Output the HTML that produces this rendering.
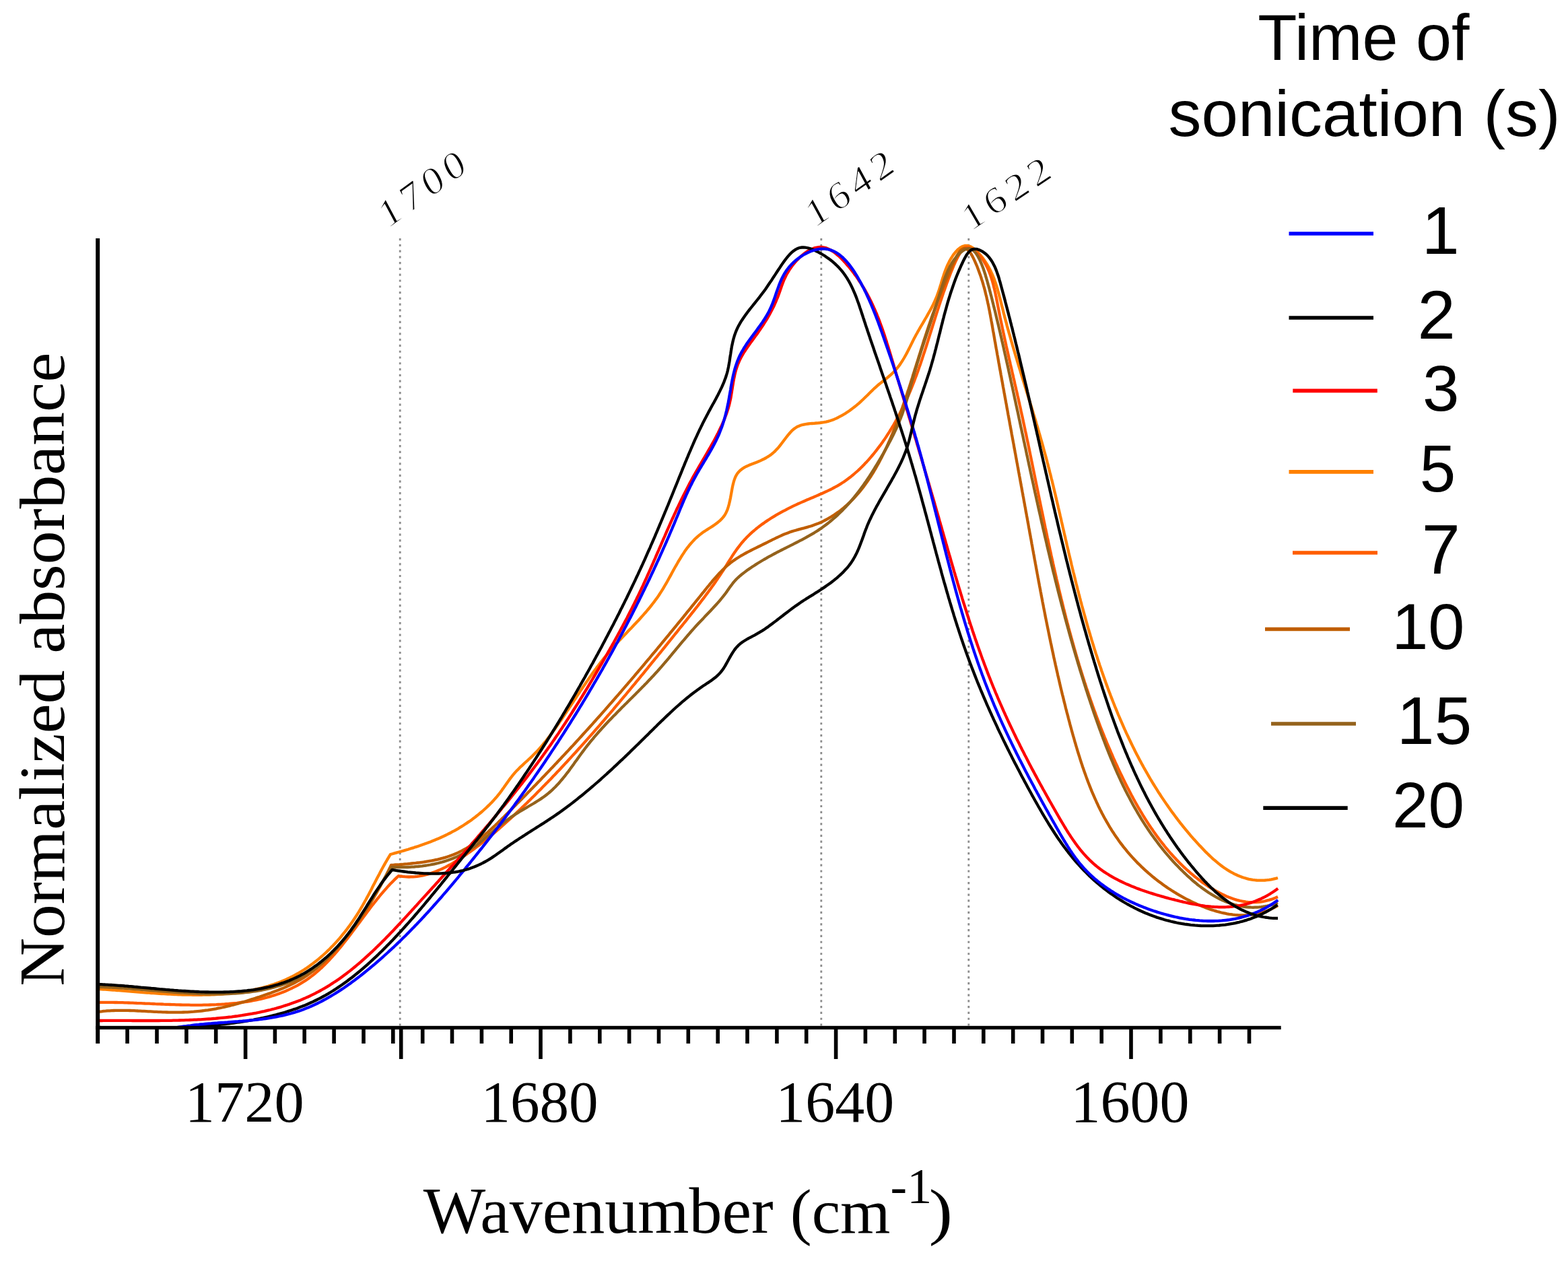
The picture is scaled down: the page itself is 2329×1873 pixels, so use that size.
<!DOCTYPE html>
<html><head><meta charset="utf-8"><title>FTIR spectra - normalized absorbance vs wavenumber</title>
<style>html,body{margin:0;padding:0;background:#fff;overflow:hidden}svg{display:block}</style></head><body>
<svg width="2329" height="1873" viewBox="0 0 2329 1873">
<rect width="2329" height="1873" fill="#fff"/>
<line x1="594.2" y1="354" x2="594.2" y2="1524" stroke="#8c8c8c" stroke-width="2.8" stroke-dasharray="3.2 5.57"/>
<line x1="1219.8" y1="354" x2="1219.8" y2="1524" stroke="#8c8c8c" stroke-width="2.8" stroke-dasharray="3.2 5.57"/>
<line x1="1438.8" y1="354" x2="1438.8" y2="1524" stroke="#8c8c8c" stroke-width="2.8" stroke-dasharray="3.2 5.57"/>
<g fill="none" stroke-width="4.3" stroke-linejoin="round" stroke-linecap="butt">
<path d="M145.0,1469.0 L147.8,1469.2 L150.6,1469.3 L153.4,1469.5 L156.2,1469.7 L159.1,1469.9 L162.0,1470.1 L164.8,1470.3 L167.7,1470.5 L170.6,1470.7 L173.5,1471.0 L176.5,1471.2 L179.4,1471.4 L182.3,1471.7 L185.3,1471.9 L188.3,1472.1 L191.3,1472.4 L194.2,1472.6 L197.2,1472.9 L200.3,1473.1 L203.3,1473.3 L206.3,1473.6 L209.3,1473.8 L212.4,1474.1 L215.4,1474.3 L218.5,1474.5 L221.5,1474.7 L224.6,1475.0 L227.7,1475.2 L230.8,1475.4 L233.8,1475.6 L236.9,1475.8 L240.0,1476.0 L243.1,1476.2 L246.2,1476.4 L249.3,1476.5 L252.5,1476.7 L255.6,1476.9 L258.7,1477.0 L261.8,1477.1 L264.9,1477.3 L268.0,1477.4 L271.1,1477.5 L274.3,1477.6 L277.4,1477.6 L280.5,1477.7 L283.6,1477.7 L286.7,1477.8 L289.9,1477.8 L293.0,1477.8 L296.1,1477.8 L299.2,1477.8 L302.3,1477.7 L305.4,1477.7 L308.5,1477.6 L311.6,1477.5 L314.7,1477.4 L317.8,1477.3 L320.9,1477.1 L324.0,1476.9 L327.0,1476.8 L330.1,1476.5 L333.2,1476.3 L336.2,1476.0 L339.3,1475.8 L342.3,1475.5 L345.4,1475.1 L348.4,1474.8 L351.4,1474.4 L354.4,1474.0 L357.4,1473.6 L360.4,1473.1 L363.4,1472.7 L366.4,1472.2 L369.3,1471.6 L372.3,1471.1 L375.2,1470.5 L378.1,1469.9 L381.0,1469.2 L383.9,1468.5 L386.8,1467.8 L389.7,1467.1 L392.6,1466.3 L395.4,1465.5 L398.2,1464.7 L401.1,1463.8 L403.9,1462.9 L406.7,1462.0 L409.4,1461.0 L412.2,1460.0 L414.9,1459.0 L417.7,1457.9 L420.4,1456.8 L423.1,1455.6 L425.7,1454.5 L428.4,1453.2 L431.0,1452.0 L433.6,1450.7 L436.2,1449.3 L438.8,1447.9 L441.4,1446.5 L443.9,1445.1 L446.4,1443.6 L448.9,1442.0 L451.4,1440.5 L453.9,1438.9 L456.3,1437.2 L458.7,1435.6 L461.1,1433.8 L463.5,1432.1 L465.9,1430.3 L468.2,1428.5 L470.5,1426.7 L472.8,1424.8 L475.1,1422.9 L477.3,1421.0 L479.6,1419.0 L481.8,1417.0 L484.0,1415.0 L486.1,1412.9 L488.3,1410.9 L490.4,1408.8 L492.5,1406.6 L494.6,1404.5 L496.7,1402.3 L498.7,1400.1 L500.7,1397.9 L502.7,1395.6 L504.7,1393.4 L506.6,1391.1 L508.5,1388.7 L510.4,1386.4 L512.3,1384.1 L514.2,1381.7 L516.0,1379.3 L517.8,1376.9 L519.6,1374.4 L521.3,1372.0 L523.1,1369.5 L524.8,1367.0 L526.5,1364.5 L528.1,1362.0 L529.8,1359.5 L531.4,1356.9 L533.0,1354.4 L534.5,1351.8 L536.1,1349.2 L537.6,1346.7 L539.1,1344.0 L540.6,1341.4 L542.0,1338.8 L543.5,1336.2 L544.9,1333.5 L546.3,1330.9 L547.8,1328.2 L549.2,1325.6 L550.6,1322.9 L552.0,1320.2 L553.3,1317.5 L554.7,1314.8 L556.1,1312.2 L557.5,1309.5 L558.9,1306.8 L560.3,1304.1 L561.7,1301.4 L563.2,1298.7 L564.6,1295.9 L566.0,1293.2 L567.5,1290.5 L569.0,1287.8 L570.5,1285.1 L572.0,1282.4 L573.6,1279.7 L575.1,1277.0 L576.7,1274.4 L578.3,1271.7 L580.0,1269.0 L582.9,1268.2 L585.8,1267.4 L588.7,1266.6 L591.6,1265.8 L594.5,1265.0 L597.3,1264.2 L600.2,1263.4 L603.1,1262.5 L605.9,1261.7 L608.8,1260.8 L611.7,1259.9 L614.5,1259.1 L617.3,1258.1 L620.2,1257.2 L623.0,1256.3 L625.8,1255.3 L628.6,1254.3 L631.4,1253.3 L634.2,1252.3 L637.0,1251.2 L639.8,1250.2 L642.6,1249.1 L645.3,1248.0 L648.1,1246.8 L650.8,1245.7 L653.6,1244.5 L656.3,1243.2 L659.0,1242.0 L661.7,1240.7 L664.4,1239.4 L667.1,1238.0 L669.8,1236.7 L672.4,1235.2 L675.1,1233.8 L677.7,1232.3 L680.4,1230.8 L683.0,1229.2 L685.6,1227.6 L688.2,1226.0 L690.8,1224.3 L693.3,1222.6 L695.8,1220.9 L698.4,1219.2 L700.9,1217.4 L703.3,1215.5 L705.8,1213.7 L708.2,1211.8 L710.6,1209.9 L712.9,1208.0 L715.3,1206.0 L717.6,1204.0 L719.8,1202.0 L722.0,1200.0 L724.2,1197.9 L726.3,1195.9 L728.4,1193.8 L730.5,1191.7 L732.5,1189.6 L734.4,1187.4 L736.3,1185.3 L738.2,1183.1 L740.0,1180.9 L741.7,1178.8 L743.4,1176.6 L745.0,1174.4 L746.6,1172.1 L748.2,1169.9 L749.7,1167.7 L751.3,1165.5 L752.9,1163.2 L754.5,1161.0 L756.1,1158.7 L757.8,1156.4 L759.5,1154.2 L761.3,1151.9 L763.2,1149.7 L765.1,1147.4 L767.2,1145.1 L769.4,1142.9 L771.7,1140.6 L774.0,1138.3 L776.5,1136.1 L778.9,1133.8 L781.4,1131.5 L783.9,1129.3 L786.3,1127.0 L788.7,1124.8 L791.0,1122.6 L793.3,1120.3 L795.5,1118.1 L797.6,1115.9 L799.7,1113.6 L801.7,1111.4 L803.7,1109.2 L805.6,1107.0 L807.4,1104.7 L809.3,1102.5 L811.1,1100.3 L812.8,1098.0 L814.6,1095.7 L816.3,1093.5 L818.0,1091.2 L819.7,1088.9 L821.3,1086.6 L823.0,1084.2 L824.7,1081.9 L826.4,1079.5 L828.0,1077.1 L829.7,1074.7 L831.3,1072.3 L833.0,1069.9 L834.7,1067.5 L836.3,1065.1 L838.0,1062.6 L839.6,1060.1 L841.3,1057.7 L842.9,1055.2 L844.6,1052.7 L846.2,1050.2 L847.9,1047.7 L849.5,1045.3 L851.2,1042.8 L852.8,1040.2 L854.5,1037.7 L856.2,1035.2 L857.8,1032.7 L859.5,1030.2 L861.2,1027.7 L862.8,1025.2 L864.5,1022.7 L866.2,1020.2 L867.9,1017.7 L869.6,1015.2 L871.3,1012.7 L873.1,1010.2 L874.8,1007.7 L876.5,1005.2 L878.3,1002.8 L880.0,1000.3 L881.8,997.8 L883.6,995.4 L885.4,993.0 L887.1,990.5 L889.0,988.1 L890.8,985.7 L892.6,983.4 L894.4,981.0 L896.3,978.6 L898.2,976.3 L900.1,974.0 L902.0,971.6 L903.9,969.3 L905.8,967.1 L907.7,964.8 L909.7,962.6 L911.7,960.4 L913.6,958.1 L915.6,956.0 L917.6,953.8 L919.6,951.6 L921.7,949.4 L923.7,947.3 L925.7,945.2 L927.8,943.0 L929.8,940.9 L931.8,938.8 L933.9,936.6 L935.9,934.5 L938.0,932.4 L940.0,930.2 L942.0,928.1 L944.0,926.0 L946.1,923.8 L948.1,921.7 L950.1,919.5 L952.0,917.3 L954.0,915.1 L956.0,912.9 L957.9,910.7 L959.9,908.5 L961.8,906.2 L963.7,904.0 L965.6,901.7 L967.4,899.4 L969.2,897.0 L971.1,894.7 L972.8,892.3 L974.6,889.9 L976.4,887.4 L978.1,885.0 L979.7,882.5 L981.4,879.9 L983.0,877.4 L984.6,874.8 L986.2,872.1 L987.7,869.5 L989.3,866.8 L990.8,864.2 L992.3,861.5 L993.8,858.8 L995.3,856.1 L996.8,853.4 L998.3,850.6 L999.7,847.9 L1001.2,845.2 L1002.7,842.5 L1004.3,839.8 L1005.8,837.2 L1007.3,834.5 L1008.9,831.9 L1010.5,829.3 L1012.1,826.7 L1013.7,824.1 L1015.4,821.6 L1017.0,819.1 L1018.8,816.6 L1020.5,814.2 L1022.4,811.9 L1024.2,809.5 L1026.1,807.3 L1028.1,805.1 L1030.1,802.9 L1032.1,800.8 L1034.2,798.8 L1036.4,796.8 L1038.7,794.9 L1041.0,793.1 L1043.4,791.3 L1045.8,789.6 L1048.3,788.0 L1050.8,786.4 L1053.3,784.8 L1055.8,783.2 L1058.3,781.6 L1060.7,780.0 L1063.1,778.3 L1065.5,776.5 L1067.7,774.7 L1069.9,772.8 L1071.9,770.7 L1073.8,768.6 L1075.6,766.3 L1077.2,763.8 L1078.6,761.2 L1079.9,758.4 L1081.0,755.5 L1081.9,752.5 L1082.8,749.3 L1083.6,746.1 L1084.3,742.8 L1085.0,739.5 L1085.6,736.2 L1086.2,732.8 L1086.8,729.5 L1087.4,726.2 L1088.0,723.0 L1088.7,719.9 L1089.5,716.8 L1090.3,713.9 L1091.3,711.1 L1092.3,708.5 L1093.6,706.0 L1094.9,703.8 L1096.5,701.7 L1098.2,699.9 L1100.1,698.2 L1102.1,696.6 L1104.2,695.2 L1106.4,693.9 L1108.8,692.7 L1111.2,691.6 L1113.7,690.5 L1116.3,689.5 L1118.9,688.5 L1121.6,687.4 L1124.3,686.4 L1127.1,685.3 L1129.8,684.1 L1132.5,682.8 L1135.2,681.5 L1137.9,680.0 L1140.5,678.4 L1143.1,676.7 L1145.6,674.9 L1148.0,673.0 L1150.4,670.9 L1152.6,668.6 L1154.8,666.3 L1156.9,663.9 L1158.9,661.4 L1160.9,658.8 L1162.8,656.3 L1164.7,653.7 L1166.6,651.2 L1168.5,648.7 L1170.4,646.3 L1172.4,644.0 L1174.3,641.8 L1176.3,639.7 L1178.4,637.8 L1180.5,636.2 L1182.8,634.7 L1185.1,633.4 L1187.5,632.4 L1189.9,631.5 L1192.5,630.9 L1195.1,630.3 L1197.8,629.9 L1200.5,629.5 L1203.3,629.2 L1206.2,629.0 L1209.0,628.8 L1212.0,628.5 L1214.9,628.3 L1217.9,628.0 L1220.9,627.6 L1223.8,627.2 L1226.9,626.6 L1229.9,625.9 L1232.9,625.0 L1235.9,624.0 L1238.8,622.9 L1241.8,621.6 L1244.7,620.2 L1247.6,618.7 L1250.5,617.2 L1253.3,615.5 L1256.1,613.8 L1258.8,612.0 L1261.5,610.2 L1264.1,608.3 L1266.6,606.4 L1269.1,604.5 L1271.5,602.6 L1273.8,600.7 L1276.0,598.8 L1278.1,596.9 L1280.1,595.0 L1282.0,593.2 L1284.0,591.3 L1285.8,589.5 L1287.7,587.7 L1289.5,585.9 L1291.4,584.0 L1293.2,582.2 L1295.1,580.4 L1297.0,578.5 L1299.0,576.7 L1301.1,574.8 L1303.2,572.9 L1305.4,571.0 L1307.8,569.1 L1310.2,567.2 L1312.8,565.2 L1315.3,563.2 L1317.9,561.1 L1320.4,559.0 L1322.9,556.9 L1325.2,554.7 L1327.5,552.5 L1329.6,550.3 L1331.6,548.0 L1333.5,545.6 L1335.3,543.3 L1337.1,540.9 L1338.7,538.4 L1340.3,536.0 L1341.8,533.5 L1343.3,531.0 L1344.7,528.5 L1346.1,525.9 L1347.5,523.4 L1348.8,520.8 L1350.1,518.2 L1351.4,515.6 L1352.7,513.0 L1354.0,510.4 L1355.3,507.7 L1356.6,505.1 L1357.9,502.5 L1359.3,499.9 L1360.7,497.3 L1362.2,494.7 L1363.6,492.1 L1365.1,489.5 L1366.6,486.9 L1368.1,484.3 L1369.7,481.7 L1371.2,479.1 L1372.8,476.4 L1374.3,473.8 L1375.8,471.2 L1377.3,468.6 L1378.8,465.9 L1380.3,463.3 L1381.8,460.6 L1383.2,457.9 L1384.6,455.2 L1386.0,452.5 L1387.3,449.8 L1388.5,447.1 L1389.7,444.3 L1390.9,441.5 L1392.0,438.7 L1393.0,435.9 L1394.0,433.1 L1395.0,430.2 L1395.9,427.3 L1396.8,424.5 L1397.7,421.6 L1398.5,418.7 L1399.4,415.8 L1400.3,412.9 L1401.3,410.0 L1402.2,407.1 L1403.2,404.2 L1404.3,401.4 L1405.4,398.5 L1406.6,395.7 L1407.8,392.9 L1409.2,390.1 L1410.6,387.3 L1412.2,384.5 L1413.9,381.8 L1415.6,379.1 L1417.5,376.6 L1419.5,374.2 L1421.6,371.9 L1423.7,369.9 L1425.9,368.2 L1428.2,366.8 L1430.5,365.7 L1432.9,365.0 L1435.3,364.8 L1437.7,365.0 L1440.1,365.7 L1442.6,366.8 L1445.0,368.3 L1447.4,370.0 L1449.7,372.1 L1452.0,374.3 L1454.1,376.6 L1456.2,379.0 L1458.2,381.4 L1460.2,383.9 L1462.0,386.4 L1463.7,388.9 L1465.3,391.4 L1466.9,394.0 L1468.4,396.6 L1469.8,399.2 L1471.1,401.8 L1472.4,404.5 L1473.6,407.2 L1474.8,409.9 L1475.9,412.6 L1476.9,415.3 L1477.9,418.1 L1478.9,420.8 L1479.8,423.6 L1480.7,426.4 L1481.5,429.2 L1482.3,432.0 L1483.1,434.9 L1483.9,437.7 L1484.6,440.5 L1485.4,443.4 L1486.1,446.3 L1486.8,449.1 L1487.5,452.0 L1488.2,454.9 L1489.0,457.8 L1489.7,460.6 L1490.4,463.5 L1491.1,466.4 L1491.9,469.3 L1492.6,472.2 L1493.4,475.0 L1494.2,477.9 L1495.0,480.8 L1495.7,483.7 L1496.5,486.6 L1497.3,489.5 L1498.1,492.4 L1498.9,495.2 L1499.8,498.1 L1500.6,501.0 L1501.4,503.9 L1502.2,506.8 L1503.1,509.7 L1503.9,512.6 L1504.8,515.5 L1505.6,518.4 L1506.5,521.3 L1507.3,524.2 L1508.2,527.1 L1509.1,530.0 L1510.0,532.9 L1510.8,535.8 L1511.7,538.7 L1512.6,541.6 L1513.5,544.5 L1514.4,547.4 L1515.3,550.3 L1516.1,553.2 L1517.0,556.1 L1517.9,559.0 L1518.8,561.9 L1519.7,564.8 L1520.6,567.7 L1521.5,570.6 L1522.4,573.5 L1523.3,576.4 L1524.2,579.4 L1525.1,582.3 L1526.0,585.2 L1526.9,588.1 L1527.8,591.0 L1528.7,593.9 L1529.6,596.8 L1530.5,599.7 L1531.4,602.6 L1532.3,605.5 L1533.2,608.5 L1534.1,611.4 L1534.9,614.3 L1535.8,617.2 L1536.7,620.1 L1537.6,623.0 L1538.5,625.9 L1539.3,628.8 L1540.2,631.8 L1541.1,634.7 L1541.9,637.6 L1542.8,640.5 L1543.6,643.4 L1544.5,646.3 L1545.3,649.3 L1546.1,652.2 L1547.0,655.1 L1547.8,658.0 L1548.6,660.9 L1549.4,663.8 L1550.2,666.7 L1551.0,669.7 L1551.8,672.6 L1552.6,675.5 L1553.4,678.4 L1554.2,681.3 L1555.0,684.2 L1555.7,687.2 L1556.5,690.1 L1557.2,693.0 L1558.0,695.9 L1558.7,698.8 L1559.4,701.7 L1560.2,704.6 L1560.9,707.6 L1561.6,710.5 L1562.4,713.4 L1563.1,716.3 L1563.8,719.2 L1564.5,722.1 L1565.2,725.0 L1565.9,728.0 L1566.6,730.9 L1567.3,733.8 L1568.0,736.7 L1568.6,739.6 L1569.3,742.5 L1570.0,745.4 L1570.7,748.4 L1571.4,751.3 L1572.0,754.2 L1572.7,757.1 L1573.4,760.0 L1574.1,762.9 L1574.7,765.8 L1575.4,768.7 L1576.1,771.6 L1576.7,774.5 L1577.4,777.4 L1578.1,780.4 L1578.7,783.3 L1579.4,786.2 L1580.1,789.1 L1580.7,792.0 L1581.4,794.9 L1582.1,797.8 L1582.7,800.7 L1583.4,803.6 L1584.1,806.5 L1584.7,809.4 L1585.4,812.3 L1586.1,815.2 L1586.8,818.1 L1587.4,821.0 L1588.1,823.9 L1588.8,826.8 L1589.5,829.7 L1590.2,832.6 L1590.9,835.5 L1591.5,838.4 L1592.2,841.3 L1592.9,844.2 L1593.6,847.1 L1594.3,850.0 L1595.1,852.8 L1595.8,855.7 L1596.5,858.6 L1597.2,861.5 L1597.9,864.4 L1598.6,867.3 L1599.4,870.2 L1600.1,873.1 L1600.8,876.0 L1601.6,878.8 L1602.3,881.7 L1603.1,884.6 L1603.8,887.5 L1604.6,890.4 L1605.3,893.2 L1606.1,896.1 L1606.8,899.0 L1607.6,901.9 L1608.4,904.7 L1609.2,907.6 L1610.0,910.5 L1610.8,913.4 L1611.6,916.2 L1612.4,919.1 L1613.2,922.0 L1614.0,924.8 L1614.8,927.7 L1615.6,930.6 L1616.4,933.4 L1617.3,936.3 L1618.1,939.2 L1619.0,942.0 L1619.8,944.9 L1620.7,947.7 L1621.5,950.6 L1622.4,953.4 L1623.3,956.3 L1624.2,959.2 L1625.0,962.0 L1625.9,964.9 L1626.8,967.7 L1627.7,970.6 L1628.7,973.4 L1629.6,976.2 L1630.5,979.1 L1631.4,981.9 L1632.4,984.8 L1633.3,987.6 L1634.3,990.4 L1635.3,993.3 L1636.2,996.1 L1637.2,998.9 L1638.2,1001.8 L1639.2,1004.6 L1640.2,1007.4 L1641.2,1010.3 L1642.2,1013.1 L1643.2,1015.9 L1644.3,1018.7 L1645.3,1021.6 L1646.3,1024.4 L1647.4,1027.2 L1648.5,1030.0 L1649.5,1032.8 L1650.6,1035.6 L1651.7,1038.4 L1652.8,1041.2 L1653.9,1044.0 L1655.0,1046.8 L1656.1,1049.6 L1657.3,1052.4 L1658.4,1055.2 L1659.6,1058.0 L1660.7,1060.8 L1661.9,1063.5 L1663.1,1066.3 L1664.3,1069.1 L1665.5,1071.8 L1666.7,1074.6 L1667.9,1077.4 L1669.1,1080.1 L1670.3,1082.9 L1671.6,1085.6 L1672.8,1088.4 L1674.1,1091.1 L1675.4,1093.8 L1676.7,1096.6 L1678.0,1099.3 L1679.3,1102.0 L1680.6,1104.7 L1681.9,1107.4 L1683.2,1110.1 L1684.6,1112.8 L1685.9,1115.5 L1687.3,1118.2 L1688.7,1120.9 L1690.1,1123.6 L1691.5,1126.2 L1692.9,1128.9 L1694.3,1131.6 L1695.7,1134.2 L1697.2,1136.9 L1698.6,1139.5 L1700.1,1142.1 L1701.6,1144.8 L1703.1,1147.4 L1704.6,1150.0 L1706.1,1152.6 L1707.6,1155.2 L1709.1,1157.8 L1710.7,1160.4 L1712.2,1163.0 L1713.8,1165.5 L1715.4,1168.1 L1717.0,1170.7 L1718.6,1173.2 L1720.2,1175.8 L1721.8,1178.3 L1723.5,1180.8 L1725.1,1183.4 L1726.8,1185.9 L1728.5,1188.4 L1730.2,1190.9 L1731.9,1193.4 L1733.6,1195.8 L1735.3,1198.3 L1737.1,1200.8 L1738.8,1203.2 L1740.6,1205.7 L1742.4,1208.1 L1744.2,1210.5 L1746.0,1213.0 L1747.8,1215.4 L1749.6,1217.8 L1751.5,1220.2 L1753.3,1222.6 L1755.2,1224.9 L1757.1,1227.3 L1759.0,1229.6 L1760.9,1232.0 L1762.9,1234.3 L1764.8,1236.7 L1766.8,1239.0 L1768.7,1241.3 L1770.7,1243.6 L1772.7,1245.9 L1774.8,1248.1 L1776.8,1250.4 L1778.8,1252.6 L1780.9,1254.9 L1783.0,1257.1 L1785.1,1259.3 L1787.2,1261.5 L1789.3,1263.7 L1791.4,1265.9 L1793.6,1268.0 L1795.8,1270.1 L1798.0,1272.2 L1800.2,1274.3 L1802.4,1276.3 L1804.7,1278.2 L1807.0,1280.2 L1809.3,1282.1 L1811.6,1283.9 L1813.9,1285.7 L1816.3,1287.5 L1818.7,1289.2 L1821.1,1290.8 L1823.5,1292.4 L1826.0,1293.9 L1828.5,1295.4 L1831.0,1296.7 L1833.6,1298.1 L1836.2,1299.3 L1838.8,1300.5 L1841.4,1301.6 L1844.1,1302.6 L1846.8,1303.5 L1849.5,1304.3 L1852.3,1305.1 L1855.1,1305.8 L1857.9,1306.3 L1860.8,1306.8 L1863.7,1307.2 L1866.6,1307.5 L1869.6,1307.6 L1872.6,1307.7 L1875.6,1307.6 L1878.7,1307.5 L1881.8,1307.2 L1885.0,1306.8 L1888.2,1306.3 L1891.4,1305.7 L1894.7,1304.9 L1898.0,1304.0" stroke="#ff8000"/>
<path d="M145.0,1489.0 L147.8,1488.9 L150.6,1488.9 L153.4,1488.9 L156.2,1488.9 L159.0,1488.9 L161.9,1488.9 L164.7,1488.9 L167.6,1488.9 L170.5,1489.0 L173.4,1489.0 L176.4,1489.1 L179.3,1489.2 L182.2,1489.2 L185.2,1489.3 L188.2,1489.4 L191.1,1489.5 L194.1,1489.6 L197.1,1489.7 L200.1,1489.8 L203.2,1490.0 L206.2,1490.1 L209.2,1490.2 L212.3,1490.3 L215.3,1490.5 L218.4,1490.6 L221.5,1490.7 L224.6,1490.9 L227.6,1491.0 L230.7,1491.2 L233.8,1491.3 L236.9,1491.4 L240.0,1491.5 L243.1,1491.7 L246.3,1491.8 L249.4,1491.9 L252.5,1492.0 L255.6,1492.1 L258.7,1492.2 L261.9,1492.3 L265.0,1492.4 L268.1,1492.5 L271.3,1492.6 L274.4,1492.6 L277.5,1492.7 L280.7,1492.7 L283.8,1492.8 L286.9,1492.8 L290.1,1492.8 L293.2,1492.8 L296.3,1492.8 L299.5,1492.8 L302.6,1492.7 L305.7,1492.7 L308.8,1492.6 L311.9,1492.5 L315.0,1492.4 L318.1,1492.3 L321.2,1492.2 L324.3,1492.0 L327.4,1491.9 L330.5,1491.7 L333.6,1491.5 L336.6,1491.2 L339.7,1491.0 L342.7,1490.7 L345.8,1490.4 L348.8,1490.1 L351.8,1489.8 L354.9,1489.4 L357.9,1489.0 L360.9,1488.6 L363.8,1488.2 L366.8,1487.8 L369.8,1487.3 L372.7,1486.8 L375.7,1486.2 L378.6,1485.7 L381.5,1485.1 L384.4,1484.5 L387.3,1483.8 L390.1,1483.1 L393.0,1482.4 L395.8,1481.7 L398.7,1480.9 L401.5,1480.1 L404.3,1479.3 L407.1,1478.4 L409.8,1477.5 L412.6,1476.5 L415.3,1475.6 L418.0,1474.6 L420.7,1473.5 L423.4,1472.4 L426.0,1471.3 L428.6,1470.1 L431.2,1468.9 L433.8,1467.7 L436.4,1466.4 L439.0,1465.1 L441.5,1463.8 L444.0,1462.4 L446.5,1460.9 L448.9,1459.4 L451.4,1457.9 L453.8,1456.4 L456.2,1454.7 L458.6,1453.1 L460.9,1451.4 L463.2,1449.6 L465.5,1447.9 L467.8,1446.0 L470.0,1444.2 L472.3,1442.2 L474.5,1440.3 L476.6,1438.3 L478.8,1436.3 L480.9,1434.2 L483.1,1432.1 L485.2,1430.0 L487.3,1427.8 L489.3,1425.7 L491.4,1423.4 L493.4,1421.2 L495.5,1418.9 L497.5,1416.7 L499.5,1414.3 L501.5,1412.0 L503.4,1409.6 L505.4,1407.3 L507.4,1404.9 L509.3,1402.5 L511.2,1400.0 L513.1,1397.6 L515.1,1395.2 L517.0,1392.7 L518.9,1390.2 L520.8,1387.7 L522.6,1385.2 L524.5,1382.7 L526.4,1380.2 L528.3,1377.7 L530.1,1375.2 L532.0,1372.7 L533.9,1370.2 L535.7,1367.7 L537.6,1365.2 L539.4,1362.7 L541.3,1360.2 L543.2,1357.7 L545.0,1355.2 L546.9,1352.7 L548.8,1350.2 L550.6,1347.8 L552.5,1345.3 L554.4,1342.9 L556.3,1340.5 L558.2,1338.1 L560.1,1335.7 L562.0,1333.3 L563.9,1331.0 L565.8,1328.7 L567.8,1326.4 L569.7,1324.1 L571.7,1321.8 L573.7,1319.6 L575.6,1317.4 L577.6,1315.2 L579.6,1313.1 L581.7,1311.0 L583.7,1308.9 L585.7,1306.9 L587.8,1304.9 L589.9,1302.9 L592.0,1301.0 L595.1,1301.5 L598.2,1301.9 L601.3,1302.2 L604.4,1302.4 L607.4,1302.5 L610.5,1302.4 L613.5,1302.3 L616.4,1302.1 L619.4,1301.8 L622.3,1301.4 L625.3,1300.9 L628.2,1300.3 L631.0,1299.7 L633.9,1299.0 L636.7,1298.2 L639.6,1297.3 L642.4,1296.3 L645.2,1295.3 L647.9,1294.3 L650.7,1293.1 L653.4,1291.9 L656.1,1290.7 L658.8,1289.4 L661.5,1288.1 L664.2,1286.7 L666.8,1285.2 L669.5,1283.8 L672.1,1282.3 L674.7,1280.7 L677.3,1279.1 L679.8,1277.5 L682.4,1275.9 L684.9,1274.2 L687.4,1272.6 L690.0,1270.9 L692.5,1269.2 L694.9,1267.4 L697.4,1265.7 L699.9,1263.9 L702.3,1262.2 L704.8,1260.4 L707.2,1258.6 L709.6,1256.8 L712.0,1255.0 L714.4,1253.1 L716.7,1251.3 L719.1,1249.4 L721.4,1247.5 L723.8,1245.7 L726.1,1243.8 L728.4,1241.9 L730.7,1239.9 L733.0,1238.0 L735.3,1236.1 L737.6,1234.1 L739.9,1232.2 L742.1,1230.2 L744.4,1228.2 L746.7,1226.2 L748.9,1224.2 L751.1,1222.2 L753.3,1220.2 L755.6,1218.2 L757.8,1216.2 L760.0,1214.1 L762.2,1212.1 L764.4,1210.1 L766.5,1208.0 L768.7,1205.9 L770.9,1203.9 L773.1,1201.8 L775.2,1199.7 L777.4,1197.7 L779.5,1195.6 L781.7,1193.5 L783.8,1191.4 L786.0,1189.3 L788.1,1187.2 L790.2,1185.1 L792.4,1183.0 L794.5,1180.9 L796.6,1178.8 L798.7,1176.6 L800.8,1174.5 L802.9,1172.4 L805.0,1170.2 L807.1,1168.1 L809.2,1166.0 L811.3,1163.8 L813.4,1161.7 L815.5,1159.5 L817.6,1157.4 L819.7,1155.2 L821.7,1153.0 L823.8,1150.9 L825.9,1148.7 L827.9,1146.5 L830.0,1144.4 L832.1,1142.2 L834.1,1140.0 L836.2,1137.8 L838.2,1135.6 L840.2,1133.4 L842.3,1131.2 L844.3,1129.0 L846.4,1126.8 L848.4,1124.6 L850.4,1122.4 L852.4,1120.2 L854.5,1118.0 L856.5,1115.8 L858.5,1113.5 L860.5,1111.3 L862.5,1109.1 L864.5,1106.8 L866.5,1104.6 L868.5,1102.4 L870.5,1100.1 L872.5,1097.9 L874.5,1095.6 L876.5,1093.4 L878.5,1091.1 L880.5,1088.9 L882.5,1086.6 L884.4,1084.4 L886.4,1082.1 L888.4,1079.8 L890.4,1077.6 L892.3,1075.3 L894.3,1073.0 L896.3,1070.8 L898.2,1068.5 L900.2,1066.2 L902.1,1063.9 L904.1,1061.6 L906.1,1059.4 L908.0,1057.1 L910.0,1054.8 L911.9,1052.5 L913.9,1050.2 L915.8,1047.9 L917.7,1045.6 L919.7,1043.3 L921.6,1041.0 L923.6,1038.7 L925.5,1036.4 L927.4,1034.1 L929.4,1031.8 L931.3,1029.5 L933.2,1027.1 L935.2,1024.8 L937.1,1022.5 L939.0,1020.2 L940.9,1017.9 L942.9,1015.6 L944.8,1013.2 L946.7,1010.9 L948.6,1008.6 L950.5,1006.3 L952.4,1003.9 L954.4,1001.6 L956.3,999.3 L958.2,996.9 L960.1,994.6 L962.0,992.3 L963.9,989.9 L965.8,987.6 L967.7,985.2 L969.6,982.9 L971.5,980.6 L973.4,978.2 L975.4,975.9 L977.3,973.5 L979.2,971.2 L981.1,968.8 L983.0,966.5 L984.9,964.1 L986.8,961.8 L988.7,959.4 L990.6,957.1 L992.5,954.7 L994.4,952.4 L996.3,950.0 L998.2,947.7 L1000.0,945.3 L1001.9,943.0 L1003.8,940.6 L1005.7,938.3 L1007.6,935.9 L1009.5,933.5 L1011.4,931.2 L1013.3,928.8 L1015.2,926.5 L1017.1,924.1 L1019.0,921.8 L1020.9,919.4 L1022.8,917.0 L1024.7,914.7 L1026.5,912.3 L1028.4,909.9 L1030.3,907.6 L1032.2,905.2 L1034.0,902.8 L1035.9,900.5 L1037.7,898.1 L1039.6,895.7 L1041.4,893.3 L1043.2,890.9 L1045.0,888.6 L1046.8,886.2 L1048.6,883.8 L1050.4,881.4 L1052.2,879.0 L1053.9,876.6 L1055.7,874.2 L1057.4,871.8 L1059.1,869.4 L1060.9,866.9 L1062.6,864.5 L1064.2,862.1 L1065.9,859.7 L1067.5,857.2 L1069.2,854.8 L1070.8,852.4 L1072.4,849.9 L1074.0,847.5 L1075.6,845.0 L1077.1,842.5 L1078.7,840.1 L1080.2,837.6 L1081.7,835.2 L1083.3,832.7 L1084.8,830.3 L1086.4,827.8 L1087.9,825.4 L1089.5,823.0 L1091.1,820.6 L1092.8,818.3 L1094.4,815.9 L1096.1,813.6 L1097.9,811.3 L1099.7,809.0 L1101.5,806.7 L1103.4,804.5 L1105.3,802.3 L1107.3,800.2 L1109.3,798.1 L1111.4,796.0 L1113.5,793.9 L1115.7,791.9 L1117.9,789.9 L1120.2,788.0 L1122.5,786.0 L1124.8,784.1 L1127.2,782.3 L1129.6,780.4 L1132.1,778.6 L1134.6,776.9 L1137.1,775.1 L1139.6,773.4 L1142.2,771.7 L1144.8,770.0 L1147.4,768.4 L1150.0,766.8 L1152.7,765.2 L1155.4,763.7 L1158.1,762.2 L1160.8,760.7 L1163.5,759.2 L1166.2,757.8 L1168.9,756.3 L1171.7,754.9 L1174.4,753.6 L1177.2,752.2 L1179.9,750.9 L1182.7,749.6 L1185.5,748.3 L1188.2,747.1 L1190.9,745.9 L1193.7,744.7 L1196.4,743.5 L1199.1,742.3 L1201.8,741.2 L1204.5,740.0 L1207.2,738.9 L1209.9,737.8 L1212.6,736.6 L1215.2,735.5 L1217.8,734.3 L1220.5,733.2 L1223.1,732.0 L1225.7,730.8 L1228.3,729.6 L1230.9,728.4 L1233.4,727.2 L1236.0,725.9 L1238.5,724.5 L1241.0,723.2 L1243.5,721.8 L1246.0,720.3 L1248.5,718.8 L1250.9,717.3 L1253.4,715.7 L1255.8,714.0 L1258.2,712.3 L1260.5,710.6 L1262.9,708.8 L1265.2,706.9 L1267.5,705.0 L1269.8,703.0 L1272.1,701.0 L1274.4,699.0 L1276.6,696.9 L1278.8,694.7 L1281.0,692.6 L1283.1,690.4 L1285.3,688.1 L1287.4,685.9 L1289.5,683.6 L1291.5,681.3 L1293.6,678.9 L1295.6,676.5 L1297.6,674.2 L1299.5,671.7 L1301.4,669.3 L1303.3,666.9 L1305.2,664.4 L1307.1,661.9 L1308.9,659.4 L1310.7,657.0 L1312.4,654.4 L1314.2,651.9 L1315.9,649.4 L1317.5,646.9 L1319.2,644.3 L1320.8,641.8 L1322.4,639.2 L1324.0,636.6 L1325.6,634.0 L1327.1,631.5 L1328.6,628.9 L1330.1,626.2 L1331.5,623.6 L1332.9,621.0 L1334.4,618.4 L1335.7,615.7 L1337.1,613.1 L1338.5,610.4 L1339.8,607.8 L1341.1,605.1 L1342.4,602.4 L1343.6,599.8 L1344.9,597.1 L1346.1,594.4 L1347.3,591.7 L1348.5,589.0 L1349.7,586.3 L1350.8,583.6 L1352.0,580.9 L1353.1,578.2 L1354.2,575.4 L1355.3,572.7 L1356.4,570.0 L1357.5,567.2 L1358.5,564.5 L1359.5,561.7 L1360.6,559.0 L1361.6,556.2 L1362.6,553.5 L1363.6,550.7 L1364.6,547.9 L1365.5,545.1 L1366.5,542.4 L1367.5,539.6 L1368.4,536.8 L1369.4,534.0 L1370.3,531.2 L1371.2,528.4 L1372.1,525.6 L1373.1,522.8 L1374.0,519.9 L1374.9,517.1 L1375.8,514.3 L1376.7,511.5 L1377.6,508.6 L1378.5,505.8 L1379.4,502.9 L1380.3,500.1 L1381.2,497.2 L1382.1,494.4 L1383.0,491.5 L1383.9,488.6 L1384.8,485.8 L1385.7,482.9 L1386.6,480.0 L1387.5,477.1 L1388.4,474.3 L1389.3,471.4 L1390.2,468.5 L1391.1,465.6 L1392.1,462.7 L1393.0,459.8 L1394.0,456.9 L1394.9,453.9 L1395.9,451.0 L1396.8,448.1 L1397.8,445.2 L1398.8,442.3 L1399.8,439.3 L1400.8,436.4 L1401.8,433.4 L1402.9,430.5 L1403.9,427.6 L1405.0,424.6 L1406.0,421.6 L1407.1,418.7 L1408.2,415.7 L1409.3,412.8 L1410.5,409.8 L1411.6,406.8 L1412.8,403.8 L1414.0,400.9 L1415.2,397.9 L1416.4,394.9 L1417.7,392.0 L1419.0,389.1 L1420.4,386.2 L1421.8,383.4 L1423.3,380.6 L1424.8,377.9 L1426.4,375.3 L1428.1,372.9 L1429.9,370.8 L1431.8,369.1 L1433.7,367.9 L1435.8,367.4 L1438.0,367.4 L1440.2,367.9 L1442.4,368.9 L1444.7,370.2 L1446.8,371.8 L1449.0,373.5 L1451.0,375.4 L1453.0,377.3 L1454.8,379.4 L1456.6,381.5 L1458.3,383.6 L1459.9,385.9 L1461.4,388.2 L1462.8,390.6 L1464.2,393.0 L1465.5,395.6 L1466.8,398.1 L1467.9,400.7 L1469.1,403.4 L1470.1,406.1 L1471.1,408.9 L1472.1,411.7 L1473.0,414.5 L1473.9,417.4 L1474.7,420.3 L1475.5,423.3 L1476.2,426.3 L1477.0,429.3 L1477.7,432.3 L1478.4,435.3 L1479.0,438.4 L1479.7,441.4 L1480.3,444.5 L1480.9,447.6 L1481.5,450.7 L1482.1,453.8 L1482.7,456.8 L1483.3,459.9 L1483.9,463.0 L1484.5,466.0 L1485.1,469.1 L1485.7,472.2 L1486.4,475.2 L1487.0,478.2 L1487.6,481.3 L1488.3,484.3 L1488.9,487.3 L1489.5,490.3 L1490.2,493.3 L1490.8,496.3 L1491.5,499.3 L1492.1,502.3 L1492.8,505.3 L1493.4,508.3 L1494.1,511.2 L1494.7,514.2 L1495.4,517.2 L1496.1,520.1 L1496.7,523.1 L1497.4,526.0 L1498.1,529.0 L1498.7,531.9 L1499.4,534.9 L1500.1,537.8 L1500.7,540.7 L1501.4,543.7 L1502.1,546.6 L1502.8,549.5 L1503.4,552.4 L1504.1,555.4 L1504.8,558.3 L1505.4,561.2 L1506.1,564.1 L1506.8,567.0 L1507.4,570.0 L1508.1,572.9 L1508.8,575.8 L1509.4,578.7 L1510.1,581.6 L1510.8,584.5 L1511.4,587.4 L1512.1,590.3 L1512.8,593.2 L1513.4,596.2 L1514.1,599.1 L1514.7,602.0 L1515.4,604.9 L1516.0,607.8 L1516.6,610.7 L1517.3,613.7 L1517.9,616.6 L1518.6,619.5 L1519.2,622.4 L1519.8,625.3 L1520.4,628.3 L1521.1,631.2 L1521.7,634.1 L1522.3,637.0 L1522.9,639.9 L1523.6,642.9 L1524.2,645.8 L1524.8,648.7 L1525.4,651.6 L1526.0,654.6 L1526.7,657.5 L1527.3,660.4 L1527.9,663.4 L1528.5,666.3 L1529.1,669.2 L1529.7,672.1 L1530.3,675.1 L1530.9,678.0 L1531.5,680.9 L1532.1,683.9 L1532.7,686.8 L1533.3,689.7 L1533.9,692.7 L1534.5,695.6 L1535.1,698.5 L1535.7,701.5 L1536.3,704.4 L1536.9,707.3 L1537.5,710.3 L1538.1,713.2 L1538.7,716.2 L1539.3,719.1 L1539.9,722.0 L1540.5,725.0 L1541.1,727.9 L1541.7,730.8 L1542.3,733.8 L1542.9,736.7 L1543.5,739.6 L1544.1,742.6 L1544.7,745.5 L1545.3,748.4 L1545.9,751.4 L1546.5,754.3 L1547.1,757.3 L1547.8,760.2 L1548.4,763.1 L1549.0,766.1 L1549.6,769.0 L1550.2,771.9 L1550.8,774.9 L1551.4,777.8 L1552.0,780.7 L1552.6,783.7 L1553.3,786.6 L1553.9,789.6 L1554.5,792.5 L1555.1,795.4 L1555.7,798.4 L1556.4,801.3 L1557.0,804.2 L1557.6,807.2 L1558.2,810.1 L1558.9,813.0 L1559.5,816.0 L1560.2,818.9 L1560.8,821.8 L1561.4,824.7 L1562.1,827.7 L1562.7,830.6 L1563.4,833.5 L1564.0,836.5 L1564.7,839.4 L1565.3,842.3 L1566.0,845.2 L1566.7,848.2 L1567.3,851.1 L1568.0,854.0 L1568.7,856.9 L1569.3,859.9 L1570.0,862.8 L1570.7,865.7 L1571.4,868.6 L1572.1,871.6 L1572.7,874.5 L1573.4,877.4 L1574.1,880.3 L1574.8,883.2 L1575.5,886.1 L1576.2,889.1 L1577.0,892.0 L1577.7,894.9 L1578.4,897.8 L1579.1,900.7 L1579.8,903.6 L1580.6,906.5 L1581.3,909.4 L1582.0,912.4 L1582.8,915.3 L1583.5,918.2 L1584.3,921.1 L1585.0,924.0 L1585.8,926.9 L1586.6,929.8 L1587.3,932.7 L1588.1,935.6 L1588.9,938.5 L1589.7,941.4 L1590.5,944.3 L1591.3,947.2 L1592.1,950.1 L1592.9,953.0 L1593.7,955.9 L1594.5,958.7 L1595.3,961.6 L1596.1,964.5 L1597.0,967.4 L1597.8,970.3 L1598.6,973.2 L1599.5,976.1 L1600.3,978.9 L1601.2,981.8 L1602.1,984.7 L1602.9,987.6 L1603.8,990.4 L1604.7,993.3 L1605.6,996.2 L1606.5,999.1 L1607.4,1001.9 L1608.3,1004.8 L1609.2,1007.7 L1610.1,1010.5 L1611.0,1013.4 L1612.0,1016.2 L1612.9,1019.1 L1613.8,1022.0 L1614.8,1024.8 L1615.8,1027.7 L1616.7,1030.5 L1617.7,1033.4 L1618.7,1036.2 L1619.7,1039.1 L1620.7,1041.9 L1621.7,1044.7 L1622.7,1047.6 L1623.7,1050.4 L1624.7,1053.3 L1625.7,1056.1 L1626.8,1058.9 L1627.8,1061.8 L1628.9,1064.6 L1629.9,1067.4 L1631.0,1070.2 L1632.1,1073.1 L1633.1,1075.9 L1634.2,1078.7 L1635.3,1081.5 L1636.4,1084.3 L1637.6,1087.2 L1638.7,1090.0 L1639.8,1092.8 L1640.9,1095.6 L1642.1,1098.4 L1643.2,1101.2 L1644.4,1104.0 L1645.6,1106.8 L1646.8,1109.6 L1648.0,1112.4 L1649.2,1115.2 L1650.4,1118.0 L1651.6,1120.7 L1652.8,1123.5 L1654.0,1126.3 L1655.3,1129.1 L1656.5,1131.9 L1657.8,1134.6 L1659.1,1137.4 L1660.3,1140.2 L1661.6,1142.9 L1662.9,1145.7 L1664.2,1148.5 L1665.6,1151.2 L1666.9,1154.0 L1668.2,1156.7 L1669.6,1159.5 L1670.9,1162.2 L1672.3,1165.0 L1673.7,1167.7 L1675.1,1170.4 L1676.5,1173.1 L1677.9,1175.8 L1679.3,1178.5 L1680.7,1181.2 L1682.2,1183.9 L1683.6,1186.6 L1685.1,1189.3 L1686.6,1192.0 L1688.1,1194.6 L1689.6,1197.3 L1691.1,1199.9 L1692.7,1202.5 L1694.2,1205.1 L1695.8,1207.7 L1697.3,1210.3 L1698.9,1212.9 L1700.5,1215.5 L1702.2,1218.1 L1703.8,1220.6 L1705.4,1223.1 L1707.1,1225.7 L1708.8,1228.2 L1710.4,1230.6 L1712.2,1233.1 L1713.9,1235.6 L1715.6,1238.0 L1717.4,1240.5 L1719.1,1242.9 L1720.9,1245.3 L1722.7,1247.7 L1724.5,1250.0 L1726.3,1252.4 L1728.2,1254.7 L1730.0,1257.0 L1731.9,1259.3 L1733.8,1261.6 L1735.7,1263.9 L1737.7,1266.1 L1739.6,1268.3 L1741.6,1270.5 L1743.6,1272.7 L1745.6,1274.8 L1747.6,1277.0 L1749.6,1279.1 L1751.7,1281.2 L1753.7,1283.2 L1755.8,1285.3 L1757.9,1287.3 L1760.1,1289.3 L1762.2,1291.3 L1764.4,1293.2 L1766.6,1295.2 L1768.8,1297.1 L1771.0,1298.9 L1773.3,1300.8 L1775.5,1302.6 L1777.8,1304.4 L1780.1,1306.2 L1782.5,1307.9 L1784.8,1309.7 L1787.2,1311.4 L1789.6,1313.0 L1792.0,1314.6 L1794.4,1316.3 L1796.9,1317.8 L1799.4,1319.4 L1801.9,1320.9 L1804.4,1322.4 L1807.0,1323.8 L1809.5,1325.2 L1812.1,1326.6 L1814.7,1328.0 L1817.4,1329.2 L1820.0,1330.5 L1822.7,1331.7 L1825.4,1332.8 L1828.2,1333.8 L1830.9,1334.8 L1833.7,1335.7 L1836.5,1336.6 L1839.4,1337.3 L1842.2,1338.0 L1845.1,1338.6 L1848.0,1339.1 L1850.9,1339.6 L1853.9,1339.9 L1856.9,1340.1 L1859.9,1340.2 L1862.9,1340.2 L1866.0,1340.1 L1869.0,1339.9 L1872.1,1339.5 L1875.3,1339.1 L1878.5,1338.5 L1881.6,1337.7 L1884.9,1336.9 L1888.1,1335.9 L1891.4,1334.7 L1894.7,1333.4 L1898.0,1332.0" stroke="#ff5d00"/>
<path d="M145.0,1503.0 L148.0,1502.6 L150.9,1502.3 L153.9,1501.9 L156.9,1501.7 L159.8,1501.4 L162.8,1501.3 L165.8,1501.1 L168.8,1501.0 L171.8,1500.9 L174.8,1500.8 L177.8,1500.8 L180.9,1500.8 L183.9,1500.8 L186.9,1500.9 L189.9,1500.9 L193.0,1501.0 L196.0,1501.1 L199.0,1501.2 L202.1,1501.3 L205.1,1501.5 L208.2,1501.6 L211.2,1501.8 L214.2,1501.9 L217.3,1502.1 L220.4,1502.3 L223.4,1502.4 L226.5,1502.6 L229.5,1502.8 L232.6,1502.9 L235.6,1503.1 L238.7,1503.2 L241.8,1503.3 L244.8,1503.4 L247.9,1503.5 L250.9,1503.6 L254.0,1503.7 L257.1,1503.7 L260.1,1503.7 L263.2,1503.7 L266.2,1503.7 L269.3,1503.6 L272.3,1503.5 L275.4,1503.4 L278.4,1503.3 L281.5,1503.1 L284.5,1502.9 L287.6,1502.7 L290.6,1502.4 L293.6,1502.1 L296.7,1501.8 L299.7,1501.5 L302.7,1501.1 L305.8,1500.7 L308.8,1500.3 L311.8,1499.8 L314.8,1499.3 L317.8,1498.8 L320.8,1498.3 L323.8,1497.7 L326.8,1497.2 L329.8,1496.5 L332.8,1495.9 L335.7,1495.2 L338.7,1494.5 L341.7,1493.8 L344.6,1493.0 L347.6,1492.3 L350.5,1491.5 L353.5,1490.7 L356.4,1489.8 L359.3,1488.9 L362.2,1488.1 L365.1,1487.2 L368.0,1486.3 L370.9,1485.4 L373.8,1484.4 L376.7,1483.5 L379.6,1482.6 L382.4,1481.6 L385.3,1480.7 L388.1,1479.7 L390.9,1478.8 L393.7,1477.8 L396.6,1476.8 L399.3,1475.9 L402.1,1474.9 L404.9,1473.8 L407.7,1472.8 L410.4,1471.8 L413.2,1470.7 L415.9,1469.6 L418.6,1468.5 L421.3,1467.4 L424.0,1466.2 L426.6,1465.0 L429.3,1463.8 L431.9,1462.5 L434.5,1461.3 L437.1,1460.0 L439.7,1458.6 L442.3,1457.2 L444.8,1455.8 L447.4,1454.3 L449.9,1452.8 L452.4,1451.3 L454.9,1449.7 L457.3,1448.0 L459.8,1446.3 L462.2,1444.6 L464.6,1442.8 L466.9,1441.0 L469.3,1439.1 L471.6,1437.2 L474.0,1435.2 L476.2,1433.2 L478.5,1431.2 L480.8,1429.1 L483.0,1427.0 L485.2,1424.9 L487.4,1422.7 L489.6,1420.5 L491.8,1418.3 L493.9,1416.1 L496.0,1413.8 L498.1,1411.5 L500.2,1409.2 L502.3,1406.9 L504.3,1404.6 L506.3,1402.2 L508.3,1399.9 L510.3,1397.5 L512.3,1395.1 L514.2,1392.7 L516.1,1390.3 L518.0,1387.9 L519.9,1385.5 L521.8,1383.0 L523.6,1380.6 L525.5,1378.1 L527.3,1375.7 L529.1,1373.2 L530.9,1370.7 L532.6,1368.2 L534.4,1365.7 L536.1,1363.2 L537.8,1360.7 L539.5,1358.2 L541.2,1355.6 L542.9,1353.1 L544.5,1350.6 L546.2,1348.0 L547.8,1345.4 L549.4,1342.9 L551.0,1340.3 L552.5,1337.7 L554.1,1335.1 L555.6,1332.5 L557.1,1329.9 L558.7,1327.3 L560.2,1324.7 L561.6,1322.1 L563.1,1319.5 L564.6,1316.9 L566.0,1314.2 L567.4,1311.6 L568.8,1308.9 L570.2,1306.3 L571.6,1303.6 L573.0,1301.0 L574.4,1298.3 L575.7,1295.7 L577.1,1293.0 L578.4,1290.3 L579.7,1287.7 L581.0,1285.0 L584.0,1284.8 L587.1,1284.5 L590.1,1284.3 L593.2,1284.1 L596.2,1283.8 L599.2,1283.6 L602.3,1283.3 L605.3,1283.1 L608.4,1282.8 L611.4,1282.5 L614.4,1282.2 L617.4,1281.9 L620.5,1281.5 L623.5,1281.2 L626.5,1280.8 L629.5,1280.4 L632.4,1279.9 L635.4,1279.4 L638.4,1278.9 L641.3,1278.4 L644.2,1277.8 L647.1,1277.2 L650.0,1276.6 L652.9,1275.9 L655.8,1275.1 L658.6,1274.4 L661.4,1273.6 L664.2,1272.7 L667.0,1271.8 L669.8,1270.8 L672.5,1269.8 L675.2,1268.7 L677.9,1267.6 L680.5,1266.4 L683.1,1265.1 L685.7,1263.8 L688.3,1262.4 L690.9,1261.0 L693.4,1259.5 L695.9,1258.0 L698.4,1256.4 L700.8,1254.7 L703.2,1253.1 L705.6,1251.3 L708.0,1249.6 L710.4,1247.8 L712.8,1245.9 L715.1,1244.1 L717.4,1242.1 L719.7,1240.2 L722.0,1238.2 L724.3,1236.3 L726.5,1234.2 L728.8,1232.2 L731.0,1230.1 L733.2,1228.1 L735.5,1226.0 L737.7,1223.9 L739.9,1221.7 L742.0,1219.6 L744.2,1217.5 L746.4,1215.3 L748.6,1213.2 L750.7,1211.0 L752.9,1208.9 L755.1,1206.7 L757.2,1204.6 L759.4,1202.4 L761.5,1200.3 L763.7,1198.1 L765.8,1196.0 L767.9,1193.8 L770.1,1191.7 L772.2,1189.5 L774.3,1187.4 L776.4,1185.2 L778.6,1183.1 L780.7,1180.9 L782.8,1178.8 L784.9,1176.6 L787.0,1174.5 L789.1,1172.3 L791.2,1170.2 L793.3,1168.0 L795.4,1165.9 L797.5,1163.7 L799.6,1161.5 L801.7,1159.4 L803.8,1157.2 L805.8,1155.1 L807.9,1152.9 L810.0,1150.8 L812.1,1148.6 L814.1,1146.4 L816.2,1144.3 L818.2,1142.1 L820.3,1140.0 L822.4,1137.8 L824.4,1135.6 L826.5,1133.5 L828.5,1131.3 L830.6,1129.1 L832.6,1127.0 L834.6,1124.8 L836.7,1122.6 L838.7,1120.4 L840.7,1118.3 L842.8,1116.1 L844.8,1113.9 L846.8,1111.7 L848.8,1109.5 L850.9,1107.4 L852.9,1105.2 L854.9,1103.0 L856.9,1100.8 L858.9,1098.6 L860.9,1096.4 L862.9,1094.2 L864.9,1092.0 L866.9,1089.8 L868.9,1087.6 L870.9,1085.4 L872.9,1083.2 L874.9,1081.0 L876.9,1078.8 L878.9,1076.6 L880.9,1074.4 L882.8,1072.2 L884.8,1070.0 L886.8,1067.7 L888.8,1065.5 L890.8,1063.3 L892.7,1061.1 L894.7,1058.8 L896.7,1056.6 L898.7,1054.4 L900.6,1052.2 L902.6,1049.9 L904.5,1047.7 L906.5,1045.4 L908.5,1043.2 L910.4,1041.0 L912.4,1038.7 L914.3,1036.5 L916.3,1034.2 L918.3,1032.0 L920.2,1029.7 L922.2,1027.5 L924.1,1025.2 L926.1,1022.9 L928.0,1020.7 L929.9,1018.4 L931.9,1016.2 L933.8,1013.9 L935.8,1011.6 L937.7,1009.3 L939.6,1007.1 L941.6,1004.8 L943.5,1002.5 L945.5,1000.2 L947.4,998.0 L949.3,995.7 L951.3,993.4 L953.2,991.1 L955.1,988.8 L957.1,986.5 L959.0,984.2 L960.9,981.9 L962.8,979.6 L964.8,977.3 L966.7,975.0 L968.6,972.7 L970.5,970.4 L972.5,968.1 L974.4,965.8 L976.3,963.5 L978.2,961.2 L980.2,958.8 L982.1,956.5 L984.0,954.2 L985.9,951.9 L987.8,949.6 L989.8,947.2 L991.7,944.9 L993.6,942.6 L995.5,940.2 L997.4,937.9 L999.3,935.6 L1001.3,933.2 L1003.2,930.9 L1005.1,928.5 L1007.0,926.2 L1008.9,923.8 L1010.8,921.5 L1012.8,919.1 L1014.7,916.8 L1016.6,914.4 L1018.5,912.1 L1020.4,909.7 L1022.3,907.3 L1024.3,905.0 L1026.2,902.6 L1028.1,900.2 L1030.0,897.9 L1031.9,895.5 L1033.8,893.1 L1035.8,890.7 L1037.7,888.3 L1039.6,886.0 L1041.5,883.6 L1043.4,881.2 L1045.4,878.8 L1047.3,876.4 L1049.2,874.0 L1051.1,871.6 L1053.1,869.3 L1055.0,866.9 L1057.0,864.6 L1058.9,862.2 L1060.9,859.9 L1062.9,857.7 L1064.9,855.4 L1066.9,853.2 L1068.9,851.0 L1071.0,848.9 L1073.1,846.8 L1075.2,844.7 L1077.3,842.7 L1079.5,840.7 L1081.7,838.9 L1083.9,837.0 L1086.1,835.2 L1088.4,833.5 L1090.8,831.9 L1093.1,830.3 L1095.5,828.7 L1097.9,827.2 L1100.3,825.7 L1102.8,824.3 L1105.3,822.9 L1107.8,821.5 L1110.3,820.1 L1112.9,818.8 L1115.5,817.5 L1118.1,816.2 L1120.7,814.9 L1123.3,813.6 L1126.0,812.3 L1128.7,811.0 L1131.4,809.6 L1134.1,808.3 L1136.8,807.0 L1139.6,805.6 L1142.4,804.2 L1145.1,802.8 L1147.9,801.4 L1150.7,800.1 L1153.5,798.7 L1156.4,797.4 L1159.2,796.1 L1162.0,794.8 L1164.8,793.6 L1167.7,792.5 L1170.5,791.4 L1173.4,790.3 L1176.2,789.4 L1179.0,788.5 L1181.9,787.7 L1184.7,786.9 L1187.5,786.1 L1190.3,785.4 L1193.2,784.7 L1196.0,783.9 L1198.8,783.1 L1201.5,782.3 L1204.3,781.5 L1207.1,780.6 L1209.8,779.6 L1212.5,778.6 L1215.3,777.5 L1217.9,776.4 L1220.6,775.2 L1223.3,773.9 L1225.9,772.5 L1228.5,771.1 L1231.1,769.7 L1233.7,768.2 L1236.2,766.6 L1238.7,765.0 L1241.2,763.3 L1243.6,761.6 L1246.0,759.9 L1248.4,758.1 L1250.8,756.2 L1253.1,754.3 L1255.3,752.4 L1257.6,750.5 L1259.8,748.4 L1262.0,746.4 L1264.1,744.3 L1266.2,742.2 L1268.3,740.0 L1270.3,737.8 L1272.3,735.6 L1274.3,733.4 L1276.2,731.1 L1278.1,728.8 L1280.0,726.4 L1281.8,724.1 L1283.7,721.6 L1285.4,719.2 L1287.2,716.8 L1288.9,714.3 L1290.6,711.8 L1292.3,709.3 L1294.0,706.7 L1295.6,704.1 L1297.2,701.6 L1298.7,699.0 L1300.3,696.3 L1301.8,693.7 L1303.3,691.0 L1304.8,688.4 L1306.2,685.7 L1307.6,683.0 L1309.1,680.3 L1310.4,677.5 L1311.8,674.8 L1313.1,672.1 L1314.5,669.3 L1315.8,666.5 L1317.0,663.8 L1318.3,661.0 L1319.5,658.2 L1320.8,655.4 L1322.0,652.7 L1323.2,649.9 L1324.3,647.1 L1325.5,644.3 L1326.6,641.5 L1327.8,638.7 L1328.9,636.0 L1330.0,633.2 L1331.0,630.4 L1332.1,627.6 L1333.2,624.9 L1334.2,622.1 L1335.3,619.3 L1336.3,616.6 L1337.3,613.8 L1338.3,611.0 L1339.3,608.3 L1340.3,605.5 L1341.2,602.7 L1342.2,599.9 L1343.1,597.2 L1344.1,594.4 L1345.0,591.6 L1346.0,588.8 L1346.9,586.1 L1347.8,583.3 L1348.7,580.5 L1349.7,577.7 L1350.6,574.9 L1351.5,572.1 L1352.4,569.3 L1353.3,566.5 L1354.2,563.7 L1355.1,560.9 L1355.9,558.0 L1356.8,555.2 L1357.7,552.4 L1358.6,549.5 L1359.5,546.7 L1360.4,543.8 L1361.3,541.0 L1362.2,538.1 L1363.1,535.3 L1364.0,532.4 L1364.9,529.5 L1365.8,526.7 L1366.7,523.8 L1367.6,520.9 L1368.5,518.0 L1369.4,515.2 L1370.3,512.3 L1371.2,509.4 L1372.1,506.5 L1373.0,503.7 L1374.0,500.8 L1374.9,497.9 L1375.9,495.0 L1376.8,492.1 L1377.8,489.3 L1378.7,486.4 L1379.7,483.5 L1380.7,480.6 L1381.6,477.8 L1382.6,474.9 L1383.6,472.0 L1384.6,469.2 L1385.6,466.3 L1386.7,463.5 L1387.7,460.6 L1388.7,457.8 L1389.8,454.9 L1390.9,452.1 L1391.9,449.3 L1393.0,446.5 L1394.1,443.6 L1395.2,440.8 L1396.3,438.0 L1397.5,435.2 L1398.6,432.4 L1399.8,429.6 L1400.9,426.8 L1402.1,424.0 L1403.3,421.1 L1404.5,418.2 L1405.8,415.3 L1407.0,412.3 L1408.3,409.3 L1409.5,406.2 L1410.8,403.1 L1412.1,400.0 L1413.5,396.8 L1414.8,393.6 L1416.2,390.5 L1417.5,387.4 L1418.9,384.5 L1420.3,381.7 L1421.8,379.1 L1423.2,376.8 L1424.7,374.6 L1426.1,372.8 L1427.6,371.3 L1429.1,370.1 L1430.6,369.4 L1432.1,369.0 L1433.6,369.1 L1435.1,369.6 L1436.6,370.5 L1438.1,371.7 L1439.6,373.3 L1441.1,375.2 L1442.5,377.4 L1443.9,379.8 L1445.3,382.4 L1446.6,385.1 L1447.9,387.9 L1449.2,390.8 L1450.5,393.8 L1451.7,396.8 L1452.8,399.7 L1453.9,402.7 L1455.0,405.7 L1456.1,408.7 L1457.1,411.6 L1458.0,414.6 L1459.0,417.6 L1459.9,420.5 L1460.7,423.5 L1461.6,426.5 L1462.4,429.4 L1463.2,432.4 L1463.9,435.4 L1464.6,438.3 L1465.4,441.3 L1466.0,444.2 L1466.7,447.2 L1467.3,450.2 L1468.0,453.1 L1468.6,456.1 L1469.2,459.1 L1469.8,462.0 L1470.3,465.0 L1470.9,467.9 L1471.4,470.9 L1472.0,473.9 L1472.5,476.8 L1473.1,479.8 L1473.6,482.7 L1474.1,485.7 L1474.6,488.6 L1475.1,491.6 L1475.7,494.6 L1476.2,497.5 L1476.7,500.5 L1477.2,503.4 L1477.7,506.4 L1478.3,509.3 L1478.8,512.3 L1479.3,515.3 L1479.8,518.2 L1480.4,521.2 L1480.9,524.1 L1481.4,527.1 L1482.0,530.0 L1482.5,533.0 L1483.0,535.9 L1483.5,538.9 L1484.1,541.8 L1484.6,544.8 L1485.1,547.8 L1485.7,550.7 L1486.2,553.7 L1486.7,556.6 L1487.3,559.6 L1487.8,562.5 L1488.3,565.5 L1488.9,568.4 L1489.4,571.4 L1489.9,574.3 L1490.5,577.3 L1491.0,580.2 L1491.5,583.2 L1492.1,586.1 L1492.6,589.1 L1493.1,592.0 L1493.7,595.0 L1494.2,597.9 L1494.8,600.9 L1495.3,603.8 L1495.8,606.8 L1496.4,609.7 L1496.9,612.7 L1497.4,615.6 L1498.0,618.6 L1498.5,621.5 L1499.1,624.5 L1499.6,627.4 L1500.1,630.4 L1500.7,633.3 L1501.2,636.3 L1501.8,639.2 L1502.3,642.2 L1502.8,645.1 L1503.4,648.1 L1503.9,651.0 L1504.5,654.0 L1505.0,656.9 L1505.6,659.9 L1506.1,662.8 L1506.6,665.8 L1507.2,668.7 L1507.7,671.7 L1508.3,674.6 L1508.8,677.6 L1509.3,680.5 L1509.9,683.5 L1510.4,686.4 L1511.0,689.4 L1511.5,692.4 L1512.1,695.3 L1512.6,698.3 L1513.1,701.2 L1513.7,704.2 L1514.2,707.1 L1514.8,710.1 L1515.3,713.0 L1515.8,716.0 L1516.4,718.9 L1516.9,721.9 L1517.5,724.8 L1518.0,727.8 L1518.5,730.7 L1519.1,733.7 L1519.6,736.6 L1520.2,739.6 L1520.7,742.5 L1521.2,745.5 L1521.8,748.4 L1522.3,751.4 L1522.9,754.4 L1523.4,757.3 L1523.9,760.3 L1524.5,763.2 L1525.0,766.2 L1525.6,769.1 L1526.1,772.1 L1526.6,775.0 L1527.2,778.0 L1527.7,781.0 L1528.2,783.9 L1528.8,786.9 L1529.3,789.8 L1529.8,792.8 L1530.4,795.7 L1530.9,798.7 L1531.5,801.7 L1532.0,804.6 L1532.5,807.6 L1533.1,810.5 L1533.6,813.5 L1534.1,816.4 L1534.7,819.4 L1535.2,822.4 L1535.8,825.3 L1536.3,828.3 L1536.8,831.2 L1537.4,834.2 L1537.9,837.2 L1538.5,840.1 L1539.0,843.1 L1539.5,846.0 L1540.1,849.0 L1540.6,851.9 L1541.2,854.9 L1541.7,857.9 L1542.3,860.8 L1542.8,863.8 L1543.4,866.7 L1543.9,869.7 L1544.5,872.7 L1545.1,875.6 L1545.6,878.6 L1546.2,881.5 L1546.7,884.5 L1547.3,887.4 L1547.9,890.4 L1548.4,893.3 L1549.0,896.3 L1549.6,899.3 L1550.1,902.2 L1550.7,905.2 L1551.3,908.1 L1551.9,911.1 L1552.4,914.0 L1553.0,917.0 L1553.6,919.9 L1554.2,922.9 L1554.8,925.8 L1555.4,928.8 L1556.0,931.7 L1556.6,934.7 L1557.2,937.6 L1557.8,940.6 L1558.4,943.5 L1559.0,946.5 L1559.6,949.4 L1560.2,952.4 L1560.8,955.3 L1561.5,958.3 L1562.1,961.2 L1562.7,964.2 L1563.3,967.1 L1564.0,970.0 L1564.6,973.0 L1565.2,975.9 L1565.9,978.9 L1566.5,981.8 L1567.2,984.8 L1567.8,987.7 L1568.5,990.6 L1569.1,993.6 L1569.8,996.5 L1570.5,999.4 L1571.1,1002.4 L1571.8,1005.3 L1572.5,1008.2 L1573.2,1011.2 L1573.8,1014.1 L1574.5,1017.0 L1575.2,1020.0 L1575.9,1022.9 L1576.6,1025.8 L1577.3,1028.8 L1578.0,1031.7 L1578.8,1034.6 L1579.5,1037.5 L1580.2,1040.5 L1580.9,1043.4 L1581.7,1046.3 L1582.4,1049.2 L1583.1,1052.2 L1583.9,1055.1 L1584.6,1058.0 L1585.4,1060.9 L1586.2,1063.8 L1586.9,1066.7 L1587.7,1069.7 L1588.5,1072.6 L1589.2,1075.5 L1590.0,1078.4 L1590.8,1081.3 L1591.6,1084.2 L1592.4,1087.1 L1593.2,1090.0 L1594.0,1092.9 L1594.9,1095.8 L1595.7,1098.7 L1596.5,1101.6 L1597.4,1104.5 L1598.2,1107.4 L1599.1,1110.3 L1599.9,1113.2 L1600.8,1116.1 L1601.7,1119.0 L1602.6,1121.8 L1603.5,1124.7 L1604.4,1127.6 L1605.3,1130.4 L1606.2,1133.3 L1607.2,1136.1 L1608.1,1139.0 L1609.1,1141.8 L1610.1,1144.7 L1611.1,1147.5 L1612.1,1150.3 L1613.1,1153.1 L1614.1,1155.9 L1615.2,1158.7 L1616.2,1161.5 L1617.3,1164.3 L1618.4,1167.1 L1619.5,1169.9 L1620.6,1172.6 L1621.7,1175.4 L1622.9,1178.1 L1624.1,1180.9 L1625.3,1183.6 L1626.5,1186.3 L1627.7,1189.0 L1628.9,1191.7 L1630.2,1194.4 L1631.4,1197.1 L1632.7,1199.7 L1634.0,1202.4 L1635.4,1205.0 L1636.7,1207.7 L1638.1,1210.3 L1639.5,1212.9 L1640.9,1215.5 L1642.4,1218.1 L1643.8,1220.7 L1645.3,1223.2 L1646.8,1225.8 L1648.3,1228.3 L1649.9,1230.8 L1651.4,1233.3 L1653.0,1235.8 L1654.7,1238.3 L1656.3,1240.8 L1658.0,1243.2 L1659.7,1245.6 L1661.4,1248.1 L1663.1,1250.5 L1664.9,1252.9 L1666.7,1255.2 L1668.5,1257.6 L1670.4,1259.9 L1672.3,1262.2 L1674.2,1264.6 L1676.1,1266.8 L1678.1,1269.1 L1680.1,1271.4 L1682.1,1273.6 L1684.1,1275.8 L1686.2,1278.0 L1688.3,1280.2 L1690.4,1282.4 L1692.6,1284.5 L1694.7,1286.6 L1696.9,1288.7 L1699.2,1290.8 L1701.4,1292.8 L1703.7,1294.9 L1705.9,1296.9 L1708.3,1298.9 L1710.6,1300.8 L1712.9,1302.8 L1715.3,1304.7 L1717.7,1306.6 L1720.1,1308.5 L1722.5,1310.3 L1725.0,1312.1 L1727.5,1313.9 L1730.0,1315.7 L1732.5,1317.4 L1735.0,1319.2 L1737.5,1320.8 L1740.1,1322.5 L1742.7,1324.1 L1745.2,1325.7 L1747.9,1327.3 L1750.5,1328.9 L1753.1,1330.4 L1755.8,1331.9 L1758.4,1333.3 L1761.1,1334.8 L1763.8,1336.2 L1766.5,1337.5 L1769.2,1338.9 L1771.9,1340.2 L1774.7,1341.4 L1777.4,1342.7 L1780.2,1343.9 L1783.0,1345.1 L1785.8,1346.2 L1788.6,1347.3 L1791.4,1348.4 L1794.2,1349.4 L1797.0,1350.4 L1799.8,1351.4 L1802.7,1352.3 L1805.5,1353.1 L1808.3,1354.0 L1811.2,1354.7 L1814.1,1355.5 L1816.9,1356.1 L1819.8,1356.7 L1822.7,1357.3 L1825.6,1357.8 L1828.5,1358.2 L1831.4,1358.6 L1834.2,1358.9 L1837.1,1359.1 L1840.0,1359.3 L1842.9,1359.4 L1845.9,1359.4 L1848.8,1359.4 L1851.7,1359.3 L1854.6,1359.1 L1857.5,1358.8 L1860.4,1358.4 L1863.3,1357.9 L1866.2,1357.4 L1869.1,1356.8 L1872.0,1356.0 L1874.9,1355.2 L1877.8,1354.3 L1880.7,1353.3 L1883.6,1352.2 L1886.5,1350.9 L1889.4,1349.6 L1892.3,1348.2 L1895.1,1346.6 L1898.0,1345.0" stroke="#c05e00"/>
<path d="M145.0,1466.0 L147.9,1466.0 L150.7,1466.1 L153.6,1466.2 L156.5,1466.3 L159.4,1466.4 L162.3,1466.5 L165.2,1466.6 L168.1,1466.8 L171.1,1466.9 L174.0,1467.1 L177.0,1467.3 L180.0,1467.5 L182.9,1467.7 L185.9,1467.9 L188.9,1468.1 L191.9,1468.3 L194.9,1468.5 L198.0,1468.8 L201.0,1469.0 L204.0,1469.3 L207.1,1469.5 L210.1,1469.8 L213.2,1470.0 L216.2,1470.3 L219.3,1470.5 L222.4,1470.8 L225.4,1471.1 L228.5,1471.3 L231.6,1471.6 L234.7,1471.8 L237.8,1472.1 L240.9,1472.4 L244.0,1472.6 L247.1,1472.9 L250.2,1473.1 L253.3,1473.4 L256.4,1473.6 L259.5,1473.8 L262.6,1474.1 L265.7,1474.3 L268.8,1474.5 L271.9,1474.7 L275.1,1474.9 L278.2,1475.1 L281.3,1475.3 L284.4,1475.4 L287.5,1475.6 L290.6,1475.7 L293.7,1475.9 L296.8,1476.0 L299.9,1476.1 L303.0,1476.2 L306.1,1476.3 L309.2,1476.3 L312.3,1476.4 L315.4,1476.4 L318.5,1476.4 L321.6,1476.4 L324.7,1476.4 L327.8,1476.4 L330.8,1476.3 L333.9,1476.2 L337.0,1476.1 L340.0,1476.0 L343.1,1475.9 L346.1,1475.7 L349.1,1475.5 L352.2,1475.3 L355.2,1475.1 L358.2,1474.8 L361.2,1474.5 L364.2,1474.2 L367.2,1473.9 L370.2,1473.5 L373.1,1473.1 L376.1,1472.7 L379.1,1472.3 L382.0,1471.8 L384.9,1471.3 L387.9,1470.8 L390.8,1470.2 L393.7,1469.6 L396.6,1469.0 L399.4,1468.3 L402.3,1467.6 L405.2,1466.9 L408.0,1466.1 L410.8,1465.3 L413.6,1464.5 L416.4,1463.6 L419.2,1462.7 L422.0,1461.8 L424.8,1460.8 L427.5,1459.8 L430.3,1458.7 L433.0,1457.6 L435.7,1456.5 L438.3,1455.3 L441.0,1454.1 L443.6,1452.8 L446.2,1451.5 L448.8,1450.1 L451.4,1448.7 L453.9,1447.2 L456.5,1445.7 L459.0,1444.2 L461.4,1442.6 L463.9,1440.9 L466.3,1439.2 L468.7,1437.4 L471.1,1435.7 L473.4,1433.8 L475.7,1431.9 L478.0,1430.0 L480.3,1428.0 L482.5,1426.0 L484.7,1424.0 L486.9,1421.9 L489.1,1419.8 L491.2,1417.7 L493.3,1415.5 L495.4,1413.3 L497.5,1411.0 L499.6,1408.8 L501.6,1406.5 L503.6,1404.2 L505.6,1401.8 L507.6,1399.5 L509.5,1397.1 L511.4,1394.7 L513.3,1392.2 L515.2,1389.8 L517.1,1387.3 L519.0,1384.9 L520.8,1382.4 L522.6,1379.9 L524.4,1377.3 L526.2,1374.8 L528.0,1372.3 L529.7,1369.7 L531.4,1367.1 L533.2,1364.6 L534.9,1362.0 L536.6,1359.4 L538.3,1356.8 L540.0,1354.2 L541.7,1351.7 L543.3,1349.1 L545.0,1346.5 L546.6,1343.9 L548.3,1341.3 L549.9,1338.7 L551.5,1336.1 L553.2,1333.5 L554.8,1330.9 L556.4,1328.4 L558.0,1325.8 L559.6,1323.2 L561.2,1320.7 L562.8,1318.1 L564.4,1315.6 L566.0,1313.0 L567.6,1310.5 L569.2,1307.9 L570.8,1305.4 L572.4,1302.9 L574.0,1300.4 L575.6,1297.9 L577.2,1295.4 L578.8,1292.9 L580.4,1290.5 L582.0,1288.0 L585.0,1288.1 L588.0,1288.2 L590.9,1288.2 L593.9,1288.2 L596.9,1288.2 L600.0,1288.2 L603.0,1288.1 L606.0,1288.0 L609.0,1287.9 L612.0,1287.7 L615.1,1287.5 L618.1,1287.2 L621.1,1287.0 L624.1,1286.6 L627.1,1286.3 L630.1,1285.9 L633.1,1285.5 L636.1,1285.0 L639.0,1284.5 L642.0,1283.9 L645.0,1283.3 L647.9,1282.7 L650.8,1282.0 L653.7,1281.2 L656.6,1280.5 L659.5,1279.6 L662.3,1278.7 L665.2,1277.8 L668.0,1276.8 L670.8,1275.8 L673.5,1274.7 L676.3,1273.6 L679.0,1272.4 L681.6,1271.1 L684.3,1269.8 L686.9,1268.5 L689.5,1267.0 L692.1,1265.6 L694.6,1264.0 L697.1,1262.5 L699.6,1260.8 L702.0,1259.1 L704.5,1257.4 L706.9,1255.7 L709.3,1253.9 L711.6,1252.0 L714.0,1250.2 L716.3,1248.3 L718.7,1246.4 L721.0,1244.4 L723.3,1242.5 L725.6,1240.6 L727.9,1238.6 L730.3,1236.6 L732.6,1234.7 L734.9,1232.7 L737.2,1230.7 L739.6,1228.8 L741.9,1226.9 L744.3,1224.9 L746.6,1223.0 L749.0,1221.2 L751.4,1219.3 L753.9,1217.5 L756.3,1215.7 L758.8,1213.9 L761.3,1212.2 L763.8,1210.6 L766.4,1208.9 L769.0,1207.3 L771.6,1205.7 L774.2,1204.2 L776.8,1202.6 L779.4,1201.1 L782.0,1199.6 L784.6,1198.0 L787.2,1196.5 L789.8,1195.0 L792.4,1193.5 L795.0,1191.9 L797.5,1190.3 L800.0,1188.7 L802.5,1187.1 L805.0,1185.4 L807.4,1183.8 L809.8,1182.0 L812.1,1180.2 L814.4,1178.4 L816.6,1176.5 L818.8,1174.6 L821.0,1172.6 L823.1,1170.5 L825.2,1168.5 L827.2,1166.3 L829.2,1164.2 L831.2,1162.0 L833.1,1159.7 L835.0,1157.5 L836.9,1155.2 L838.8,1152.9 L840.6,1150.5 L842.4,1148.2 L844.3,1145.8 L846.1,1143.4 L847.8,1140.9 L849.6,1138.5 L851.4,1136.1 L853.1,1133.6 L854.9,1131.1 L856.7,1128.7 L858.4,1126.2 L860.2,1123.7 L862.0,1121.3 L863.8,1118.8 L865.6,1116.4 L867.4,1113.9 L869.2,1111.5 L871.1,1109.1 L873.0,1106.7 L874.9,1104.3 L876.8,1101.9 L878.7,1099.6 L880.7,1097.3 L882.6,1094.9 L884.6,1092.6 L886.6,1090.3 L888.6,1088.0 L890.6,1085.8 L892.7,1083.5 L894.7,1081.2 L896.8,1079.0 L898.8,1076.8 L900.9,1074.5 L903.0,1072.3 L905.1,1070.1 L907.2,1067.9 L909.3,1065.7 L911.4,1063.6 L913.6,1061.4 L915.7,1059.2 L917.8,1057.0 L920.0,1054.9 L922.1,1052.7 L924.2,1050.6 L926.4,1048.4 L928.5,1046.3 L930.7,1044.2 L932.8,1042.0 L934.9,1039.9 L937.1,1037.8 L939.2,1035.7 L941.4,1033.5 L943.5,1031.4 L945.6,1029.3 L947.7,1027.2 L949.8,1025.0 L951.9,1022.9 L954.0,1020.8 L956.1,1018.7 L958.2,1016.5 L960.3,1014.4 L962.3,1012.3 L964.4,1010.1 L966.4,1008.0 L968.4,1005.8 L970.4,1003.7 L972.4,1001.5 L974.4,999.3 L976.4,997.2 L978.3,995.0 L980.2,992.8 L982.2,990.6 L984.1,988.4 L986.0,986.2 L987.8,984.0 L989.7,981.8 L991.6,979.6 L993.5,977.4 L995.3,975.1 L997.2,972.9 L999.0,970.7 L1000.9,968.4 L1002.8,966.2 L1004.6,963.9 L1006.5,961.7 L1008.4,959.4 L1010.2,957.2 L1012.1,954.9 L1014.0,952.6 L1016.0,950.4 L1017.9,948.1 L1019.8,945.8 L1021.8,943.5 L1023.7,941.3 L1025.7,939.0 L1027.7,936.7 L1029.8,934.4 L1031.8,932.1 L1033.9,929.8 L1036.0,927.5 L1038.1,925.2 L1040.3,922.9 L1042.5,920.7 L1044.7,918.4 L1046.8,916.1 L1049.0,913.8 L1051.2,911.5 L1053.4,909.2 L1055.6,906.9 L1057.8,904.6 L1059.9,902.3 L1062.0,900.0 L1064.1,897.7 L1066.2,895.4 L1068.2,893.1 L1070.1,890.8 L1072.0,888.5 L1073.9,886.2 L1075.7,883.9 L1077.4,881.7 L1079.1,879.4 L1080.7,877.1 L1082.3,874.8 L1083.8,872.6 L1085.4,870.4 L1087.1,868.2 L1088.7,866.0 L1090.5,863.9 L1092.4,861.8 L1094.3,859.8 L1096.4,857.8 L1098.5,855.9 L1100.8,854.0 L1103.0,852.2 L1105.4,850.4 L1107.7,848.6 L1110.1,846.8 L1112.6,845.1 L1115.0,843.5 L1117.5,841.8 L1120.0,840.2 L1122.4,838.6 L1124.9,837.0 L1127.4,835.5 L1129.9,834.0 L1132.4,832.5 L1134.9,831.0 L1137.4,829.6 L1139.9,828.1 L1142.5,826.7 L1145.1,825.3 L1147.7,823.9 L1150.3,822.5 L1152.9,821.1 L1155.5,819.7 L1158.2,818.4 L1160.9,817.0 L1163.6,815.6 L1166.3,814.3 L1169.0,812.9 L1171.7,811.6 L1174.5,810.2 L1177.2,808.8 L1179.9,807.4 L1182.7,806.0 L1185.4,804.6 L1188.1,803.2 L1190.9,801.8 L1193.6,800.3 L1196.3,798.9 L1198.9,797.4 L1201.6,795.9 L1204.2,794.4 L1206.9,792.8 L1209.5,791.3 L1212.0,789.7 L1214.6,788.1 L1217.1,786.4 L1219.6,784.7 L1222.0,783.0 L1224.4,781.3 L1226.8,779.5 L1229.1,777.7 L1231.5,775.9 L1233.7,774.0 L1236.0,772.1 L1238.2,770.2 L1240.4,768.3 L1242.6,766.3 L1244.8,764.3 L1246.9,762.3 L1249.0,760.3 L1251.1,758.2 L1253.1,756.1 L1255.1,754.0 L1257.1,751.9 L1259.1,749.7 L1261.1,747.5 L1263.0,745.3 L1264.9,743.1 L1266.8,740.9 L1268.7,738.6 L1270.5,736.3 L1272.3,734.0 L1274.2,731.7 L1276.0,729.3 L1277.7,727.0 L1279.5,724.6 L1281.2,722.2 L1283.0,719.8 L1284.7,717.3 L1286.4,714.9 L1288.0,712.4 L1289.7,709.9 L1291.4,707.4 L1293.0,704.9 L1294.6,702.4 L1296.2,699.9 L1297.9,697.3 L1299.4,694.7 L1301.0,692.2 L1302.6,689.6 L1304.2,687.0 L1305.7,684.3 L1307.3,681.7 L1308.8,679.1 L1310.4,676.4 L1311.9,673.8 L1313.4,671.1 L1314.9,668.4 L1316.4,665.7 L1317.9,663.1 L1319.3,660.4 L1320.8,657.6 L1322.2,654.9 L1323.6,652.2 L1325.0,649.5 L1326.4,646.7 L1327.7,644.0 L1329.0,641.3 L1330.3,638.5 L1331.6,635.8 L1332.8,633.0 L1334.0,630.3 L1335.2,627.5 L1336.3,624.7 L1337.5,622.0 L1338.5,619.2 L1339.6,616.4 L1340.6,613.7 L1341.5,610.9 L1342.5,608.1 L1343.4,605.4 L1344.3,602.6 L1345.1,599.8 L1346.0,597.1 L1346.8,594.3 L1347.6,591.5 L1348.4,588.7 L1349.2,585.9 L1350.0,583.2 L1350.7,580.4 L1351.5,577.6 L1352.3,574.8 L1353.0,572.0 L1353.8,569.2 L1354.6,566.4 L1355.4,563.6 L1356.2,560.8 L1357.0,558.0 L1357.8,555.2 L1358.6,552.3 L1359.5,549.5 L1360.3,546.7 L1361.2,543.9 L1362.0,541.1 L1362.9,538.2 L1363.8,535.4 L1364.7,532.5 L1365.6,529.7 L1366.5,526.8 L1367.4,524.0 L1368.3,521.1 L1369.3,518.3 L1370.2,515.4 L1371.1,512.5 L1372.1,509.7 L1373.0,506.8 L1374.0,503.9 L1374.9,501.0 L1375.9,498.1 L1376.8,495.2 L1377.8,492.3 L1378.7,489.4 L1379.7,486.5 L1380.7,483.5 L1381.6,480.6 L1382.6,477.7 L1383.6,474.7 L1384.5,471.8 L1385.5,468.8 L1386.5,465.9 L1387.4,462.9 L1388.4,459.9 L1389.3,457.0 L1390.3,454.0 L1391.3,451.0 L1392.2,448.0 L1393.1,445.0 L1394.1,442.0 L1395.0,439.0 L1395.9,435.9 L1396.9,432.9 L1397.8,429.9 L1398.8,426.9 L1399.7,423.9 L1400.7,420.9 L1401.7,417.9 L1402.7,414.9 L1403.8,412.0 L1404.9,409.1 L1406.1,406.3 L1407.3,403.5 L1408.5,400.7 L1409.9,398.0 L1411.2,395.3 L1412.7,392.7 L1414.2,390.2 L1415.8,387.7 L1417.5,385.3 L1419.3,383.0 L1421.1,380.8 L1423.1,378.6 L1425.1,376.6 L1427.2,374.7 L1429.4,373.0 L1431.6,371.5 L1433.7,370.4 L1435.9,369.6 L1437.9,369.2 L1439.9,369.2 L1441.9,369.7 L1443.7,370.6 L1445.4,371.8 L1447.1,373.3 L1448.7,375.1 L1450.2,377.2 L1451.7,379.5 L1453.1,381.9 L1454.4,384.4 L1455.7,387.1 L1456.9,389.8 L1458.1,392.5 L1459.2,395.4 L1460.3,398.3 L1461.3,401.2 L1462.3,404.2 L1463.3,407.2 L1464.2,410.3 L1465.1,413.3 L1466.0,416.4 L1466.9,419.5 L1467.7,422.6 L1468.6,425.7 L1469.4,428.8 L1470.2,431.9 L1471.0,434.9 L1471.8,438.0 L1472.6,441.0 L1473.4,444.1 L1474.1,447.1 L1474.9,450.1 L1475.6,453.1 L1476.4,456.1 L1477.1,459.1 L1477.9,462.0 L1478.6,465.0 L1479.3,468.0 L1480.0,470.9 L1480.7,473.9 L1481.4,476.8 L1482.1,479.7 L1482.8,482.6 L1483.5,485.6 L1484.2,488.5 L1484.9,491.4 L1485.6,494.3 L1486.2,497.2 L1486.9,500.1 L1487.6,503.0 L1488.2,505.9 L1488.9,508.8 L1489.6,511.7 L1490.2,514.6 L1490.9,517.5 L1491.5,520.4 L1492.2,523.3 L1492.8,526.2 L1493.5,529.1 L1494.1,532.0 L1494.8,534.9 L1495.4,537.8 L1496.1,540.7 L1496.7,543.6 L1497.4,546.5 L1498.0,549.4 L1498.6,552.3 L1499.3,555.2 L1499.9,558.1 L1500.6,561.1 L1501.2,564.0 L1501.8,566.9 L1502.5,569.8 L1503.1,572.7 L1503.8,575.6 L1504.4,578.5 L1505.0,581.4 L1505.7,584.4 L1506.3,587.3 L1506.9,590.2 L1507.5,593.1 L1508.2,596.0 L1508.8,599.0 L1509.4,601.9 L1510.1,604.8 L1510.7,607.7 L1511.3,610.6 L1512.0,613.6 L1512.6,616.5 L1513.2,619.4 L1513.8,622.3 L1514.5,625.3 L1515.1,628.2 L1515.7,631.1 L1516.3,634.0 L1517.0,637.0 L1517.6,639.9 L1518.2,642.8 L1518.9,645.7 L1519.5,648.7 L1520.1,651.6 L1520.7,654.5 L1521.4,657.4 L1522.0,660.4 L1522.6,663.3 L1523.3,666.2 L1523.9,669.2 L1524.5,672.1 L1525.1,675.0 L1525.8,678.0 L1526.4,680.9 L1527.0,683.8 L1527.7,686.8 L1528.3,689.7 L1528.9,692.6 L1529.6,695.6 L1530.2,698.5 L1530.8,701.4 L1531.5,704.3 L1532.1,707.3 L1532.7,710.2 L1533.4,713.1 L1534.0,716.1 L1534.7,719.0 L1535.3,721.9 L1535.9,724.9 L1536.6,727.8 L1537.2,730.7 L1537.9,733.7 L1538.5,736.6 L1539.2,739.6 L1539.8,742.5 L1540.5,745.4 L1541.1,748.4 L1541.8,751.3 L1542.4,754.2 L1543.1,757.2 L1543.7,760.1 L1544.4,763.0 L1545.1,765.9 L1545.7,768.9 L1546.4,771.8 L1547.0,774.7 L1547.7,777.7 L1548.4,780.6 L1549.0,783.5 L1549.7,786.5 L1550.4,789.4 L1551.1,792.3 L1551.7,795.3 L1552.4,798.2 L1553.1,801.1 L1553.8,804.1 L1554.5,807.0 L1555.1,809.9 L1555.8,812.8 L1556.5,815.8 L1557.2,818.7 L1557.9,821.6 L1558.6,824.6 L1559.3,827.5 L1560.0,830.4 L1560.7,833.3 L1561.4,836.3 L1562.1,839.2 L1562.8,842.1 L1563.5,845.0 L1564.2,848.0 L1564.9,850.9 L1565.7,853.8 L1566.4,856.7 L1567.1,859.6 L1567.8,862.6 L1568.6,865.5 L1569.3,868.4 L1570.0,871.3 L1570.8,874.2 L1571.5,877.2 L1572.2,880.1 L1573.0,883.0 L1573.7,885.9 L1574.5,888.8 L1575.2,891.7 L1576.0,894.6 L1576.7,897.6 L1577.5,900.5 L1578.3,903.4 L1579.0,906.3 L1579.8,909.2 L1580.6,912.1 L1581.4,915.0 L1582.1,917.9 L1582.9,920.8 L1583.7,923.7 L1584.5,926.6 L1585.3,929.5 L1586.1,932.4 L1586.9,935.3 L1587.7,938.2 L1588.5,941.1 L1589.3,944.0 L1590.1,946.9 L1590.9,949.8 L1591.8,952.7 L1592.6,955.6 L1593.4,958.5 L1594.2,961.4 L1595.1,964.3 L1595.9,967.2 L1596.8,970.1 L1597.6,973.0 L1598.5,975.9 L1599.3,978.7 L1600.2,981.6 L1601.0,984.5 L1601.9,987.4 L1602.8,990.3 L1603.6,993.2 L1604.5,996.0 L1605.4,998.9 L1606.3,1001.8 L1607.2,1004.7 L1608.1,1007.5 L1609.0,1010.4 L1609.9,1013.3 L1610.8,1016.2 L1611.7,1019.0 L1612.6,1021.9 L1613.5,1024.8 L1614.5,1027.6 L1615.4,1030.5 L1616.3,1033.3 L1617.3,1036.2 L1618.2,1039.1 L1619.2,1041.9 L1620.1,1044.8 L1621.1,1047.6 L1622.0,1050.5 L1623.0,1053.3 L1624.0,1056.2 L1624.9,1059.0 L1625.9,1061.9 L1626.9,1064.7 L1627.9,1067.6 L1628.9,1070.4 L1629.9,1073.3 L1630.9,1076.1 L1631.9,1078.9 L1632.9,1081.8 L1634.0,1084.6 L1635.0,1087.4 L1636.0,1090.3 L1637.1,1093.1 L1638.1,1095.9 L1639.2,1098.7 L1640.3,1101.5 L1641.3,1104.3 L1642.4,1107.1 L1643.5,1109.9 L1644.6,1112.7 L1645.7,1115.5 L1646.8,1118.3 L1648.0,1121.1 L1649.1,1123.9 L1650.2,1126.7 L1651.4,1129.4 L1652.6,1132.2 L1653.7,1135.0 L1654.9,1137.7 L1656.1,1140.5 L1657.3,1143.2 L1658.5,1146.0 L1659.7,1148.7 L1661.0,1151.4 L1662.2,1154.1 L1663.5,1156.9 L1664.7,1159.6 L1666.0,1162.3 L1667.3,1165.0 L1668.6,1167.7 L1669.9,1170.3 L1671.2,1173.0 L1672.6,1175.7 L1673.9,1178.3 L1675.3,1181.0 L1676.7,1183.6 L1678.1,1186.3 L1679.5,1188.9 L1680.9,1191.5 L1682.3,1194.2 L1683.7,1196.8 L1685.2,1199.4 L1686.7,1201.9 L1688.2,1204.5 L1689.7,1207.1 L1691.2,1209.7 L1692.7,1212.2 L1694.3,1214.8 L1695.8,1217.3 L1697.4,1219.8 L1699.0,1222.3 L1700.6,1224.8 L1702.2,1227.3 L1703.9,1229.8 L1705.5,1232.3 L1707.2,1234.8 L1708.9,1237.2 L1710.6,1239.7 L1712.4,1242.1 L1714.1,1244.5 L1715.9,1246.9 L1717.7,1249.3 L1719.5,1251.7 L1721.3,1254.1 L1723.1,1256.5 L1725.0,1258.8 L1726.8,1261.2 L1728.7,1263.5 L1730.6,1265.8 L1732.6,1268.1 L1734.5,1270.4 L1736.5,1272.7 L1738.5,1275.0 L1740.5,1277.2 L1742.5,1279.5 L1744.6,1281.7 L1746.7,1283.9 L1748.8,1286.1 L1750.9,1288.3 L1753.0,1290.5 L1755.2,1292.6 L1757.4,1294.8 L1759.6,1296.9 L1761.8,1299.0 L1764.0,1301.1 L1766.3,1303.2 L1768.6,1305.2 L1770.9,1307.3 L1773.2,1309.3 L1775.6,1311.2 L1777.9,1313.2 L1780.3,1315.1 L1782.7,1316.9 L1785.2,1318.8 L1787.6,1320.5 L1790.1,1322.3 L1792.6,1324.0 L1795.1,1325.7 L1797.6,1327.3 L1800.2,1328.9 L1802.8,1330.4 L1805.4,1331.9 L1808.0,1333.3 L1810.6,1334.7 L1813.3,1336.0 L1815.9,1337.2 L1818.6,1338.4 L1821.3,1339.5 L1824.1,1340.6 L1826.8,1341.6 L1829.6,1342.5 L1832.3,1343.4 L1835.1,1344.2 L1838.0,1344.9 L1840.8,1345.5 L1843.7,1346.1 L1846.5,1346.6 L1849.4,1347.0 L1852.3,1347.3 L1855.2,1347.5 L1858.2,1347.7 L1861.2,1347.8 L1864.1,1347.7 L1867.1,1347.6 L1870.1,1347.4 L1873.2,1347.1 L1876.2,1346.7 L1879.3,1346.2 L1882.4,1345.6 L1885.5,1344.9 L1888.6,1344.1 L1891.7,1343.2 L1894.8,1342.1 L1898.0,1341.0" stroke="#94621c"/>
<path d="M145.6,1516.0 L148.3,1516.0 L151.1,1516.0 L153.9,1515.9 L156.7,1515.9 L159.5,1515.9 L162.3,1515.9 L165.1,1515.9 L168.0,1515.9 L170.8,1515.9 L173.7,1515.9 L176.6,1515.9 L179.5,1515.9 L182.4,1515.9 L185.3,1515.9 L188.2,1515.9 L191.2,1515.9 L194.1,1515.9 L197.0,1516.0 L200.0,1516.0 L203.0,1516.0 L206.0,1516.0 L208.9,1516.0 L211.9,1516.0 L214.9,1516.0 L217.9,1516.0 L221.0,1516.0 L224.0,1516.0 L227.0,1516.0 L230.0,1516.0 L233.1,1516.0 L236.1,1516.0 L239.2,1515.9 L242.2,1515.9 L245.3,1515.9 L248.4,1515.9 L251.4,1515.8 L254.5,1515.8 L257.6,1515.7 L260.7,1515.6 L263.8,1515.6 L266.8,1515.5 L269.9,1515.4 L273.0,1515.3 L276.1,1515.2 L279.2,1515.1 L282.3,1515.0 L285.4,1514.9 L288.5,1514.7 L291.6,1514.6 L294.7,1514.4 L297.8,1514.3 L300.9,1514.1 L304.0,1513.9 L307.1,1513.7 L310.2,1513.5 L313.3,1513.3 L316.4,1513.0 L319.5,1512.8 L322.6,1512.5 L325.7,1512.2 L328.7,1511.9 L331.8,1511.6 L334.9,1511.3 L338.0,1511.0 L341.0,1510.6 L344.1,1510.3 L347.2,1509.9 L350.2,1509.5 L353.3,1509.1 L356.3,1508.6 L359.4,1508.2 L362.4,1507.7 L365.4,1507.2 L368.4,1506.7 L371.5,1506.2 L374.5,1505.7 L377.5,1505.1 L380.5,1504.6 L383.5,1504.0 L386.4,1503.4 L389.4,1502.7 L392.4,1502.1 L395.3,1501.4 L398.3,1500.7 L401.2,1500.0 L404.1,1499.2 L407.0,1498.5 L409.9,1497.7 L412.8,1496.9 L415.7,1496.1 L418.6,1495.2 L421.4,1494.3 L424.3,1493.4 L427.1,1492.5 L429.9,1491.6 L432.7,1490.6 L435.5,1489.6 L438.3,1488.6 L441.1,1487.5 L443.8,1486.5 L446.6,1485.4 L449.3,1484.2 L452.0,1483.1 L454.7,1481.9 L457.4,1480.7 L460.1,1479.5 L462.7,1478.2 L465.4,1476.9 L468.0,1475.6 L470.6,1474.2 L473.2,1472.9 L475.7,1471.5 L478.3,1470.0 L480.8,1468.6 L483.4,1467.1 L485.9,1465.6 L488.4,1464.1 L490.9,1462.5 L493.3,1460.9 L495.8,1459.3 L498.2,1457.7 L500.7,1456.1 L503.1,1454.4 L505.5,1452.7 L507.9,1451.0 L510.3,1449.2 L512.6,1447.5 L515.0,1445.7 L517.3,1443.9 L519.7,1442.1 L522.0,1440.3 L524.3,1438.4 L526.6,1436.5 L528.9,1434.6 L531.2,1432.7 L533.4,1430.8 L535.7,1428.9 L537.9,1426.9 L540.2,1424.9 L542.4,1422.9 L544.6,1420.9 L546.8,1418.9 L549.0,1416.9 L551.2,1414.8 L553.4,1412.8 L555.6,1410.7 L557.8,1408.6 L559.9,1406.5 L562.1,1404.4 L564.3,1402.3 L566.4,1400.2 L568.5,1398.1 L570.7,1395.9 L572.8,1393.8 L574.9,1391.6 L577.0,1389.4 L579.1,1387.2 L581.2,1385.1 L583.3,1382.9 L585.4,1380.7 L587.5,1378.4 L589.6,1376.2 L591.7,1374.0 L593.8,1371.8 L595.8,1369.6 L597.9,1367.3 L600.0,1365.1 L602.0,1362.9 L604.1,1360.6 L606.1,1358.4 L608.2,1356.1 L610.3,1353.9 L612.3,1351.6 L614.4,1349.4 L616.4,1347.1 L618.5,1344.9 L620.5,1342.6 L622.5,1340.4 L624.6,1338.1 L626.6,1335.9 L628.7,1333.6 L630.7,1331.4 L632.8,1329.1 L634.8,1326.9 L636.8,1324.7 L638.9,1322.4 L640.9,1320.2 L642.9,1317.9 L645.0,1315.7 L647.0,1313.5 L649.0,1311.2 L651.1,1309.0 L653.1,1306.7 L655.1,1304.5 L657.1,1302.2 L659.2,1300.0 L661.2,1297.8 L663.2,1295.5 L665.2,1293.3 L667.2,1291.0 L669.2,1288.8 L671.3,1286.6 L673.3,1284.3 L675.3,1282.1 L677.3,1279.8 L679.3,1277.6 L681.3,1275.3 L683.3,1273.1 L685.3,1270.8 L687.3,1268.6 L689.3,1266.3 L691.2,1264.1 L693.2,1261.8 L695.2,1259.6 L697.2,1257.3 L699.2,1255.1 L701.1,1252.8 L703.1,1250.6 L705.1,1248.3 L707.1,1246.1 L709.0,1243.8 L711.0,1241.5 L712.9,1239.3 L714.9,1237.0 L716.8,1234.7 L718.8,1232.5 L720.7,1230.2 L722.7,1227.9 L724.6,1225.6 L726.6,1223.4 L728.5,1221.1 L730.4,1218.8 L732.3,1216.5 L734.3,1214.2 L736.2,1212.0 L738.1,1209.7 L740.0,1207.4 L741.9,1205.1 L743.8,1202.8 L745.7,1200.5 L747.6,1198.2 L749.5,1195.9 L751.4,1193.6 L753.3,1191.3 L755.2,1189.0 L757.0,1186.6 L758.9,1184.3 L760.8,1182.0 L762.6,1179.7 L764.5,1177.4 L766.4,1175.0 L768.2,1172.7 L770.1,1170.4 L771.9,1168.0 L773.7,1165.7 L775.6,1163.3 L777.4,1161.0 L779.2,1158.6 L781.0,1156.3 L782.9,1153.9 L784.7,1151.5 L786.5,1149.2 L788.3,1146.8 L790.1,1144.4 L791.9,1142.0 L793.6,1139.7 L795.4,1137.3 L797.2,1134.9 L799.0,1132.5 L800.7,1130.1 L802.5,1127.7 L804.2,1125.3 L806.0,1122.9 L807.7,1120.4 L809.5,1118.0 L811.2,1115.6 L812.9,1113.2 L814.6,1110.7 L816.4,1108.3 L818.1,1105.9 L819.8,1103.4 L821.5,1100.9 L823.2,1098.5 L824.8,1096.0 L826.5,1093.6 L828.2,1091.1 L829.9,1088.6 L831.5,1086.1 L833.2,1083.6 L834.9,1081.2 L836.5,1078.7 L838.1,1076.2 L839.8,1073.7 L841.4,1071.2 L843.1,1068.6 L844.7,1066.1 L846.3,1063.6 L847.9,1061.1 L849.5,1058.6 L851.1,1056.0 L852.7,1053.5 L854.3,1050.9 L855.9,1048.4 L857.5,1045.9 L859.1,1043.3 L860.7,1040.8 L862.3,1038.2 L863.9,1035.6 L865.4,1033.1 L867.0,1030.5 L868.6,1027.9 L870.1,1025.4 L871.7,1022.8 L873.3,1020.2 L874.8,1017.6 L876.4,1015.0 L877.9,1012.4 L879.5,1009.8 L881.0,1007.2 L882.5,1004.6 L884.1,1002.0 L885.6,999.4 L887.1,996.8 L888.7,994.2 L890.2,991.6 L891.7,989.0 L893.3,986.3 L894.8,983.7 L896.3,981.1 L897.8,978.5 L899.3,975.8 L900.8,973.2 L902.3,970.6 L903.8,967.9 L905.3,965.3 L906.8,962.6 L908.3,960.0 L909.8,957.3 L911.3,954.7 L912.8,952.0 L914.2,949.4 L915.7,946.7 L917.2,944.1 L918.6,941.4 L920.1,938.7 L921.5,936.1 L922.9,933.4 L924.4,930.7 L925.8,928.1 L927.2,925.4 L928.6,922.7 L930.1,920.0 L931.5,917.4 L932.8,914.7 L934.2,912.0 L935.6,909.3 L937.0,906.6 L938.4,903.9 L939.7,901.3 L941.1,898.6 L942.4,895.9 L943.7,893.2 L945.1,890.5 L946.4,887.8 L947.7,885.1 L949.0,882.4 L950.3,879.7 L951.6,877.0 L952.8,874.3 L954.1,871.6 L955.4,868.9 L956.6,866.2 L957.8,863.5 L959.1,860.8 L960.3,858.1 L961.5,855.4 L962.7,852.7 L963.9,850.0 L965.1,847.3 L966.3,844.6 L967.5,841.9 L968.7,839.2 L969.9,836.5 L971.1,833.7 L972.3,831.0 L973.5,828.3 L974.6,825.6 L975.8,822.9 L977.0,820.2 L978.2,817.5 L979.3,814.8 L980.5,812.1 L981.7,809.4 L982.8,806.7 L984.0,804.0 L985.2,801.2 L986.4,798.5 L987.6,795.8 L988.7,793.1 L989.9,790.4 L991.1,787.7 L992.3,785.0 L993.5,782.3 L994.7,779.6 L995.9,776.9 L997.1,774.2 L998.3,771.5 L999.6,768.8 L1000.8,766.1 L1002.0,763.4 L1003.3,760.7 L1004.5,758.0 L1005.8,755.3 L1007.1,752.6 L1008.4,749.9 L1009.7,747.2 L1011.0,744.5 L1012.3,741.8 L1013.6,739.1 L1014.9,736.4 L1016.3,733.7 L1017.6,731.1 L1019.0,728.4 L1020.4,725.7 L1021.8,723.0 L1023.2,720.3 L1024.6,717.6 L1026.0,715.0 L1027.5,712.3 L1028.9,709.6 L1030.4,706.9 L1031.9,704.3 L1033.4,701.6 L1035.0,698.9 L1036.5,696.3 L1038.0,693.6 L1039.6,690.9 L1041.1,688.3 L1042.7,685.6 L1044.3,682.9 L1045.8,680.3 L1047.4,677.6 L1049.0,674.9 L1050.5,672.3 L1052.0,669.6 L1053.6,666.9 L1055.1,664.3 L1056.6,661.6 L1058.1,658.9 L1059.6,656.3 L1061.1,653.6 L1062.5,650.9 L1063.9,648.2 L1065.3,645.5 L1066.7,642.9 L1068.0,640.2 L1069.3,637.5 L1070.6,634.8 L1071.9,632.1 L1073.1,629.4 L1074.3,626.7 L1075.4,624.0 L1076.5,621.2 L1077.5,618.5 L1078.6,615.8 L1079.5,613.1 L1080.4,610.3 L1081.3,607.6 L1082.1,604.8 L1082.9,602.1 L1083.6,599.3 L1084.2,596.5 L1084.8,593.8 L1085.4,591.0 L1085.9,588.2 L1086.3,585.4 L1086.8,582.6 L1087.2,579.8 L1087.7,577.0 L1088.1,574.2 L1088.6,571.4 L1089.0,568.6 L1089.5,565.8 L1090.0,563.0 L1090.6,560.2 L1091.2,557.4 L1091.8,554.6 L1092.5,551.8 L1093.3,549.0 L1094.2,546.2 L1095.2,543.4 L1096.2,540.6 L1097.4,537.8 L1098.6,535.0 L1100.0,532.2 L1101.5,529.5 L1103.1,526.7 L1104.7,523.9 L1106.5,521.2 L1108.3,518.4 L1110.2,515.7 L1112.1,513.0 L1114.0,510.3 L1115.9,507.6 L1117.9,504.9 L1119.9,502.2 L1121.8,499.5 L1123.8,496.9 L1125.7,494.2 L1127.5,491.6 L1129.3,489.0 L1131.1,486.4 L1132.8,483.8 L1134.5,481.2 L1136.1,478.6 L1137.7,476.1 L1139.3,473.5 L1140.8,471.0 L1142.2,468.4 L1143.6,465.9 L1145.0,463.3 L1146.3,460.8 L1147.6,458.3 L1148.9,455.7 L1150.1,453.2 L1151.2,450.6 L1152.4,448.1 L1153.4,445.5 L1154.5,443.0 L1155.5,440.4 L1156.5,437.8 L1157.4,435.3 L1158.3,432.7 L1159.2,430.1 L1160.1,427.5 L1161.0,424.8 L1162.0,422.2 L1163.0,419.5 L1164.0,416.9 L1165.2,414.2 L1166.5,411.5 L1167.8,408.8 L1169.3,406.0 L1171.0,403.3 L1172.7,400.5 L1174.6,397.7 L1176.6,395.0 L1178.7,392.3 L1180.9,389.7 L1183.2,387.1 L1185.6,384.7 L1188.0,382.3 L1190.5,380.1 L1193.0,378.0 L1195.5,376.0 L1198.0,374.2 L1200.6,372.6 L1203.2,371.2 L1205.8,369.9 L1208.3,368.9 L1210.9,368.1 L1213.5,367.5 L1216.1,367.1 L1218.6,367.0 L1221.2,367.1 L1223.7,367.5 L1226.3,368.1 L1228.8,369.0 L1231.3,370.1 L1233.8,371.4 L1236.2,372.9 L1238.7,374.5 L1241.1,376.3 L1243.4,378.3 L1245.8,380.3 L1248.1,382.5 L1250.4,384.7 L1252.6,387.1 L1254.8,389.4 L1256.9,391.9 L1259.0,394.3 L1261.1,396.7 L1263.1,399.2 L1265.1,401.7 L1267.0,404.1 L1268.8,406.6 L1270.7,409.1 L1272.5,411.6 L1274.2,414.1 L1275.9,416.7 L1277.6,419.2 L1279.2,421.7 L1280.8,424.3 L1282.4,426.8 L1283.9,429.4 L1285.4,431.9 L1286.8,434.5 L1288.2,437.1 L1289.6,439.7 L1291.0,442.3 L1292.3,444.9 L1293.6,447.5 L1294.9,450.1 L1296.1,452.8 L1297.3,455.4 L1298.5,458.1 L1299.7,460.7 L1300.8,463.4 L1302.0,466.0 L1303.0,468.7 L1304.1,471.4 L1305.2,474.1 L1306.2,476.8 L1307.2,479.5 L1308.2,482.2 L1309.2,484.9 L1310.2,487.6 L1311.1,490.3 L1312.1,493.1 L1313.0,495.8 L1313.9,498.5 L1314.8,501.3 L1315.7,504.1 L1316.6,506.8 L1317.4,509.6 L1318.3,512.4 L1319.2,515.1 L1320.0,517.9 L1320.9,520.7 L1321.7,523.5 L1322.6,526.3 L1323.4,529.1 L1324.2,531.9 L1325.1,534.7 L1325.9,537.5 L1326.8,540.4 L1327.6,543.2 L1328.4,546.0 L1329.3,548.9 L1330.1,551.7 L1331.0,554.5 L1331.8,557.4 L1332.7,560.2 L1333.5,563.1 L1334.4,566.0 L1335.2,568.8 L1336.1,571.7 L1337.0,574.6 L1337.8,577.5 L1338.7,580.3 L1339.5,583.2 L1340.4,586.1 L1341.3,589.0 L1342.1,591.9 L1343.0,594.8 L1343.8,597.7 L1344.7,600.6 L1345.6,603.5 L1346.4,606.4 L1347.3,609.3 L1348.2,612.2 L1349.0,615.1 L1349.9,618.0 L1350.8,621.0 L1351.7,623.9 L1352.5,626.8 L1353.4,629.7 L1354.3,632.7 L1355.1,635.6 L1356.0,638.5 L1356.9,641.5 L1357.8,644.4 L1358.6,647.3 L1359.5,650.3 L1360.4,653.2 L1361.3,656.1 L1362.1,659.1 L1363.0,662.0 L1363.9,665.0 L1364.7,667.9 L1365.6,670.9 L1366.5,673.8 L1367.4,676.8 L1368.2,679.7 L1369.1,682.7 L1370.0,685.6 L1370.8,688.5 L1371.7,691.5 L1372.6,694.4 L1373.4,697.4 L1374.3,700.3 L1375.2,703.3 L1376.0,706.2 L1376.9,709.2 L1377.8,712.1 L1378.6,715.1 L1379.5,718.0 L1380.4,721.0 L1381.2,723.9 L1382.1,726.9 L1382.9,729.8 L1383.8,732.7 L1384.6,735.7 L1385.5,738.6 L1386.4,741.6 L1387.2,744.5 L1388.1,747.4 L1388.9,750.4 L1389.8,753.3 L1390.6,756.2 L1391.4,759.2 L1392.3,762.1 L1393.1,765.0 L1394.0,767.9 L1394.8,770.9 L1395.6,773.8 L1396.5,776.7 L1397.3,779.6 L1398.2,782.5 L1399.0,785.5 L1399.8,788.4 L1400.7,791.3 L1401.5,794.2 L1402.3,797.1 L1403.1,800.0 L1404.0,802.9 L1404.8,805.8 L1405.6,808.7 L1406.5,811.6 L1407.3,814.5 L1408.1,817.4 L1409.0,820.3 L1409.8,823.2 L1410.6,826.0 L1411.5,828.9 L1412.3,831.8 L1413.1,834.7 L1414.0,837.6 L1414.8,840.4 L1415.7,843.3 L1416.5,846.2 L1417.3,849.1 L1418.2,851.9 L1419.0,854.8 L1419.9,857.7 L1420.7,860.5 L1421.6,863.4 L1422.4,866.3 L1423.3,869.1 L1424.1,872.0 L1425.0,874.8 L1425.9,877.7 L1426.7,880.5 L1427.6,883.4 L1428.5,886.2 L1429.3,889.1 L1430.2,891.9 L1431.1,894.8 L1432.0,897.6 L1432.9,900.4 L1433.8,903.3 L1434.7,906.1 L1435.6,908.9 L1436.5,911.8 L1437.4,914.6 L1438.3,917.4 L1439.2,920.3 L1440.1,923.1 L1441.0,925.9 L1441.9,928.7 L1442.9,931.5 L1443.8,934.4 L1444.7,937.2 L1445.7,940.0 L1446.6,942.8 L1447.6,945.6 L1448.5,948.4 L1449.5,951.2 L1450.5,954.0 L1451.4,956.8 L1452.4,959.6 L1453.4,962.4 L1454.4,965.2 L1455.4,968.0 L1456.4,970.8 L1457.4,973.6 L1458.4,976.4 L1459.4,979.2 L1460.5,981.9 L1461.5,984.7 L1462.5,987.5 L1463.6,990.3 L1464.6,993.1 L1465.7,995.8 L1466.7,998.6 L1467.8,1001.4 L1468.9,1004.2 L1470.0,1006.9 L1471.1,1009.7 L1472.2,1012.5 L1473.3,1015.2 L1474.4,1018.0 L1475.5,1020.7 L1476.7,1023.5 L1477.8,1026.2 L1478.9,1029.0 L1480.1,1031.7 L1481.3,1034.5 L1482.4,1037.2 L1483.6,1040.0 L1484.8,1042.7 L1486.0,1045.5 L1487.2,1048.2 L1488.4,1050.9 L1489.6,1053.7 L1490.8,1056.4 L1492.1,1059.1 L1493.3,1061.9 L1494.6,1064.6 L1495.8,1067.3 L1497.1,1070.1 L1498.3,1072.8 L1499.6,1075.5 L1500.9,1078.2 L1502.2,1080.9 L1503.5,1083.6 L1504.8,1086.4 L1506.1,1089.1 L1507.4,1091.8 L1508.7,1094.5 L1510.0,1097.2 L1511.4,1099.9 L1512.7,1102.6 L1514.1,1105.3 L1515.4,1108.0 L1516.8,1110.7 L1518.1,1113.4 L1519.5,1116.1 L1520.9,1118.8 L1522.2,1121.5 L1523.6,1124.1 L1525.0,1126.8 L1526.4,1129.5 L1527.8,1132.2 L1529.2,1134.9 L1530.6,1137.5 L1532.0,1140.2 L1533.4,1142.9 L1534.9,1145.6 L1536.3,1148.2 L1537.7,1150.9 L1539.2,1153.6 L1540.6,1156.2 L1542.0,1158.9 L1543.5,1161.6 L1544.9,1164.2 L1546.4,1166.9 L1547.9,1169.5 L1549.3,1172.2 L1550.8,1174.8 L1552.3,1177.5 L1553.7,1180.1 L1555.2,1182.8 L1556.7,1185.4 L1558.2,1188.1 L1559.7,1190.7 L1561.2,1193.3 L1562.7,1196.0 L1564.2,1198.6 L1565.7,1201.2 L1567.2,1203.9 L1568.7,1206.5 L1570.2,1209.1 L1571.7,1211.7 L1573.2,1214.4 L1574.7,1217.0 L1576.3,1219.6 L1577.8,1222.2 L1579.4,1224.8 L1580.9,1227.4 L1582.5,1230.0 L1584.0,1232.5 L1585.6,1235.1 L1587.2,1237.6 L1588.9,1240.1 L1590.5,1242.6 L1592.2,1245.1 L1593.9,1247.6 L1595.6,1250.0 L1597.3,1252.4 L1599.0,1254.8 L1600.8,1257.2 L1602.6,1259.5 L1604.4,1261.8 L1606.3,1264.1 L1608.2,1266.4 L1610.1,1268.6 L1612.1,1270.8 L1614.1,1272.9 L1616.1,1275.0 L1618.1,1277.1 L1620.3,1279.1 L1622.4,1281.1 L1624.6,1283.1 L1626.8,1285.0 L1629.1,1286.9 L1631.4,1288.7 L1633.7,1290.5 L1636.1,1292.2 L1638.5,1293.9 L1641.0,1295.6 L1643.5,1297.2 L1646.0,1298.8 L1648.5,1300.4 L1651.1,1301.9 L1653.7,1303.4 L1656.4,1304.8 L1659.0,1306.2 L1661.7,1307.6 L1664.5,1309.0 L1667.2,1310.3 L1670.0,1311.6 L1672.8,1312.9 L1675.6,1314.1 L1678.4,1315.3 L1681.2,1316.5 L1684.1,1317.6 L1687.0,1318.8 L1689.9,1319.9 L1692.8,1320.9 L1695.7,1322.0 L1698.6,1323.0 L1701.6,1324.0 L1704.5,1325.0 L1707.5,1326.0 L1710.5,1326.9 L1713.5,1327.9 L1716.4,1328.8 L1719.4,1329.7 L1722.4,1330.5 L1725.4,1331.4 L1728.4,1332.2 L1731.4,1333.1 L1734.4,1333.9 L1737.3,1334.7 L1740.3,1335.5 L1743.3,1336.2 L1746.3,1337.0 L1749.2,1337.7 L1752.2,1338.5 L1755.2,1339.2 L1758.1,1339.9 L1761.1,1340.5 L1764.0,1341.2 L1767.0,1341.8 L1769.9,1342.4 L1772.8,1343.0 L1775.8,1343.5 L1778.7,1344.0 L1781.6,1344.5 L1784.5,1345.0 L1787.4,1345.4 L1790.3,1345.8 L1793.2,1346.1 L1796.1,1346.4 L1799.0,1346.7 L1801.9,1346.9 L1804.8,1347.1 L1807.7,1347.2 L1810.6,1347.3 L1813.5,1347.3 L1816.3,1347.3 L1819.2,1347.3 L1822.1,1347.2 L1824.9,1347.0 L1827.8,1346.8 L1830.6,1346.5 L1833.5,1346.2 L1836.3,1345.8 L1839.2,1345.4 L1842.0,1344.9 L1844.9,1344.3 L1847.7,1343.7 L1850.5,1343.0 L1853.4,1342.2 L1856.2,1341.4 L1859.0,1340.5 L1861.8,1339.5 L1864.6,1338.5 L1867.5,1337.3 L1870.3,1336.1 L1873.1,1334.9 L1875.9,1333.5 L1878.7,1332.1 L1881.5,1330.6 L1884.3,1329.0 L1887.1,1327.3 L1889.9,1325.5 L1892.6,1323.7 L1895.4,1321.7 L1898.2,1319.7" stroke="#ff0000"/>
<path d="M145.1,1526.0 L147.9,1526.0 L150.8,1526.1 L153.6,1526.2 L156.5,1526.2 L159.4,1526.3 L162.3,1526.3 L165.1,1526.4 L168.0,1526.4 L171.0,1526.5 L173.9,1526.5 L176.8,1526.6 L179.7,1526.6 L182.7,1526.6 L185.6,1526.7 L188.6,1526.7 L191.5,1526.8 L194.5,1526.8 L197.5,1526.8 L200.4,1526.8 L203.4,1526.8 L206.4,1526.9 L209.4,1526.9 L212.4,1526.9 L215.4,1526.9 L218.4,1526.9 L221.4,1526.9 L224.4,1526.9 L227.5,1526.8 L230.5,1526.8 L233.5,1526.8 L236.5,1526.7 L239.6,1526.7 L242.6,1526.7 L245.6,1526.6 L248.7,1526.5 L251.7,1526.5 L254.8,1526.4 L257.8,1526.3 L260.9,1526.2 L263.9,1526.1 L267.0,1526.0 L270.0,1525.9 L273.1,1525.7 L276.2,1525.6 L279.2,1525.5 L282.3,1525.3 L285.3,1525.1 L288.4,1525.0 L291.5,1524.8 L294.5,1524.6 L297.6,1524.4 L300.6,1524.2 L303.7,1524.0 L306.7,1523.7 L309.8,1523.5 L312.9,1523.2 L315.9,1522.9 L318.9,1522.7 L322.0,1522.4 L325.0,1522.1 L328.1,1521.7 L331.1,1521.4 L334.2,1521.1 L337.2,1520.7 L340.2,1520.3 L343.2,1519.9 L346.3,1519.6 L349.3,1519.1 L352.3,1518.7 L355.3,1518.3 L358.3,1517.8 L361.3,1517.3 L364.3,1516.9 L367.3,1516.4 L370.3,1515.9 L373.3,1515.3 L376.2,1514.8 L379.2,1514.2 L382.2,1513.6 L385.1,1513.0 L388.1,1512.4 L391.0,1511.8 L393.9,1511.2 L396.9,1510.5 L399.8,1509.8 L402.7,1509.1 L405.6,1508.4 L408.5,1507.7 L411.4,1506.9 L414.3,1506.1 L417.1,1505.3 L420.0,1504.5 L422.8,1503.7 L425.7,1502.8 L428.5,1501.9 L431.3,1501.0 L434.2,1500.1 L437.0,1499.1 L439.8,1498.2 L442.5,1497.2 L445.3,1496.1 L448.1,1495.1 L450.8,1494.0 L453.6,1492.9 L456.3,1491.7 L459.0,1490.5 L461.7,1489.3 L464.4,1488.1 L467.1,1486.8 L469.8,1485.5 L472.4,1484.2 L475.1,1482.8 L477.7,1481.4 L480.3,1480.0 L482.9,1478.6 L485.5,1477.1 L488.1,1475.6 L490.7,1474.0 L493.2,1472.5 L495.8,1470.9 L498.3,1469.2 L500.8,1467.6 L503.3,1465.9 L505.8,1464.2 L508.3,1462.5 L510.8,1460.7 L513.2,1459.0 L515.7,1457.2 L518.1,1455.3 L520.5,1453.5 L523.0,1451.7 L525.4,1449.8 L527.7,1447.9 L530.1,1446.0 L532.5,1444.0 L534.8,1442.1 L537.2,1440.1 L539.5,1438.1 L541.8,1436.1 L544.1,1434.1 L546.4,1432.1 L548.7,1430.0 L550.9,1428.0 L553.2,1425.9 L555.4,1423.8 L557.7,1421.7 L559.9,1419.6 L562.1,1417.5 L564.3,1415.3 L566.5,1413.2 L568.7,1411.1 L570.8,1408.9 L573.0,1406.8 L575.1,1404.6 L577.2,1402.4 L579.4,1400.2 L581.5,1398.0 L583.6,1395.9 L585.6,1393.7 L587.7,1391.5 L589.8,1389.3 L591.8,1387.1 L593.9,1384.9 L595.9,1382.7 L597.9,1380.4 L599.9,1378.2 L601.9,1376.0 L603.9,1373.8 L605.9,1371.6 L607.9,1369.4 L609.8,1367.1 L611.8,1364.9 L613.8,1362.7 L615.7,1360.5 L617.6,1358.2 L619.6,1356.0 L621.5,1353.7 L623.4,1351.5 L625.3,1349.3 L627.2,1347.0 L629.1,1344.8 L631.0,1342.5 L632.9,1340.2 L634.8,1338.0 L636.7,1335.7 L638.6,1333.5 L640.4,1331.2 L642.3,1328.9 L644.2,1326.7 L646.0,1324.4 L647.9,1322.1 L649.8,1319.8 L651.6,1317.5 L653.5,1315.3 L655.4,1313.0 L657.2,1310.7 L659.1,1308.4 L660.9,1306.1 L662.8,1303.8 L664.6,1301.5 L666.5,1299.2 L668.4,1296.9 L670.2,1294.6 L672.1,1292.3 L673.9,1290.0 L675.8,1287.6 L677.7,1285.3 L679.6,1283.0 L681.4,1280.7 L683.3,1278.3 L685.2,1276.0 L687.1,1273.7 L689.0,1271.3 L690.9,1269.0 L692.8,1266.7 L694.7,1264.3 L696.6,1262.0 L698.5,1259.6 L700.4,1257.3 L702.3,1254.9 L704.2,1252.6 L706.1,1250.2 L708.0,1247.8 L709.9,1245.5 L711.8,1243.1 L713.7,1240.7 L715.6,1238.4 L717.5,1236.0 L719.4,1233.6 L721.3,1231.2 L723.1,1228.8 L725.0,1226.4 L726.9,1224.1 L728.7,1221.7 L730.5,1219.3 L732.4,1216.9 L734.2,1214.5 L736.0,1212.1 L737.8,1209.7 L739.6,1207.2 L741.4,1204.8 L743.2,1202.4 L745.0,1200.0 L746.8,1197.6 L748.6,1195.2 L750.3,1192.7 L752.1,1190.3 L753.8,1187.9 L755.6,1185.4 L757.3,1183.0 L759.0,1180.6 L760.8,1178.1 L762.5,1175.7 L764.2,1173.2 L765.9,1170.8 L767.6,1168.3 L769.3,1165.9 L771.0,1163.4 L772.7,1160.9 L774.4,1158.5 L776.1,1156.0 L777.8,1153.5 L779.4,1151.0 L781.1,1148.6 L782.8,1146.1 L784.4,1143.6 L786.1,1141.1 L787.7,1138.6 L789.4,1136.1 L791.0,1133.6 L792.7,1131.1 L794.3,1128.6 L796.0,1126.1 L797.6,1123.6 L799.2,1121.1 L800.8,1118.6 L802.5,1116.1 L804.1,1113.6 L805.7,1111.1 L807.3,1108.5 L808.9,1106.0 L810.5,1103.5 L812.1,1101.0 L813.7,1098.4 L815.3,1095.9 L816.9,1093.4 L818.4,1090.8 L820.0,1088.3 L821.6,1085.7 L823.2,1083.2 L824.7,1080.6 L826.3,1078.1 L827.9,1075.5 L829.4,1073.0 L831.0,1070.4 L832.5,1067.9 L834.1,1065.3 L835.6,1062.7 L837.1,1060.1 L838.7,1057.6 L840.2,1055.0 L841.7,1052.4 L843.3,1049.8 L844.8,1047.3 L846.3,1044.7 L847.8,1042.1 L849.4,1039.5 L850.9,1036.9 L852.4,1034.3 L853.9,1031.7 L855.4,1029.1 L856.9,1026.5 L858.4,1023.9 L859.9,1021.3 L861.4,1018.7 L862.8,1016.1 L864.3,1013.5 L865.8,1010.9 L867.3,1008.3 L868.8,1005.7 L870.2,1003.0 L871.7,1000.4 L873.2,997.8 L874.6,995.2 L876.1,992.6 L877.5,989.9 L879.0,987.3 L880.5,984.7 L881.9,982.0 L883.3,979.4 L884.8,976.8 L886.2,974.1 L887.7,971.5 L889.1,968.8 L890.5,966.2 L892.0,963.5 L893.4,960.9 L894.8,958.2 L896.2,955.6 L897.6,952.9 L899.0,950.3 L900.4,947.6 L901.8,945.0 L903.2,942.3 L904.6,939.6 L906.0,937.0 L907.4,934.3 L908.8,931.6 L910.2,929.0 L911.6,926.3 L912.9,923.6 L914.3,920.9 L915.7,918.3 L917.0,915.6 L918.4,912.9 L919.8,910.2 L921.1,907.5 L922.4,904.8 L923.8,902.2 L925.1,899.5 L926.5,896.8 L927.8,894.1 L929.1,891.4 L930.5,888.7 L931.8,886.0 L933.1,883.3 L934.4,880.6 L935.7,877.9 L937.0,875.2 L938.3,872.5 L939.6,869.8 L940.9,867.1 L942.2,864.4 L943.5,861.7 L944.7,859.0 L946.0,856.3 L947.3,853.6 L948.5,850.9 L949.8,848.1 L951.1,845.4 L952.3,842.7 L953.6,840.0 L954.8,837.3 L956.0,834.6 L957.3,831.8 L958.5,829.1 L959.7,826.4 L960.9,823.7 L962.1,820.9 L963.3,818.2 L964.6,815.5 L965.8,812.8 L966.9,810.0 L968.1,807.3 L969.3,804.6 L970.5,801.8 L971.7,799.1 L972.9,796.4 L974.0,793.6 L975.2,790.9 L976.4,788.2 L977.5,785.4 L978.7,782.7 L979.8,779.9 L981.0,777.2 L982.1,774.5 L983.3,771.7 L984.4,769.0 L985.6,766.2 L986.7,763.5 L987.8,760.7 L989.0,758.0 L990.1,755.2 L991.2,752.5 L992.4,749.8 L993.5,747.0 L994.6,744.3 L995.7,741.5 L996.9,738.7 L998.0,736.0 L999.1,733.2 L1000.2,730.5 L1001.3,727.7 L1002.4,725.0 L1003.6,722.2 L1004.7,719.5 L1005.8,716.7 L1006.9,714.0 L1008.0,711.2 L1009.1,708.4 L1010.3,705.7 L1011.4,702.9 L1012.5,700.2 L1013.6,697.4 L1014.7,694.6 L1015.9,691.9 L1017.0,689.1 L1018.1,686.3 L1019.3,683.6 L1020.4,680.8 L1021.6,678.1 L1022.7,675.3 L1023.9,672.5 L1025.1,669.8 L1026.3,667.0 L1027.5,664.2 L1028.7,661.5 L1029.9,658.7 L1031.1,655.9 L1032.3,653.2 L1033.6,650.4 L1034.9,647.6 L1036.1,644.9 L1037.4,642.1 L1038.7,639.3 L1040.1,636.6 L1041.4,633.8 L1042.8,631.0 L1044.1,628.2 L1045.5,625.5 L1046.9,622.7 L1048.4,619.9 L1049.8,617.2 L1051.3,614.4 L1052.8,611.6 L1054.3,608.9 L1055.8,606.1 L1057.3,603.3 L1058.8,600.5 L1060.4,597.8 L1061.9,595.0 L1063.4,592.2 L1064.8,589.5 L1066.3,586.7 L1067.7,583.9 L1069.1,581.1 L1070.4,578.4 L1071.8,575.6 L1073.0,572.8 L1074.2,570.1 L1075.4,567.3 L1076.4,564.5 L1077.5,561.8 L1078.4,559.0 L1079.3,556.2 L1080.1,553.5 L1080.8,550.7 L1081.4,547.9 L1082.0,545.2 L1082.5,542.4 L1083.0,539.6 L1083.5,536.9 L1083.9,534.1 L1084.3,531.3 L1084.7,528.6 L1085.2,525.8 L1085.6,523.0 L1086.0,520.3 L1086.5,517.5 L1086.9,514.8 L1087.5,512.0 L1088.1,509.2 L1088.7,506.5 L1089.4,503.7 L1090.2,501.0 L1091.0,498.2 L1092.0,495.4 L1093.0,492.7 L1094.2,489.9 L1095.4,487.2 L1096.8,484.4 L1098.3,481.7 L1099.9,478.9 L1101.6,476.2 L1103.4,473.5 L1105.3,470.8 L1107.2,468.1 L1109.1,465.4 L1111.1,462.8 L1113.1,460.1 L1115.2,457.5 L1117.2,455.0 L1119.3,452.4 L1121.3,449.9 L1123.2,447.5 L1125.2,445.0 L1127.1,442.7 L1128.9,440.3 L1130.6,438.0 L1132.3,435.8 L1134.0,433.6 L1135.6,431.4 L1137.2,429.2 L1138.7,427.0 L1140.2,424.8 L1141.7,422.5 L1143.2,420.3 L1144.8,418.1 L1146.3,415.8 L1147.8,413.4 L1149.4,411.0 L1151.0,408.6 L1152.6,406.1 L1154.3,403.5 L1156.1,400.8 L1157.9,398.1 L1159.7,395.3 L1161.7,392.4 L1163.7,389.6 L1165.7,386.8 L1167.8,384.0 L1169.9,381.4 L1172.1,378.9 L1174.3,376.5 L1176.6,374.4 L1178.9,372.5 L1181.3,370.9 L1183.7,369.5 L1186.1,368.5 L1188.5,367.8 L1191.0,367.5 L1193.5,367.4 L1196.0,367.6 L1198.5,368.0 L1201.0,368.6 L1203.6,369.3 L1206.2,370.3 L1208.7,371.3 L1211.3,372.5 L1213.9,373.7 L1216.5,375.1 L1219.1,376.5 L1221.6,378.0 L1224.2,379.5 L1226.7,381.2 L1229.1,382.9 L1231.6,384.6 L1234.0,386.5 L1236.4,388.4 L1238.7,390.4 L1240.9,392.4 L1243.1,394.5 L1245.3,396.6 L1247.3,398.9 L1249.3,401.1 L1251.2,403.4 L1253.0,405.8 L1254.8,408.2 L1256.4,410.6 L1258.1,413.1 L1259.6,415.7 L1261.1,418.2 L1262.5,420.8 L1263.9,423.5 L1265.2,426.1 L1266.5,428.9 L1267.7,431.6 L1268.9,434.3 L1270.1,437.1 L1271.2,439.9 L1272.3,442.8 L1273.3,445.6 L1274.3,448.4 L1275.4,451.3 L1276.4,454.2 L1277.3,457.1 L1278.3,460.0 L1279.3,462.9 L1280.2,465.8 L1281.2,468.7 L1282.1,471.6 L1283.1,474.5 L1284.0,477.4 L1285.0,480.3 L1285.9,483.2 L1286.9,486.1 L1287.9,489.0 L1288.8,491.9 L1289.8,494.8 L1290.8,497.7 L1291.8,500.6 L1292.7,503.5 L1293.7,506.4 L1294.7,509.2 L1295.7,512.1 L1296.7,515.0 L1297.7,517.9 L1298.6,520.8 L1299.6,523.7 L1300.6,526.5 L1301.6,529.4 L1302.6,532.3 L1303.6,535.1 L1304.6,538.0 L1305.6,540.9 L1306.6,543.8 L1307.5,546.6 L1308.5,549.5 L1309.5,552.4 L1310.5,555.2 L1311.5,558.1 L1312.5,561.0 L1313.5,563.8 L1314.5,566.7 L1315.5,569.6 L1316.5,572.4 L1317.4,575.3 L1318.4,578.1 L1319.4,581.0 L1320.4,583.9 L1321.4,586.7 L1322.3,589.6 L1323.3,592.4 L1324.3,595.3 L1325.3,598.1 L1326.2,601.0 L1327.2,603.9 L1328.2,606.7 L1329.1,609.6 L1330.1,612.4 L1331.0,615.3 L1332.0,618.2 L1332.9,621.0 L1333.9,623.9 L1334.8,626.7 L1335.8,629.6 L1336.7,632.4 L1337.6,635.3 L1338.6,638.2 L1339.5,641.0 L1340.4,643.9 L1341.3,646.7 L1342.3,649.6 L1343.2,652.5 L1344.1,655.3 L1345.0,658.2 L1345.9,661.0 L1346.8,663.9 L1347.7,666.8 L1348.5,669.6 L1349.4,672.5 L1350.3,675.4 L1351.1,678.2 L1352.0,681.1 L1352.9,684.0 L1353.7,686.8 L1354.6,689.7 L1355.4,692.6 L1356.2,695.4 L1357.1,698.3 L1357.9,701.2 L1358.7,704.1 L1359.6,706.9 L1360.4,709.8 L1361.2,712.7 L1362.0,715.6 L1362.8,718.4 L1363.6,721.3 L1364.4,724.2 L1365.2,727.1 L1366.0,729.9 L1366.8,732.8 L1367.6,735.7 L1368.4,738.6 L1369.2,741.4 L1369.9,744.3 L1370.7,747.2 L1371.5,750.1 L1372.3,753.0 L1373.1,755.8 L1373.8,758.7 L1374.6,761.6 L1375.4,764.5 L1376.2,767.3 L1376.9,770.2 L1377.7,773.1 L1378.5,776.0 L1379.2,778.9 L1380.0,781.7 L1380.8,784.6 L1381.5,787.5 L1382.3,790.4 L1383.1,793.3 L1383.8,796.1 L1384.6,799.0 L1385.4,801.9 L1386.1,804.8 L1386.9,807.7 L1387.7,810.5 L1388.4,813.4 L1389.2,816.3 L1390.0,819.2 L1390.7,822.0 L1391.5,824.9 L1392.3,827.8 L1393.1,830.7 L1393.8,833.5 L1394.6,836.4 L1395.4,839.3 L1396.2,842.2 L1397.0,845.0 L1397.8,847.9 L1398.5,850.8 L1399.3,853.7 L1400.1,856.5 L1400.9,859.4 L1401.7,862.3 L1402.5,865.1 L1403.4,868.0 L1404.2,870.9 L1405.0,873.7 L1405.8,876.6 L1406.6,879.5 L1407.5,882.3 L1408.3,885.2 L1409.1,888.1 L1410.0,890.9 L1410.8,893.8 L1411.7,896.6 L1412.5,899.5 L1413.4,902.4 L1414.2,905.2 L1415.1,908.1 L1416.0,910.9 L1416.8,913.8 L1417.7,916.6 L1418.6,919.5 L1419.5,922.3 L1420.4,925.2 L1421.3,928.0 L1422.2,930.9 L1423.2,933.7 L1424.1,936.6 L1425.0,939.4 L1425.9,942.2 L1426.9,945.1 L1427.8,947.9 L1428.8,950.8 L1429.8,953.6 L1430.7,956.4 L1431.7,959.3 L1432.7,962.1 L1433.7,964.9 L1434.7,967.8 L1435.7,970.6 L1436.7,973.4 L1437.8,976.2 L1438.8,979.0 L1439.8,981.9 L1440.9,984.7 L1442.0,987.5 L1443.0,990.3 L1444.1,993.1 L1445.2,995.9 L1446.3,998.8 L1447.4,1001.6 L1448.5,1004.4 L1449.6,1007.2 L1450.7,1010.0 L1451.8,1012.8 L1453.0,1015.6 L1454.1,1018.4 L1455.3,1021.2 L1456.4,1024.0 L1457.6,1026.8 L1458.8,1029.6 L1459.9,1032.3 L1461.1,1035.1 L1462.3,1037.9 L1463.5,1040.7 L1464.7,1043.5 L1465.9,1046.3 L1467.1,1049.0 L1468.4,1051.8 L1469.6,1054.6 L1470.8,1057.3 L1472.1,1060.1 L1473.3,1062.9 L1474.6,1065.6 L1475.8,1068.4 L1477.1,1071.1 L1478.4,1073.9 L1479.7,1076.7 L1481.0,1079.4 L1482.2,1082.2 L1483.5,1084.9 L1484.8,1087.6 L1486.2,1090.4 L1487.5,1093.1 L1488.8,1095.9 L1490.1,1098.6 L1491.4,1101.3 L1492.8,1104.0 L1494.1,1106.8 L1495.5,1109.5 L1496.8,1112.2 L1498.2,1114.9 L1499.5,1117.6 L1500.9,1120.4 L1502.3,1123.1 L1503.6,1125.8 L1505.0,1128.5 L1506.4,1131.2 L1507.8,1133.9 L1509.2,1136.6 L1510.6,1139.3 L1512.0,1141.9 L1513.4,1144.6 L1514.8,1147.3 L1516.2,1150.0 L1517.6,1152.7 L1519.0,1155.3 L1520.5,1158.0 L1521.9,1160.7 L1523.3,1163.3 L1524.8,1166.0 L1526.2,1168.7 L1527.6,1171.3 L1529.1,1174.0 L1530.5,1176.6 L1532.0,1179.3 L1533.4,1181.9 L1534.9,1184.5 L1536.4,1187.2 L1537.8,1189.8 L1539.3,1192.4 L1540.8,1195.0 L1542.3,1197.7 L1543.8,1200.3 L1545.3,1202.9 L1546.8,1205.5 L1548.3,1208.1 L1549.8,1210.6 L1551.3,1213.2 L1552.9,1215.8 L1554.4,1218.4 L1556.0,1220.9 L1557.5,1223.5 L1559.1,1226.0 L1560.7,1228.5 L1562.3,1231.0 L1563.9,1233.5 L1565.5,1236.0 L1567.1,1238.5 L1568.8,1241.0 L1570.4,1243.5 L1572.1,1245.9 L1573.8,1248.3 L1575.5,1250.8 L1577.2,1253.2 L1578.9,1255.6 L1580.7,1258.0 L1582.5,1260.3 L1584.2,1262.7 L1586.0,1265.0 L1587.8,1267.4 L1589.7,1269.7 L1591.5,1272.0 L1593.4,1274.3 L1595.3,1276.5 L1597.2,1278.8 L1599.1,1281.0 L1601.1,1283.2 L1603.0,1285.4 L1605.0,1287.6 L1607.0,1289.8 L1609.1,1291.9 L1611.1,1294.0 L1613.2,1296.1 L1615.3,1298.2 L1617.4,1300.3 L1619.6,1302.3 L1621.7,1304.4 L1623.9,1306.4 L1626.1,1308.4 L1628.4,1310.3 L1630.6,1312.2 L1632.9,1314.2 L1635.2,1316.1 L1637.5,1317.9 L1639.8,1319.8 L1642.2,1321.6 L1644.6,1323.4 L1647.0,1325.2 L1649.4,1326.9 L1651.8,1328.6 L1654.3,1330.3 L1656.7,1332.0 L1659.2,1333.7 L1661.7,1335.3 L1664.3,1336.9 L1666.8,1338.4 L1669.4,1340.0 L1672.0,1341.5 L1674.6,1343.0 L1677.2,1344.4 L1679.8,1345.8 L1682.5,1347.2 L1685.1,1348.6 L1687.8,1349.9 L1690.5,1351.2 L1693.2,1352.5 L1696.0,1353.8 L1698.7,1355.0 L1701.5,1356.2 L1704.3,1357.3 L1707.1,1358.4 L1709.9,1359.5 L1712.7,1360.6 L1715.5,1361.6 L1718.4,1362.6 L1721.3,1363.5 L1724.2,1364.4 L1727.1,1365.3 L1730.0,1366.2 L1732.9,1367.0 L1735.8,1367.7 L1738.8,1368.5 L1741.7,1369.2 L1744.7,1369.8 L1747.7,1370.5 L1750.6,1371.1 L1753.6,1371.6 L1756.6,1372.1 L1759.6,1372.6 L1762.6,1373.0 L1765.6,1373.4 L1768.7,1373.8 L1771.7,1374.1 L1774.7,1374.4 L1777.7,1374.6 L1780.7,1374.8 L1783.8,1375.0 L1786.8,1375.1 L1789.8,1375.2 L1792.8,1375.2 L1795.9,1375.2 L1798.9,1375.2 L1801.9,1375.1 L1804.9,1374.9 L1807.9,1374.7 L1810.9,1374.5 L1813.9,1374.2 L1816.9,1373.9 L1819.9,1373.6 L1822.8,1373.2 L1825.8,1372.7 L1828.7,1372.2 L1831.7,1371.7 L1834.6,1371.1 L1837.5,1370.4 L1840.4,1369.8 L1843.3,1369.0 L1846.2,1368.3 L1849.1,1367.4 L1851.9,1366.6 L1854.7,1365.6 L1857.6,1364.7 L1860.4,1363.6 L1863.1,1362.6 L1865.9,1361.4 L1868.7,1360.3 L1871.4,1359.0 L1874.1,1357.8 L1876.8,1356.4 L1879.4,1355.1 L1882.1,1353.6 L1884.7,1352.1 L1887.3,1350.6 L1889.8,1349.0 L1892.4,1347.4 L1894.9,1345.7 L1897.4,1343.9" stroke="#000000"/>
<path d="M261.0,1526.5 L264.1,1525.9 L267.2,1525.4 L270.3,1524.9 L273.5,1524.5 L276.6,1524.1 L279.7,1523.6 L282.8,1523.3 L285.9,1522.9 L289.0,1522.5 L292.0,1522.2 L295.1,1521.9 L298.2,1521.5 L301.3,1521.3 L304.4,1521.0 L307.4,1520.7 L310.5,1520.4 L313.6,1520.2 L316.6,1519.9 L319.7,1519.7 L322.7,1519.5 L325.8,1519.2 L328.8,1519.0 L331.8,1518.8 L334.9,1518.6 L337.9,1518.4 L340.9,1518.1 L343.9,1517.9 L346.9,1517.7 L349.9,1517.5 L352.9,1517.3 L355.9,1517.0 L358.9,1516.8 L361.9,1516.5 L364.9,1516.3 L367.8,1516.0 L370.8,1515.7 L373.8,1515.4 L376.7,1515.1 L379.7,1514.8 L382.6,1514.5 L385.5,1514.1 L388.5,1513.8 L391.4,1513.4 L394.3,1513.0 L397.2,1512.6 L400.1,1512.1 L403.0,1511.6 L405.9,1511.1 L408.8,1510.6 L411.6,1510.1 L414.5,1509.5 L417.4,1508.9 L420.2,1508.3 L423.0,1507.6 L425.9,1506.9 L428.7,1506.2 L431.5,1505.5 L434.3,1504.7 L437.1,1503.9 L439.9,1503.0 L442.7,1502.1 L445.5,1501.2 L448.3,1500.2 L451.0,1499.2 L453.8,1498.1 L456.5,1497.0 L459.3,1495.9 L462.0,1494.7 L464.7,1493.5 L467.4,1492.3 L470.1,1491.0 L472.8,1489.7 L475.5,1488.3 L478.1,1487.0 L480.8,1485.5 L483.5,1484.1 L486.1,1482.6 L488.7,1481.1 L491.4,1479.6 L494.0,1478.0 L496.6,1476.5 L499.2,1474.9 L501.8,1473.2 L504.3,1471.6 L506.9,1469.9 L509.5,1468.2 L512.0,1466.5 L514.5,1464.7 L517.0,1462.9 L519.6,1461.2 L522.1,1459.3 L524.5,1457.5 L527.0,1455.7 L529.5,1453.8 L531.9,1452.0 L534.4,1450.1 L536.8,1448.2 L539.2,1446.3 L541.7,1444.3 L544.1,1442.4 L546.4,1440.4 L548.8,1438.5 L551.2,1436.5 L553.5,1434.5 L555.9,1432.6 L558.2,1430.6 L560.5,1428.6 L562.8,1426.6 L565.1,1424.6 L567.4,1422.6 L569.7,1420.5 L571.9,1418.5 L574.2,1416.5 L576.4,1414.5 L578.6,1412.4 L580.8,1410.4 L583.0,1408.3 L585.2,1406.3 L587.4,1404.2 L589.6,1402.1 L591.7,1400.1 L593.9,1398.0 L596.0,1395.9 L598.1,1393.8 L600.3,1391.7 L602.4,1389.7 L604.5,1387.6 L606.6,1385.4 L608.7,1383.3 L610.7,1381.2 L612.8,1379.1 L614.9,1377.0 L616.9,1374.8 L619.0,1372.7 L621.0,1370.6 L623.0,1368.4 L625.1,1366.3 L627.1,1364.1 L629.1,1362.0 L631.1,1359.8 L633.1,1357.6 L635.1,1355.5 L637.1,1353.3 L639.0,1351.1 L641.0,1348.9 L643.0,1346.7 L644.9,1344.5 L646.9,1342.3 L648.8,1340.1 L650.8,1337.9 L652.7,1335.7 L654.7,1333.5 L656.6,1331.3 L658.5,1329.0 L660.4,1326.8 L662.4,1324.6 L664.3,1322.3 L666.2,1320.1 L668.1,1317.8 L670.0,1315.6 L671.9,1313.3 L673.8,1311.1 L675.7,1308.8 L677.6,1306.5 L679.5,1304.3 L681.4,1302.0 L683.2,1299.7 L685.1,1297.4 L687.0,1295.1 L688.9,1292.8 L690.8,1290.5 L692.6,1288.2 L694.5,1285.9 L696.4,1283.6 L698.2,1281.3 L700.1,1279.0 L702.0,1276.7 L703.8,1274.4 L705.7,1272.0 L707.6,1269.7 L709.4,1267.4 L711.3,1265.0 L713.1,1262.7 L715.0,1260.3 L716.9,1258.0 L718.7,1255.6 L720.6,1253.3 L722.4,1250.9 L724.2,1248.6 L726.1,1246.2 L727.9,1243.8 L729.8,1241.4 L731.6,1239.1 L733.4,1236.7 L735.3,1234.3 L737.1,1231.9 L738.9,1229.5 L740.7,1227.1 L742.6,1224.7 L744.4,1222.3 L746.2,1219.9 L748.0,1217.5 L749.8,1215.1 L751.6,1212.7 L753.4,1210.3 L755.2,1207.9 L757.0,1205.5 L758.8,1203.0 L760.6,1200.6 L762.4,1198.2 L764.2,1195.7 L765.9,1193.3 L767.7,1190.9 L769.5,1188.4 L771.3,1186.0 L773.0,1183.5 L774.8,1181.1 L776.6,1178.6 L778.3,1176.2 L780.1,1173.7 L781.8,1171.2 L783.6,1168.8 L785.3,1166.3 L787.1,1163.8 L788.8,1161.4 L790.5,1158.9 L792.3,1156.4 L794.0,1153.9 L795.7,1151.4 L797.4,1149.0 L799.1,1146.5 L800.8,1144.0 L802.6,1141.5 L804.3,1139.0 L806.0,1136.5 L807.7,1134.0 L809.4,1131.5 L811.0,1129.0 L812.7,1126.5 L814.4,1124.0 L816.1,1121.5 L817.8,1118.9 L819.4,1116.4 L821.1,1113.9 L822.8,1111.4 L824.4,1108.9 L826.1,1106.3 L827.8,1103.8 L829.4,1101.3 L831.0,1098.7 L832.7,1096.2 L834.3,1093.7 L836.0,1091.1 L837.6,1088.6 L839.2,1086.0 L840.8,1083.5 L842.5,1080.9 L844.1,1078.4 L845.7,1075.8 L847.3,1073.3 L848.9,1070.7 L850.5,1068.2 L852.1,1065.6 L853.7,1063.0 L855.3,1060.5 L856.9,1057.9 L858.5,1055.3 L860.0,1052.8 L861.6,1050.2 L863.2,1047.6 L864.8,1045.0 L866.3,1042.4 L867.9,1039.9 L869.4,1037.3 L871.0,1034.7 L872.5,1032.1 L874.1,1029.5 L875.6,1026.9 L877.1,1024.3 L878.7,1021.7 L880.2,1019.1 L881.7,1016.5 L883.2,1013.9 L884.8,1011.3 L886.3,1008.7 L887.8,1006.1 L889.3,1003.5 L890.8,1000.9 L892.3,998.3 L893.8,995.7 L895.3,993.1 L896.7,990.5 L898.2,987.9 L899.7,985.2 L901.2,982.6 L902.6,980.0 L904.1,977.4 L905.5,974.8 L907.0,972.1 L908.5,969.5 L909.9,966.9 L911.3,964.2 L912.8,961.6 L914.2,959.0 L915.6,956.3 L917.1,953.7 L918.5,951.1 L919.9,948.4 L921.3,945.8 L922.7,943.2 L924.1,940.5 L925.5,937.9 L926.9,935.2 L928.3,932.6 L929.7,929.9 L931.1,927.3 L932.5,924.6 L933.8,922.0 L935.2,919.3 L936.6,916.7 L937.9,914.0 L939.3,911.4 L940.6,908.7 L942.0,906.1 L943.3,903.4 L944.7,900.7 L946.0,898.1 L947.3,895.4 L948.7,892.8 L950.0,890.1 L951.3,887.4 L952.6,884.8 L953.9,882.1 L955.2,879.4 L956.5,876.8 L957.8,874.1 L959.1,871.4 L960.4,868.8 L961.7,866.1 L963.0,863.4 L964.3,860.7 L965.5,858.1 L966.8,855.4 L968.0,852.7 L969.3,850.0 L970.6,847.4 L971.8,844.7 L973.0,842.0 L974.3,839.3 L975.5,836.7 L976.7,834.0 L978.0,831.3 L979.2,828.6 L980.4,825.9 L981.6,823.2 L982.8,820.6 L984.0,817.9 L985.2,815.2 L986.4,812.5 L987.6,809.8 L988.8,807.1 L990.0,804.5 L991.1,801.8 L992.3,799.1 L993.5,796.4 L994.6,793.7 L995.8,791.0 L996.9,788.3 L998.1,785.6 L999.2,782.9 L1000.3,780.3 L1001.5,777.6 L1002.6,774.9 L1003.7,772.2 L1004.8,769.5 L1006.0,766.8 L1007.1,764.1 L1008.2,761.4 L1009.3,758.7 L1010.4,756.0 L1011.5,753.3 L1012.7,750.6 L1013.8,747.9 L1015.0,745.2 L1016.1,742.5 L1017.3,739.8 L1018.5,737.1 L1019.7,734.4 L1021.0,731.7 L1022.2,729.0 L1023.5,726.3 L1024.8,723.6 L1026.1,720.9 L1027.5,718.2 L1028.9,715.4 L1030.3,712.7 L1031.8,710.0 L1033.3,707.3 L1034.8,704.5 L1036.3,701.8 L1037.9,699.1 L1039.5,696.3 L1041.2,693.6 L1042.8,690.8 L1044.5,688.1 L1046.1,685.3 L1047.8,682.6 L1049.5,679.8 L1051.1,677.0 L1052.8,674.3 L1054.4,671.5 L1056.0,668.7 L1057.5,665.9 L1059.1,663.1 L1060.6,660.3 L1062.0,657.5 L1063.5,654.7 L1064.8,651.9 L1066.1,649.1 L1067.4,646.3 L1068.6,643.5 L1069.7,640.6 L1070.8,637.8 L1071.9,635.0 L1072.9,632.1 L1073.8,629.3 L1074.7,626.4 L1075.6,623.6 L1076.4,620.7 L1077.2,617.9 L1077.9,615.1 L1078.6,612.2 L1079.3,609.4 L1079.9,606.5 L1080.5,603.7 L1081.1,600.8 L1081.7,598.0 L1082.2,595.2 L1082.8,592.3 L1083.2,589.5 L1083.7,586.7 L1084.2,583.9 L1084.7,581.1 L1085.2,578.3 L1085.6,575.5 L1086.1,572.7 L1086.6,569.9 L1087.1,567.1 L1087.7,564.3 L1088.2,561.6 L1088.8,558.8 L1089.4,556.1 L1090.1,553.4 L1090.8,550.6 L1091.5,547.9 L1092.3,545.2 L1093.2,542.5 L1094.1,539.9 L1095.0,537.2 L1096.1,534.6 L1097.2,531.9 L1098.3,529.3 L1099.6,526.7 L1100.9,524.1 L1102.4,521.5 L1103.9,519.0 L1105.4,516.4 L1107.1,513.9 L1108.7,511.3 L1110.5,508.8 L1112.3,506.3 L1114.1,503.8 L1115.9,501.3 L1117.8,498.7 L1119.6,496.2 L1121.5,493.7 L1123.4,491.2 L1125.3,488.6 L1127.1,486.1 L1129.0,483.5 L1130.8,480.9 L1132.6,478.4 L1134.3,475.8 L1136.0,473.2 L1137.6,470.5 L1139.2,467.9 L1140.7,465.2 L1142.2,462.5 L1143.5,459.8 L1144.8,457.0 L1146.0,454.2 L1147.2,451.4 L1148.3,448.6 L1149.3,445.8 L1150.3,443.0 L1151.3,440.2 L1152.3,437.3 L1153.2,434.5 L1154.2,431.7 L1155.2,428.9 L1156.2,426.1 L1157.2,423.3 L1158.3,420.5 L1159.4,417.8 L1160.6,415.1 L1161.9,412.4 L1163.3,409.8 L1164.7,407.2 L1166.3,404.6 L1167.9,402.1 L1169.7,399.7 L1171.6,397.2 L1173.6,394.9 L1175.7,392.6 L1177.9,390.4 L1180.2,388.3 L1182.6,386.2 L1185.1,384.3 L1187.6,382.4 L1190.2,380.6 L1192.8,379.0 L1195.4,377.5 L1198.2,376.0 L1200.9,374.7 L1203.6,373.6 L1206.4,372.6 L1209.1,371.7 L1211.9,370.9 L1214.6,370.4 L1217.3,369.9 L1220.0,369.7 L1222.6,369.6 L1225.2,369.7 L1227.8,370.0 L1230.3,370.5 L1232.7,371.1 L1235.1,371.9 L1237.4,372.8 L1239.7,373.9 L1242.0,375.2 L1244.2,376.5 L1246.3,378.0 L1248.4,379.7 L1250.5,381.4 L1252.5,383.2 L1254.5,385.2 L1256.4,387.2 L1258.3,389.4 L1260.2,391.6 L1262.0,393.9 L1263.8,396.3 L1265.6,398.7 L1267.3,401.2 L1269.0,403.7 L1270.6,406.3 L1272.2,408.9 L1273.8,411.6 L1275.3,414.3 L1276.9,417.0 L1278.4,419.7 L1279.8,422.4 L1281.2,425.2 L1282.7,427.9 L1284.0,430.7 L1285.4,433.4 L1286.7,436.2 L1288.0,439.0 L1289.3,441.8 L1290.6,444.6 L1291.8,447.4 L1293.0,450.2 L1294.2,453.0 L1295.4,455.9 L1296.6,458.7 L1297.7,461.5 L1298.9,464.4 L1300.0,467.2 L1301.1,470.1 L1302.2,472.9 L1303.3,475.8 L1304.4,478.6 L1305.4,481.5 L1306.5,484.4 L1307.5,487.2 L1308.5,490.1 L1309.6,493.0 L1310.6,495.9 L1311.6,498.7 L1312.6,501.6 L1313.6,504.5 L1314.6,507.4 L1315.6,510.2 L1316.6,513.1 L1317.6,516.0 L1318.6,518.9 L1319.6,521.7 L1320.6,524.6 L1321.6,527.5 L1322.6,530.3 L1323.6,533.2 L1324.5,536.1 L1325.5,539.0 L1326.5,541.8 L1327.4,544.7 L1328.4,547.6 L1329.3,550.5 L1330.3,553.3 L1331.2,556.2 L1332.2,559.1 L1333.1,562.0 L1334.1,564.8 L1335.0,567.7 L1335.9,570.6 L1336.9,573.5 L1337.8,576.3 L1338.7,579.2 L1339.6,582.1 L1340.5,585.0 L1341.5,587.8 L1342.4,590.7 L1343.3,593.6 L1344.2,596.5 L1345.1,599.3 L1346.0,602.2 L1346.8,605.1 L1347.7,608.0 L1348.6,610.8 L1349.5,613.7 L1350.4,616.6 L1351.2,619.5 L1352.1,622.4 L1353.0,625.2 L1353.8,628.1 L1354.7,631.0 L1355.5,633.9 L1356.4,636.8 L1357.2,639.6 L1358.1,642.5 L1358.9,645.4 L1359.7,648.3 L1360.6,651.2 L1361.4,654.0 L1362.2,656.9 L1363.0,659.8 L1363.9,662.7 L1364.7,665.6 L1365.5,668.5 L1366.3,671.4 L1367.1,674.3 L1367.9,677.1 L1368.7,680.0 L1369.5,682.9 L1370.2,685.8 L1371.0,688.7 L1371.8,691.6 L1372.6,694.5 L1373.3,697.4 L1374.1,700.3 L1374.9,703.2 L1375.6,706.1 L1376.4,708.9 L1377.2,711.8 L1377.9,714.7 L1378.7,717.6 L1379.4,720.5 L1380.2,723.4 L1380.9,726.3 L1381.7,729.2 L1382.4,732.1 L1383.2,735.0 L1383.9,737.9 L1384.6,740.8 L1385.4,743.7 L1386.1,746.6 L1386.8,749.5 L1387.6,752.4 L1388.3,755.3 L1389.0,758.2 L1389.8,761.1 L1390.5,764.0 L1391.2,766.9 L1392.0,769.8 L1392.7,772.7 L1393.4,775.6 L1394.1,778.5 L1394.9,781.4 L1395.6,784.3 L1396.3,787.1 L1397.0,790.0 L1397.8,792.9 L1398.5,795.8 L1399.2,798.7 L1400.0,801.6 L1400.7,804.5 L1401.4,807.4 L1402.2,810.3 L1402.9,813.2 L1403.6,816.1 L1404.4,819.0 L1405.1,821.9 L1405.8,824.8 L1406.6,827.7 L1407.3,830.5 L1408.1,833.4 L1408.8,836.3 L1409.6,839.2 L1410.3,842.1 L1411.1,845.0 L1411.8,847.9 L1412.6,850.8 L1413.3,853.7 L1414.1,856.5 L1414.9,859.4 L1415.6,862.3 L1416.4,865.2 L1417.2,868.1 L1418.0,870.9 L1418.7,873.8 L1419.5,876.7 L1420.3,879.6 L1421.1,882.5 L1421.9,885.3 L1422.7,888.2 L1423.5,891.1 L1424.3,894.0 L1425.1,896.8 L1425.9,899.7 L1426.7,902.6 L1427.6,905.4 L1428.4,908.3 L1429.2,911.2 L1430.1,914.0 L1430.9,916.9 L1431.8,919.8 L1432.6,922.6 L1433.5,925.5 L1434.3,928.4 L1435.2,931.2 L1436.1,934.1 L1436.9,936.9 L1437.8,939.8 L1438.7,942.6 L1439.6,945.5 L1440.5,948.3 L1441.4,951.2 L1442.3,954.0 L1443.3,956.9 L1444.2,959.7 L1445.1,962.6 L1446.1,965.4 L1447.0,968.3 L1448.0,971.1 L1448.9,973.9 L1449.9,976.8 L1450.9,979.6 L1451.8,982.4 L1452.8,985.3 L1453.8,988.1 L1454.8,990.9 L1455.8,993.7 L1456.9,996.6 L1457.9,999.4 L1458.9,1002.2 L1460.0,1005.0 L1461.0,1007.8 L1462.1,1010.7 L1463.1,1013.5 L1464.2,1016.3 L1465.3,1019.1 L1466.4,1021.9 L1467.5,1024.7 L1468.6,1027.5 L1469.7,1030.3 L1470.9,1033.1 L1472.0,1035.9 L1473.2,1038.7 L1474.3,1041.5 L1475.5,1044.3 L1476.6,1047.1 L1477.8,1049.9 L1479.0,1052.6 L1480.2,1055.4 L1481.4,1058.2 L1482.6,1061.0 L1483.9,1063.8 L1485.1,1066.5 L1486.3,1069.3 L1487.6,1072.1 L1488.8,1074.8 L1490.1,1077.6 L1491.4,1080.4 L1492.6,1083.1 L1493.9,1085.9 L1495.2,1088.6 L1496.5,1091.4 L1497.8,1094.1 L1499.1,1096.9 L1500.5,1099.6 L1501.8,1102.4 L1503.1,1105.1 L1504.4,1107.8 L1505.8,1110.6 L1507.1,1113.3 L1508.5,1116.0 L1509.8,1118.8 L1511.2,1121.5 L1512.6,1124.2 L1513.9,1126.9 L1515.3,1129.6 L1516.7,1132.3 L1518.1,1135.0 L1519.5,1137.8 L1520.9,1140.5 L1522.3,1143.2 L1523.7,1145.9 L1525.1,1148.5 L1526.5,1151.2 L1527.9,1153.9 L1529.3,1156.6 L1530.8,1159.3 L1532.2,1162.0 L1533.6,1164.6 L1535.1,1167.3 L1536.5,1170.0 L1537.9,1172.7 L1539.4,1175.3 L1540.8,1178.0 L1542.3,1180.6 L1543.7,1183.3 L1545.2,1185.9 L1546.6,1188.6 L1548.1,1191.2 L1549.5,1193.9 L1551.0,1196.5 L1552.5,1199.2 L1553.9,1201.8 L1555.4,1204.4 L1556.9,1207.0 L1558.3,1209.7 L1559.8,1212.3 L1561.3,1214.9 L1562.7,1217.5 L1564.2,1220.1 L1565.7,1222.7 L1567.2,1225.3 L1568.6,1227.9 L1570.1,1230.5 L1571.6,1233.1 L1573.1,1235.7 L1574.5,1238.2 L1576.0,1240.8 L1577.5,1243.4 L1579.0,1245.9 L1580.5,1248.5 L1582.1,1251.0 L1583.6,1253.5 L1585.2,1256.0 L1586.7,1258.5 L1588.3,1261.0 L1589.9,1263.4 L1591.6,1265.8 L1593.2,1268.3 L1594.9,1270.7 L1596.6,1273.0 L1598.3,1275.4 L1600.1,1277.7 L1601.9,1280.0 L1603.7,1282.3 L1605.6,1284.5 L1607.5,1286.7 L1609.4,1288.9 L1611.4,1291.1 L1613.4,1293.2 L1615.4,1295.3 L1617.5,1297.3 L1619.6,1299.4 L1621.8,1301.4 L1624.0,1303.3 L1626.2,1305.3 L1628.5,1307.2 L1630.8,1309.1 L1633.1,1310.9 L1635.4,1312.8 L1637.8,1314.5 L1640.2,1316.3 L1642.7,1318.0 L1645.1,1319.7 L1647.6,1321.4 L1650.1,1323.1 L1652.7,1324.7 L1655.2,1326.3 L1657.8,1327.8 L1660.5,1329.3 L1663.1,1330.8 L1665.8,1332.3 L1668.4,1333.8 L1671.1,1335.2 L1673.9,1336.6 L1676.6,1337.9 L1679.3,1339.2 L1682.1,1340.5 L1684.9,1341.8 L1687.7,1343.1 L1690.5,1344.3 L1693.4,1345.5 L1696.2,1346.6 L1699.1,1347.7 L1702.0,1348.8 L1704.9,1349.9 L1707.8,1351.0 L1710.7,1352.0 L1713.6,1353.0 L1716.5,1353.9 L1719.4,1354.9 L1722.4,1355.8 L1725.3,1356.7 L1728.3,1357.5 L1731.2,1358.3 L1734.2,1359.1 L1737.2,1359.9 L1740.1,1360.6 L1743.1,1361.3 L1746.1,1362.0 L1749.1,1362.6 L1752.1,1363.3 L1755.1,1363.8 L1758.0,1364.4 L1761.0,1364.9 L1764.0,1365.3 L1767.0,1365.8 L1770.0,1366.2 L1773.0,1366.5 L1776.0,1366.9 L1779.0,1367.1 L1782.0,1367.4 L1785.0,1367.6 L1787.9,1367.8 L1790.9,1367.9 L1793.9,1368.0 L1796.9,1368.0 L1799.9,1368.0 L1802.8,1368.0 L1805.8,1367.9 L1808.7,1367.8 L1811.7,1367.6 L1814.6,1367.4 L1817.6,1367.1 L1820.5,1366.8 L1823.4,1366.5 L1826.4,1366.1 L1829.3,1365.6 L1832.2,1365.1 L1835.1,1364.6 L1838.0,1364.0 L1840.8,1363.3 L1843.7,1362.6 L1846.5,1361.8 L1849.4,1361.0 L1852.2,1360.2 L1855.0,1359.3 L1857.8,1358.3 L1860.6,1357.3 L1863.4,1356.2 L1866.2,1355.1 L1868.9,1353.9 L1871.7,1352.6 L1874.4,1351.3 L1877.1,1350.0 L1879.8,1348.6 L1882.5,1347.1 L1885.2,1345.5 L1887.8,1343.9 L1890.4,1342.3 L1893.0,1340.5 L1895.6,1338.8 L1898.2,1336.9" stroke="#0000ff"/>
<path d="M145.0,1462.0 L147.8,1462.1 L150.6,1462.2 L153.4,1462.3 L156.3,1462.5 L159.1,1462.6 L162.0,1462.8 L164.9,1463.0 L167.8,1463.2 L170.7,1463.4 L173.6,1463.6 L176.5,1463.8 L179.5,1464.0 L182.4,1464.2 L185.4,1464.5 L188.4,1464.7 L191.3,1465.0 L194.3,1465.2 L197.3,1465.5 L200.3,1465.8 L203.4,1466.0 L206.4,1466.3 L209.4,1466.6 L212.5,1466.8 L215.5,1467.1 L218.6,1467.4 L221.6,1467.7 L224.7,1468.0 L227.8,1468.2 L230.8,1468.5 L233.9,1468.8 L237.0,1469.1 L240.1,1469.3 L243.2,1469.6 L246.3,1469.9 L249.4,1470.1 L252.5,1470.4 L255.6,1470.6 L258.7,1470.9 L261.9,1471.1 L265.0,1471.4 L268.1,1471.6 L271.2,1471.8 L274.3,1472.0 L277.5,1472.2 L280.6,1472.4 L283.7,1472.6 L286.8,1472.7 L290.0,1472.9 L293.1,1473.0 L296.2,1473.2 L299.3,1473.3 L302.4,1473.4 L305.5,1473.5 L308.6,1473.5 L311.7,1473.6 L314.8,1473.6 L317.9,1473.7 L321.0,1473.7 L324.1,1473.7 L327.2,1473.6 L330.3,1473.6 L333.4,1473.5 L336.4,1473.4 L339.5,1473.3 L342.6,1473.2 L345.6,1473.1 L348.7,1472.9 L351.7,1472.7 L354.7,1472.5 L357.7,1472.3 L360.7,1472.0 L363.8,1471.7 L366.7,1471.4 L369.7,1471.0 L372.7,1470.7 L375.7,1470.3 L378.6,1469.8 L381.6,1469.4 L384.5,1468.9 L387.4,1468.4 L390.3,1467.8 L393.2,1467.2 L396.1,1466.6 L399.0,1466.0 L401.8,1465.3 L404.7,1464.6 L407.5,1463.8 L410.3,1463.0 L413.1,1462.2 L415.9,1461.3 L418.7,1460.4 L421.5,1459.5 L424.2,1458.5 L426.9,1457.4 L429.7,1456.4 L432.3,1455.3 L435.0,1454.1 L437.7,1452.9 L440.3,1451.7 L443.0,1450.4 L445.6,1449.1 L448.1,1447.7 L450.7,1446.3 L453.3,1444.8 L455.8,1443.3 L458.3,1441.7 L460.8,1440.1 L463.3,1438.5 L465.7,1436.8 L468.1,1435.1 L470.5,1433.4 L472.9,1431.6 L475.3,1429.7 L477.6,1427.9 L479.9,1426.0 L482.2,1424.0 L484.5,1422.1 L486.8,1420.1 L489.0,1418.0 L491.2,1416.0 L493.3,1413.9 L495.5,1411.8 L497.6,1409.6 L499.7,1407.4 L501.8,1405.2 L503.8,1403.0 L505.8,1400.8 L507.8,1398.5 L509.8,1396.2 L511.7,1393.9 L513.6,1391.5 L515.5,1389.2 L517.4,1386.8 L519.2,1384.4 L521.0,1382.0 L522.7,1379.6 L524.5,1377.1 L526.2,1374.7 L527.9,1372.2 L529.5,1369.8 L531.2,1367.3 L532.8,1364.8 L534.4,1362.3 L536.0,1359.7 L537.6,1357.2 L539.2,1354.7 L540.8,1352.1 L542.4,1349.6 L544.0,1347.1 L545.5,1344.5 L547.1,1342.0 L548.7,1339.4 L550.3,1336.9 L551.9,1334.3 L553.5,1331.8 L555.1,1329.2 L556.7,1326.7 L558.4,1324.1 L560.1,1321.6 L561.8,1319.1 L563.5,1316.6 L565.2,1314.1 L567.0,1311.6 L568.8,1309.1 L570.6,1306.6 L572.5,1304.1 L574.4,1301.7 L576.4,1299.2 L578.4,1296.8 L580.4,1294.4 L582.5,1292.0 L585.3,1292.4 L588.1,1292.9 L591.0,1293.3 L593.9,1293.7 L596.8,1294.1 L599.7,1294.5 L602.7,1294.9 L605.7,1295.3 L608.7,1295.6 L611.7,1295.9 L614.7,1296.2 L617.7,1296.5 L620.8,1296.7 L623.9,1296.9 L626.9,1297.1 L630.0,1297.3 L633.1,1297.4 L636.2,1297.5 L639.3,1297.6 L642.4,1297.6 L645.5,1297.6 L648.5,1297.6 L651.6,1297.5 L654.7,1297.4 L657.7,1297.2 L660.8,1297.0 L663.8,1296.8 L666.8,1296.5 L669.8,1296.1 L672.8,1295.7 L675.8,1295.3 L678.7,1294.8 L681.6,1294.3 L684.5,1293.6 L687.4,1293.0 L690.2,1292.3 L693.0,1291.5 L695.8,1290.7 L698.5,1289.8 L701.2,1288.8 L703.9,1287.8 L706.5,1286.7 L709.2,1285.6 L711.8,1284.4 L714.4,1283.2 L717.0,1281.9 L719.5,1280.5 L722.1,1279.1 L724.6,1277.7 L727.1,1276.1 L729.6,1274.6 L732.1,1272.9 L734.6,1271.2 L737.1,1269.5 L739.5,1267.8 L742.0,1266.0 L744.5,1264.2 L747.0,1262.4 L749.4,1260.6 L751.9,1258.9 L754.4,1257.1 L756.8,1255.4 L759.3,1253.6 L761.8,1252.0 L764.3,1250.3 L766.8,1248.6 L769.3,1247.0 L771.8,1245.3 L774.3,1243.7 L776.8,1242.1 L779.3,1240.5 L781.8,1238.9 L784.2,1237.3 L786.7,1235.7 L789.2,1234.1 L791.7,1232.5 L794.2,1231.0 L796.7,1229.4 L799.2,1227.8 L801.7,1226.2 L804.1,1224.6 L806.6,1223.1 L809.1,1221.5 L811.6,1219.9 L814.0,1218.3 L816.5,1216.6 L818.9,1215.0 L821.4,1213.4 L823.8,1211.7 L826.2,1210.1 L828.7,1208.4 L831.1,1206.7 L833.5,1205.0 L835.9,1203.2 L838.3,1201.5 L840.7,1199.7 L843.0,1198.0 L845.4,1196.2 L847.8,1194.4 L850.2,1192.6 L852.5,1190.8 L854.9,1188.9 L857.2,1187.1 L859.5,1185.2 L861.9,1183.3 L864.2,1181.5 L866.5,1179.6 L868.8,1177.7 L871.1,1175.7 L873.4,1173.8 L875.7,1171.9 L878.0,1169.9 L880.3,1168.0 L882.6,1166.0 L884.9,1164.0 L887.2,1162.0 L889.4,1160.1 L891.7,1158.1 L893.9,1156.0 L896.2,1154.0 L898.4,1152.0 L900.7,1150.0 L902.9,1147.9 L905.1,1145.9 L907.4,1143.8 L909.6,1141.8 L911.8,1139.7 L914.0,1137.7 L916.2,1135.6 L918.4,1133.5 L920.6,1131.4 L922.8,1129.3 L925.0,1127.3 L927.2,1125.2 L929.4,1123.1 L931.6,1121.0 L933.8,1118.9 L936.0,1116.7 L938.1,1114.6 L940.3,1112.5 L942.5,1110.4 L944.6,1108.3 L946.8,1106.2 L949.0,1104.1 L951.1,1102.0 L953.3,1099.8 L955.4,1097.7 L957.6,1095.6 L959.7,1093.5 L961.9,1091.4 L964.0,1089.3 L966.1,1087.1 L968.3,1085.0 L970.4,1082.9 L972.5,1080.8 L974.7,1078.7 L976.8,1076.6 L978.9,1074.5 L981.1,1072.4 L983.2,1070.3 L985.4,1068.3 L987.5,1066.2 L989.7,1064.1 L991.8,1062.1 L994.0,1060.1 L996.2,1058.0 L998.4,1056.0 L1000.5,1054.0 L1002.7,1052.0 L1004.9,1050.0 L1007.2,1048.0 L1009.4,1046.1 L1011.6,1044.1 L1013.9,1042.2 L1016.1,1040.3 L1018.4,1038.4 L1020.7,1036.5 L1023.0,1034.7 L1025.3,1032.8 L1027.6,1031.0 L1030.0,1029.2 L1032.3,1027.4 L1034.7,1025.7 L1037.1,1023.9 L1039.5,1022.2 L1042.0,1020.5 L1044.4,1018.8 L1046.9,1017.2 L1049.4,1015.5 L1051.9,1013.9 L1054.3,1012.2 L1056.8,1010.6 L1059.2,1008.8 L1061.5,1007.0 L1063.8,1005.2 L1066.0,1003.2 L1068.1,1001.1 L1070.1,998.9 L1071.9,996.6 L1073.7,994.2 L1075.4,991.7 L1077.0,989.1 L1078.5,986.4 L1080.0,983.7 L1081.5,981.0 L1083.0,978.3 L1084.5,975.6 L1086.0,973.0 L1087.6,970.4 L1089.2,967.9 L1090.9,965.4 L1092.6,963.1 L1094.5,960.9 L1096.4,958.9 L1098.5,957.0 L1100.7,955.2 L1103.0,953.5 L1105.4,952.0 L1107.8,950.5 L1110.3,949.0 L1112.8,947.7 L1115.4,946.3 L1118.0,944.9 L1120.6,943.6 L1123.1,942.2 L1125.7,940.7 L1128.3,939.2 L1130.8,937.7 L1133.3,936.1 L1135.8,934.5 L1138.2,932.8 L1140.7,931.1 L1143.1,929.3 L1145.5,927.5 L1147.9,925.7 L1150.3,923.9 L1152.7,922.1 L1155.1,920.2 L1157.5,918.4 L1159.9,916.5 L1162.3,914.7 L1164.7,912.8 L1167.1,911.0 L1169.5,909.2 L1171.8,907.4 L1174.2,905.6 L1176.6,903.8 L1179.0,902.1 L1181.4,900.3 L1183.9,898.6 L1186.3,896.9 L1188.7,895.3 L1191.1,893.6 L1193.5,892.0 L1196.0,890.5 L1198.4,888.9 L1200.9,887.4 L1203.3,885.8 L1205.8,884.3 L1208.3,882.8 L1210.7,881.2 L1213.2,879.7 L1215.7,878.1 L1218.2,876.5 L1220.8,874.8 L1223.3,873.1 L1225.8,871.4 L1228.4,869.6 L1230.9,867.8 L1233.5,865.9 L1236.0,864.0 L1238.5,862.1 L1240.9,860.1 L1243.4,858.1 L1245.7,856.0 L1248.1,853.9 L1250.4,851.7 L1252.6,849.6 L1254.7,847.3 L1256.8,845.1 L1258.8,842.8 L1260.7,840.5 L1262.5,838.2 L1264.2,835.8 L1265.8,833.4 L1267.3,831.0 L1268.7,828.5 L1270.1,826.1 L1271.4,823.6 L1272.6,821.1 L1273.8,818.5 L1274.9,816.0 L1276.0,813.4 L1277.0,810.8 L1278.0,808.2 L1279.0,805.6 L1280.0,803.0 L1281.0,800.3 L1281.9,797.7 L1282.9,795.0 L1283.8,792.3 L1284.8,789.6 L1285.8,786.9 L1286.9,784.2 L1287.9,781.5 L1289.0,778.8 L1290.2,776.1 L1291.4,773.4 L1292.7,770.7 L1294.0,768.0 L1295.3,765.2 L1296.7,762.5 L1298.1,759.8 L1299.5,757.1 L1301.0,754.3 L1302.4,751.6 L1304.0,748.9 L1305.5,746.1 L1307.0,743.4 L1308.6,740.6 L1310.2,737.9 L1311.8,735.2 L1313.4,732.4 L1315.0,729.7 L1316.6,726.9 L1318.1,724.1 L1319.7,721.4 L1321.3,718.6 L1322.9,715.9 L1324.5,713.1 L1326.0,710.3 L1327.6,707.6 L1329.1,704.8 L1330.6,702.0 L1332.1,699.2 L1333.5,696.5 L1334.9,693.7 L1336.3,690.9 L1337.7,688.1 L1339.0,685.3 L1340.2,682.6 L1341.5,679.8 L1342.6,677.0 L1343.8,674.2 L1344.9,671.4 L1345.9,668.6 L1346.9,665.8 L1347.8,663.0 L1348.6,660.2 L1349.5,657.4 L1350.3,654.6 L1351.0,651.8 L1351.7,649.0 L1352.4,646.1 L1353.1,643.3 L1353.8,640.5 L1354.4,637.7 L1355.1,634.9 L1355.7,632.1 L1356.4,629.2 L1357.1,626.4 L1357.8,623.6 L1358.5,620.8 L1359.2,617.9 L1360.0,615.1 L1360.8,612.3 L1361.6,609.4 L1362.4,606.6 L1363.3,603.8 L1364.2,600.9 L1365.1,598.1 L1366.0,595.2 L1366.9,592.4 L1367.9,589.5 L1368.8,586.7 L1369.8,583.9 L1370.8,581.0 L1371.7,578.2 L1372.7,575.3 L1373.7,572.4 L1374.6,569.6 L1375.6,566.7 L1376.5,563.9 L1377.5,561.0 L1378.4,558.2 L1379.4,555.3 L1380.3,552.4 L1381.2,549.6 L1382.0,546.7 L1382.9,543.8 L1383.7,541.0 L1384.5,538.1 L1385.4,535.2 L1386.2,532.3 L1386.9,529.5 L1387.7,526.6 L1388.5,523.7 L1389.2,520.8 L1390.0,518.0 L1390.7,515.1 L1391.4,512.2 L1392.2,509.3 L1392.9,506.4 L1393.6,503.5 L1394.3,500.7 L1395.0,497.8 L1395.8,494.9 L1396.5,492.0 L1397.2,489.1 L1397.9,486.2 L1398.6,483.3 L1399.4,480.4 L1400.1,477.5 L1400.8,474.6 L1401.6,471.7 L1402.3,468.8 L1403.1,465.9 L1403.9,463.0 L1404.7,460.1 L1405.5,457.2 L1406.3,454.3 L1407.1,451.4 L1407.9,448.5 L1408.8,445.6 L1409.7,442.7 L1410.6,439.8 L1411.5,436.9 L1412.4,434.0 L1413.4,431.1 L1414.4,428.2 L1415.4,425.3 L1416.4,422.4 L1417.4,419.5 L1418.5,416.6 L1419.6,413.6 L1420.7,410.7 L1421.9,407.8 L1423.1,404.9 L1424.3,402.0 L1425.6,399.1 L1426.9,396.2 L1428.2,393.2 L1429.6,390.3 L1430.9,387.4 L1432.4,384.5 L1433.9,381.7 L1435.4,379.1 L1437.1,376.7 L1438.8,374.5 L1440.7,372.7 L1442.6,371.3 L1444.7,370.3 L1447.0,369.8 L1449.3,369.8 L1451.7,370.2 L1454.1,371.0 L1456.5,372.1 L1458.9,373.4 L1461.2,374.8 L1463.3,376.5 L1465.3,378.2 L1467.2,380.1 L1469.0,382.1 L1470.6,384.2 L1472.2,386.5 L1473.7,388.8 L1475.0,391.2 L1476.3,393.7 L1477.6,396.2 L1478.7,398.9 L1479.8,401.6 L1480.8,404.4 L1481.8,407.2 L1482.8,410.0 L1483.7,412.9 L1484.5,415.8 L1485.4,418.8 L1486.2,421.8 L1487.0,424.7 L1487.8,427.7 L1488.6,430.7 L1489.4,433.7 L1490.2,436.6 L1491.0,439.6 L1491.8,442.6 L1492.6,445.6 L1493.3,448.5 L1494.1,451.5 L1494.9,454.5 L1495.7,457.5 L1496.4,460.4 L1497.2,463.4 L1498.0,466.4 L1498.7,469.3 L1499.5,472.3 L1500.3,475.3 L1501.0,478.2 L1501.8,481.2 L1502.5,484.2 L1503.3,487.1 L1504.0,490.1 L1504.7,493.1 L1505.5,496.0 L1506.2,499.0 L1507.0,502.0 L1507.7,504.9 L1508.4,507.9 L1509.1,510.8 L1509.9,513.8 L1510.6,516.8 L1511.3,519.7 L1512.0,522.7 L1512.8,525.6 L1513.5,528.6 L1514.2,531.5 L1514.9,534.5 L1515.6,537.5 L1516.3,540.4 L1517.0,543.4 L1517.7,546.3 L1518.4,549.3 L1519.1,552.2 L1519.8,555.2 L1520.5,558.1 L1521.2,561.1 L1521.9,564.0 L1522.6,567.0 L1523.3,569.9 L1524.0,572.8 L1524.7,575.8 L1525.4,578.7 L1526.0,581.7 L1526.7,584.6 L1527.4,587.6 L1528.1,590.5 L1528.8,593.5 L1529.5,596.4 L1530.1,599.3 L1530.8,602.3 L1531.5,605.2 L1532.2,608.2 L1532.8,611.1 L1533.5,614.0 L1534.2,617.0 L1534.9,619.9 L1535.5,622.8 L1536.2,625.8 L1536.9,628.7 L1537.5,631.6 L1538.2,634.6 L1538.9,637.5 L1539.6,640.4 L1540.2,643.4 L1540.9,646.3 L1541.6,649.2 L1542.2,652.2 L1542.9,655.1 L1543.6,658.0 L1544.2,661.0 L1544.9,663.9 L1545.5,666.8 L1546.2,669.7 L1546.9,672.7 L1547.5,675.6 L1548.2,678.5 L1548.9,681.4 L1549.5,684.4 L1550.2,687.3 L1550.9,690.2 L1551.5,693.1 L1552.2,696.1 L1552.9,699.0 L1553.5,701.9 L1554.2,704.8 L1554.9,707.7 L1555.5,710.7 L1556.2,713.6 L1556.9,716.5 L1557.5,719.4 L1558.2,722.3 L1558.9,725.2 L1559.5,728.2 L1560.2,731.1 L1560.9,734.0 L1561.5,736.9 L1562.2,739.8 L1562.9,742.7 L1563.6,745.6 L1564.2,748.6 L1564.9,751.5 L1565.6,754.4 L1566.3,757.3 L1566.9,760.2 L1567.6,763.1 L1568.3,766.0 L1569.0,768.9 L1569.7,771.8 L1570.4,774.7 L1571.0,777.6 L1571.7,780.6 L1572.4,783.5 L1573.1,786.4 L1573.8,789.3 L1574.5,792.2 L1575.2,795.1 L1575.9,798.0 L1576.6,800.9 L1577.3,803.8 L1578.0,806.7 L1578.7,809.6 L1579.4,812.5 L1580.1,815.4 L1580.8,818.3 L1581.5,821.2 L1582.2,824.1 L1582.9,827.0 L1583.6,829.9 L1584.3,832.8 L1585.1,835.7 L1585.8,838.6 L1586.5,841.5 L1587.2,844.4 L1588.0,847.3 L1588.7,850.2 L1589.4,853.1 L1590.2,855.9 L1590.9,858.8 L1591.6,861.7 L1592.4,864.6 L1593.1,867.5 L1593.9,870.4 L1594.6,873.3 L1595.4,876.2 L1596.1,879.1 L1596.9,882.0 L1597.6,884.9 L1598.4,887.7 L1599.1,890.6 L1599.9,893.5 L1600.7,896.4 L1601.4,899.3 L1602.2,902.2 L1603.0,905.1 L1603.8,908.0 L1604.6,910.8 L1605.3,913.7 L1606.1,916.6 L1606.9,919.5 L1607.7,922.4 L1608.5,925.3 L1609.3,928.1 L1610.1,931.0 L1610.9,933.9 L1611.8,936.8 L1612.6,939.7 L1613.4,942.6 L1614.2,945.4 L1615.0,948.3 L1615.9,951.2 L1616.7,954.1 L1617.5,957.0 L1618.4,959.8 L1619.2,962.7 L1620.1,965.6 L1620.9,968.5 L1621.8,971.3 L1622.6,974.2 L1623.5,977.1 L1624.4,980.0 L1625.2,982.8 L1626.1,985.7 L1627.0,988.6 L1627.9,991.5 L1628.7,994.3 L1629.6,997.2 L1630.5,1000.1 L1631.4,1003.0 L1632.3,1005.8 L1633.2,1008.7 L1634.1,1011.6 L1635.1,1014.5 L1636.0,1017.3 L1636.9,1020.2 L1637.8,1023.1 L1638.8,1025.9 L1639.7,1028.8 L1640.7,1031.7 L1641.6,1034.5 L1642.6,1037.4 L1643.5,1040.2 L1644.5,1043.1 L1645.5,1046.0 L1646.4,1048.8 L1647.4,1051.7 L1648.4,1054.5 L1649.4,1057.4 L1650.4,1060.2 L1651.4,1063.1 L1652.4,1065.9 L1653.5,1068.8 L1654.5,1071.6 L1655.5,1074.4 L1656.6,1077.3 L1657.6,1080.1 L1658.7,1082.9 L1659.7,1085.8 L1660.8,1088.6 L1661.9,1091.4 L1663.0,1094.2 L1664.1,1097.0 L1665.2,1099.8 L1666.3,1102.6 L1667.4,1105.4 L1668.5,1108.2 L1669.6,1111.0 L1670.8,1113.8 L1671.9,1116.6 L1673.1,1119.4 L1674.3,1122.2 L1675.4,1125.0 L1676.6,1127.7 L1677.8,1130.5 L1679.0,1133.3 L1680.2,1136.0 L1681.4,1138.8 L1682.7,1141.5 L1683.9,1144.3 L1685.1,1147.0 L1686.4,1149.8 L1687.7,1152.5 L1688.9,1155.2 L1690.2,1157.9 L1691.5,1160.7 L1692.8,1163.4 L1694.1,1166.1 L1695.4,1168.8 L1696.8,1171.5 L1698.1,1174.2 L1699.5,1176.8 L1700.8,1179.5 L1702.2,1182.2 L1703.6,1184.9 L1705.0,1187.5 L1706.4,1190.2 L1707.8,1192.8 L1709.3,1195.5 L1710.7,1198.1 L1712.2,1200.7 L1713.6,1203.3 L1715.1,1206.0 L1716.6,1208.6 L1718.1,1211.2 L1719.6,1213.8 L1721.1,1216.3 L1722.7,1218.9 L1724.2,1221.5 L1725.8,1224.1 L1727.4,1226.6 L1728.9,1229.2 L1730.5,1231.7 L1732.2,1234.2 L1733.8,1236.8 L1735.4,1239.3 L1737.1,1241.8 L1738.7,1244.3 L1740.4,1246.8 L1742.1,1249.3 L1743.8,1251.8 L1745.5,1254.2 L1747.3,1256.7 L1749.0,1259.2 L1750.8,1261.6 L1752.5,1264.0 L1754.3,1266.5 L1756.1,1268.9 L1757.9,1271.3 L1759.8,1273.7 L1761.6,1276.1 L1763.5,1278.5 L1765.3,1280.8 L1767.2,1283.2 L1769.1,1285.5 L1771.1,1287.9 L1773.0,1290.2 L1774.9,1292.5 L1776.9,1294.9 L1778.9,1297.2 L1780.9,1299.4 L1782.9,1301.7 L1784.9,1304.0 L1787.0,1306.2 L1789.0,1308.4 L1791.1,1310.6 L1793.2,1312.8 L1795.4,1314.9 L1797.5,1317.1 L1799.7,1319.2 L1801.9,1321.2 L1804.1,1323.3 L1806.3,1325.3 L1808.5,1327.2 L1810.8,1329.2 L1813.1,1331.1 L1815.4,1332.9 L1817.8,1334.7 L1820.1,1336.5 L1822.5,1338.3 L1824.9,1340.0 L1827.4,1341.6 L1829.9,1343.2 L1832.4,1344.8 L1834.9,1346.3 L1837.4,1347.7 L1840.0,1349.1 L1842.6,1350.5 L1845.2,1351.8 L1847.9,1353.0 L1850.6,1354.2 L1853.3,1355.3 L1856.1,1356.4 L1858.8,1357.4 L1861.7,1358.3 L1864.5,1359.2 L1867.4,1360.0 L1870.3,1360.7 L1873.2,1361.4 L1876.2,1362.0 L1879.2,1362.5 L1882.3,1362.9 L1885.3,1363.3 L1888.4,1363.6 L1891.6,1363.8 L1894.8,1363.9 L1898.0,1364.0" stroke="#000000"/>
</g>
<g fill="#000">
<rect x="142.2" y="354" width="6" height="1196"/>
<rect x="142.2" y="1523.8" width="1760.5" height="5.3"/>
<rect x="186.3" y="1525" width="5.6" height="25.0"/>
<rect x="230.2" y="1525" width="5.6" height="25.0"/>
<rect x="274.1" y="1525" width="5.6" height="25.0"/>
<rect x="317.9" y="1525" width="5.6" height="25.0"/>
<rect x="361.8" y="1525" width="5.6" height="48.0"/>
<rect x="405.6" y="1525" width="5.6" height="25.0"/>
<rect x="449.4" y="1525" width="5.6" height="25.0"/>
<rect x="493.3" y="1525" width="5.6" height="25.0"/>
<rect x="537.2" y="1525" width="5.6" height="25.0"/>
<rect x="581.0" y="1525" width="5.6" height="25.0"/>
<rect x="624.9" y="1525" width="5.6" height="25.0"/>
<rect x="668.7" y="1525" width="5.6" height="25.0"/>
<rect x="712.6" y="1525" width="5.6" height="25.0"/>
<rect x="756.4" y="1525" width="5.6" height="25.0"/>
<rect x="800.2" y="1525" width="5.6" height="48.0"/>
<rect x="844.1" y="1525" width="5.6" height="25.0"/>
<rect x="888.0" y="1525" width="5.6" height="25.0"/>
<rect x="931.8" y="1525" width="5.6" height="25.0"/>
<rect x="975.7" y="1525" width="5.6" height="25.0"/>
<rect x="1019.5" y="1525" width="5.6" height="25.0"/>
<rect x="1063.4" y="1525" width="5.6" height="25.0"/>
<rect x="1107.2" y="1525" width="5.6" height="25.0"/>
<rect x="1151.1" y="1525" width="5.6" height="25.0"/>
<rect x="1194.9" y="1525" width="5.6" height="25.0"/>
<rect x="1238.8" y="1525" width="5.6" height="48.0"/>
<rect x="1282.6" y="1525" width="5.6" height="25.0"/>
<rect x="1326.5" y="1525" width="5.6" height="25.0"/>
<rect x="1370.3" y="1525" width="5.6" height="25.0"/>
<rect x="1414.2" y="1525" width="5.6" height="25.0"/>
<rect x="1458.0" y="1525" width="5.6" height="25.0"/>
<rect x="1501.9" y="1525" width="5.6" height="25.0"/>
<rect x="1545.7" y="1525" width="5.6" height="25.0"/>
<rect x="1589.5" y="1525" width="5.6" height="25.0"/>
<rect x="1633.4" y="1525" width="5.6" height="25.0"/>
<rect x="1677.2" y="1525" width="5.6" height="48.0"/>
<rect x="1721.1" y="1525" width="5.6" height="25.0"/>
<rect x="1765.0" y="1525" width="5.6" height="25.0"/>
<rect x="1808.8" y="1525" width="5.6" height="25.0"/>
<rect x="1852.7" y="1525" width="5.6" height="25.0"/>
<rect x="592.9" y="1525" width="5.6" height="48"/>
</g>
<text id="tick1720" x="0" y="0" transform="matrix(1.00485 0.00000 0.00000 0.99492 363.29 1665.71)" font-family="'Liberation Serif', 'Times New Roman', serif" font-size="88" fill="#000" text-anchor="middle">1720</text>
<text id="tick1680" x="0" y="0" transform="matrix(0.98970 0.00000 0.00000 0.99322 801.47 1665.51)" font-family="'Liberation Serif', 'Times New Roman', serif" font-size="88" fill="#000" text-anchor="middle">1680</text>
<text id="tick1640" x="0" y="0" transform="matrix(0.99879 0.00000 0.00000 0.99153 1240.20 1665.51)" font-family="'Liberation Serif', 'Times New Roman', serif" font-size="88" fill="#000" text-anchor="middle">1640</text>
<text id="tick1600" x="0" y="0" transform="matrix(1.00000 0.00000 0.00000 1.00000 1678.40 1666.00)" font-family="'Liberation Serif', 'Times New Roman', serif" font-size="88" fill="#000" text-anchor="middle">1600</text>
<text id="xt_wave" x="0" y="0" transform="matrix(1.02083 0.00000 0.00000 1.01045 628.71 1830.59)" font-family="'Liberation Serif', 'Times New Roman', serif" font-size="96" fill="#000">Wavenumber</text>
<text id="xt_cm" x="0" y="0" transform="matrix(0.99653 0.00000 0.00000 0.97558 1173.81 1831.08)" font-family="'Liberation Serif', 'Times New Roman', serif" font-size="96" fill="#000">(cm</text>
<text id="xt_sup" x="0" y="0" transform="matrix(1.02588 0.00000 0.00000 1.02588 1322.55 1786.78)" font-family="'Liberation Serif', 'Times New Roman', serif" font-size="72" fill="#000">-1</text>
<text id="xt_close" x="0" y="0" transform="matrix(1.10000 0.00000 0.00000 0.97558 1379.70 1831.08)" font-family="'Liberation Serif', 'Times New Roman', serif" font-size="96" fill="#000">)</text>
<text id="yt" x="0" y="0" transform="matrix(0.00000 -1.00409 0.95714 0.00000 94.54 1464.71)" font-family="'Liberation Serif', 'Times New Roman', serif" font-size="99" fill="#000">Normalized absorbance</text>
<text id="lg_t1" x="0" y="0" transform="matrix(0.97290 0.00000 0.00000 0.97639 2025.39 89.24)" font-family="'Liberation Sans', Arial, sans-serif" font-size="98" fill="#000" text-anchor="middle">Time of</text>
<text id="lg_t2" x="0" y="0" transform="matrix(0.99878 0.00000 0.00000 0.97802 2026.55 202.43)" font-family="'Liberation Sans', Arial, sans-serif" font-size="98" fill="#000" text-anchor="middle">sonication (s)</text>
<text id="lg_1" x="0" y="0" transform="matrix(1.02647 0.00000 0.00000 1.02647 2111.75 376.80)" font-family="'Liberation Sans', Arial, sans-serif" font-size="98" fill="#000">1</text>
<text id="lg_2" x="0" y="0" transform="matrix(1.03333 0.00000 0.00000 1.03768 2105.53 502.80)" font-family="'Liberation Sans', Arial, sans-serif" font-size="98" fill="#000">2</text>
<text id="lg_3" x="0" y="0" transform="matrix(1.00000 0.00000 0.00000 0.98429 2113.00 609.61)" font-family="'Liberation Sans', Arial, sans-serif" font-size="98" fill="#000">3</text>
<text id="lg_5" x="0" y="0" transform="matrix(0.98043 0.00000 0.00000 1.01014 2108.68 729.99)" font-family="'Liberation Sans', Arial, sans-serif" font-size="98" fill="#000">5</text>
<text id="lg_7" x="0" y="0" transform="matrix(1.04889 0.00000 0.00000 1.05224 2111.76 851.62)" font-family="'Liberation Sans', Arial, sans-serif" font-size="98" fill="#000">7</text>
<text id="lg_10" x="0" y="0" transform="matrix(0.99286 0.00000 0.00000 0.99286 2067.25 963.81)" font-family="'Liberation Sans', Arial, sans-serif" font-size="98" fill="#000">10</text>
<text id="lg_15" x="0" y="0" transform="matrix(1.02319 0.00000 0.00000 1.02319 2074.77 1104.98)" font-family="'Liberation Sans', Arial, sans-serif" font-size="98" fill="#000">15</text>
<text id="lg_20" x="0" y="0" transform="matrix(0.98300 0.00000 0.00000 0.98857 2067.89 1229.22)" font-family="'Liberation Sans', Arial, sans-serif" font-size="98" fill="#000">20</text>
<text id="pk1700" x="0" y="0" transform="matrix(0.90543 -0.65474 0.47766 0.89412 575.28 340.40)" font-family="'Liberation Serif', 'Times New Roman', serif" font-size="56" fill="#000" letter-spacing="7" stroke="#fff" stroke-width="1.3" paint-order="fill">1700</text>
<text id="pk1642" x="0" y="0" transform="matrix(0.91689 -0.65101 0.48370 0.88902 1209.56 339.55)" font-family="'Liberation Serif', 'Times New Roman', serif" font-size="56" fill="#000" letter-spacing="7" stroke="#fff" stroke-width="1.3" paint-order="fill">1642</text>
<text id="pk1622" x="0" y="0" transform="matrix(0.93050 -0.61729 0.49088 0.84297 1441.43 344.15)" font-family="'Liberation Serif', 'Times New Roman', serif" font-size="56" fill="#000" letter-spacing="7" stroke="#fff" stroke-width="1.3" paint-order="fill">1622</text>
<line x1="1914.5" y1="347.0" x2="2040.0" y2="347.0" stroke="#0000ff" stroke-width="5.6"/>
<line x1="1914.5" y1="472.0" x2="2040.0" y2="472.0" stroke="#000000" stroke-width="5.6"/>
<line x1="1920.3" y1="580.4" x2="2045.8" y2="580.4" stroke="#ff0000" stroke-width="5.6"/>
<line x1="1914.5" y1="700.9" x2="2040.0" y2="700.9" stroke="#ff8000" stroke-width="5.6"/>
<line x1="1920.0" y1="821.0" x2="2046.0" y2="821.0" stroke="#ff5d00" stroke-width="5.6"/>
<line x1="1879.0" y1="934.5" x2="2005.0" y2="934.5" stroke="#c05e00" stroke-width="5.6"/>
<line x1="1888.0" y1="1075.0" x2="2014.0" y2="1075.0" stroke="#94621c" stroke-width="5.6"/>
<line x1="1876.3" y1="1200.1" x2="2001.7" y2="1200.1" stroke="#000000" stroke-width="5.6"/>
</svg></body></html>
